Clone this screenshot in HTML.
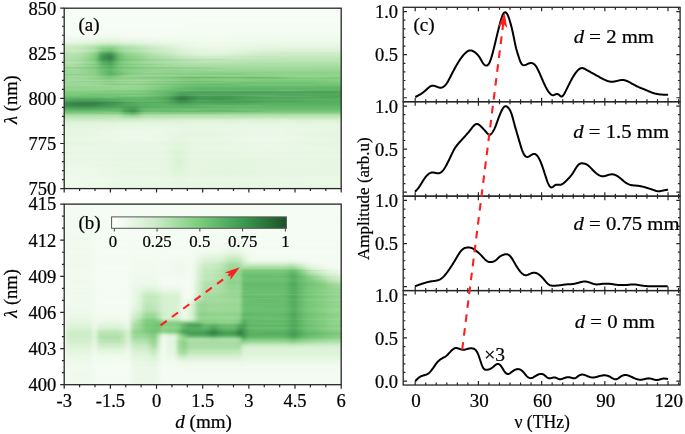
<!DOCTYPE html>
<html><head><meta charset="utf-8"><style>
html,body{margin:0;padding:0;background:#fff;width:685px;height:434px;overflow:hidden}
svg{display:block;font-family:"Liberation Serif",serif;will-change:transform}
</style></head><body>
<svg width="685" height="434" viewBox="0 0 685 434">
<rect width="685" height="434" fill="#fff"/>

<defs>
<clipPath id="clipA"><rect x="64.2" y="8.2" width="277" height="180.4"/></clipPath>
<clipPath id="clipBlk"><rect x="243" y="255" width="100" height="90"/></clipPath>
<clipPath id="clipB"><rect x="64.2" y="204.1" width="277" height="180.6"/></clipPath>
<filter id="bS" x="-10%" y="-50%" width="120%" height="200%"><feGaussianBlur stdDeviation="6 0.4"/></filter>
<filter id="bF" x="-5%" y="-5%" width="110%" height="110%"><feGaussianBlur stdDeviation="1.5 0.8"/></filter>
<filter id="bA" x="-20%" y="-20%" width="140%" height="140%"><feGaussianBlur stdDeviation="5 2"/></filter>
<filter id="bA2" x="-50%" y="-50%" width="200%" height="200%"><feGaussianBlur stdDeviation="2.5 1.5"/></filter>
<filter id="bB" x="-20%" y="-20%" width="140%" height="140%"><feGaussianBlur stdDeviation="3 3"/></filter>
<linearGradient id="gAL" x1="0" y1="0" x2="0" y2="1">
 <stop offset="0" stop-color="#c4e8be"/>
 <stop offset="0.12" stop-color="#a3d99e"/>
 <stop offset="0.4" stop-color="#8ccf8c"/>
 <stop offset="0.6" stop-color="#74c47a"/>
 <stop offset="0.75" stop-color="#5db36b"/>
 <stop offset="0.85" stop-color="#4aa35e"/>
 <stop offset="0.93" stop-color="#6dbd74"/>
 <stop offset="1" stop-color="#c8eac3"/>
</linearGradient>
<linearGradient id="gAR" x1="0" y1="0" x2="0" y2="1">
 <stop offset="0" stop-color="#e0f4dc"/>
 <stop offset="0.15" stop-color="#b6e2b0"/>
 <stop offset="0.4" stop-color="#8fd08f"/>
 <stop offset="0.6" stop-color="#6cbe74"/>
 <stop offset="0.72" stop-color="#52a964"/>
 <stop offset="0.85" stop-color="#50a862"/>
 <stop offset="0.93" stop-color="#74c47a"/>
 <stop offset="1" stop-color="#cdecc8"/>
</linearGradient>
<filter id="blur3" x="-50%" y="-50%" width="200%" height="200%"><feGaussianBlur stdDeviation="3"/></filter>
<filter id="blur4" x="-50%" y="-50%" width="200%" height="200%"><feGaussianBlur stdDeviation="4"/></filter>
<linearGradient id="gA" x1="0" y1="0" x2="0" y2="1">
 <stop offset="0" stop-color="#f8fdf6"/>
 <stop offset="0.15" stop-color="#f2fbef"/>
 <stop offset="0.21" stop-color="#d6efd1"/>
 <stop offset="0.30" stop-color="#b3e0ac"/>
 <stop offset="0.42" stop-color="#98d595"/>
 <stop offset="0.48" stop-color="#7ccb80"/>
 <stop offset="0.52" stop-color="#5ab56a"/>
 <stop offset="0.56" stop-color="#4eaa60"/>
 <stop offset="0.60" stop-color="#6fc277"/>
 <stop offset="0.63" stop-color="#b8e4b2"/>
 <stop offset="0.67" stop-color="#e2f5de"/>
 <stop offset="1" stop-color="#eaf8e7"/>
</linearGradient>
<linearGradient id="gCB" x1="0" y1="0" x2="1" y2="0">
 <stop offset="0" stop-color="#ffffff"/>
 <stop offset="0.25" stop-color="#cdebc8"/>
 <stop offset="0.5" stop-color="#7ccd7c"/>
 <stop offset="0.75" stop-color="#3b9a51"/>
 <stop offset="1" stop-color="#1b5228"/>
</linearGradient>
</defs>

<defs><linearGradient id="clipA5" gradientUnits="userSpaceOnUse" x1="54.2" y1="0" x2="350.2" y2="0"><stop offset="0" stop-color="#f6fdf6"/><stop offset="0.32" stop-color="#f6fdf6"/><stop offset="0.35" stop-color="#f6fcf5"/><stop offset="1" stop-color="#f6fcf5"/></linearGradient><linearGradient id="clipA6" gradientUnits="userSpaceOnUse" x1="54.2" y1="0" x2="350.2" y2="0"><stop offset="0" stop-color="#f6fcf5"/><stop offset="0.43" stop-color="#f6fcf5"/><stop offset="0.46" stop-color="#f6fcf4"/><stop offset="1" stop-color="#f6fcf4"/></linearGradient><linearGradient id="clipA8" gradientUnits="userSpaceOnUse" x1="54.2" y1="0" x2="350.2" y2="0"><stop offset="0" stop-color="#f6fdf6"/><stop offset="0.08" stop-color="#f6fdf6"/><stop offset="0.11" stop-color="#f6fcf5"/><stop offset="1" stop-color="#f6fcf5"/></linearGradient><linearGradient id="clipA9" gradientUnits="userSpaceOnUse" x1="54.2" y1="0" x2="350.2" y2="0"><stop offset="0" stop-color="#f6fcf5"/><stop offset="0.43" stop-color="#f6fcf5"/><stop offset="0.46" stop-color="#f6fcf4"/><stop offset="1" stop-color="#f6fcf4"/></linearGradient><linearGradient id="clipA10" gradientUnits="userSpaceOnUse" x1="54.2" y1="0" x2="350.2" y2="0"><stop offset="0" stop-color="#f6fcf5"/><stop offset="0.46" stop-color="#f6fcf5"/><stop offset="0.49" stop-color="#f6fcf4"/><stop offset="1" stop-color="#f6fcf4"/></linearGradient><linearGradient id="clipA11" gradientUnits="userSpaceOnUse" x1="54.2" y1="0" x2="350.2" y2="0"><stop offset="0" stop-color="#f6fcf5"/><stop offset="0.08" stop-color="#f6fcf5"/><stop offset="0.11" stop-color="#f6fcf4"/><stop offset="0.14" stop-color="#f5fcf4"/><stop offset="0.27" stop-color="#f5fcf4"/><stop offset="0.3" stop-color="#f6fcf4"/><stop offset="0.32" stop-color="#f5fcf4"/><stop offset="1" stop-color="#f5fcf4"/></linearGradient><linearGradient id="clipA12" gradientUnits="userSpaceOnUse" x1="54.2" y1="0" x2="350.2" y2="0"><stop offset="0" stop-color="#f6fcf5"/><stop offset="0.08" stop-color="#f6fcf5"/><stop offset="0.11" stop-color="#f6fcf4"/><stop offset="0.14" stop-color="#f5fcf4"/><stop offset="0.24" stop-color="#f5fcf4"/><stop offset="0.27" stop-color="#f6fcf4"/><stop offset="0.32" stop-color="#f6fcf4"/><stop offset="0.35" stop-color="#f5fcf4"/><stop offset="1" stop-color="#f5fcf4"/></linearGradient><linearGradient id="clipA13" gradientUnits="userSpaceOnUse" x1="54.2" y1="0" x2="350.2" y2="0"><stop offset="0" stop-color="#f6fcf5"/><stop offset="0.08" stop-color="#f6fcf5"/><stop offset="0.11" stop-color="#f6fcf4"/><stop offset="0.14" stop-color="#f5fcf4"/><stop offset="0.24" stop-color="#f5fcf4"/><stop offset="0.27" stop-color="#f6fcf4"/><stop offset="0.32" stop-color="#f6fcf4"/><stop offset="0.35" stop-color="#f5fcf4"/><stop offset="0.38" stop-color="#f5fcf4"/><stop offset="0.41" stop-color="#f5fcf3"/><stop offset="0.43" stop-color="#f5fcf3"/><stop offset="0.46" stop-color="#f4fcf3"/><stop offset="1" stop-color="#f4fcf3"/></linearGradient><linearGradient id="clipA14" gradientUnits="userSpaceOnUse" x1="54.2" y1="0" x2="350.2" y2="0"><stop offset="0" stop-color="#f6fcf5"/><stop offset="0.11" stop-color="#f6fcf5"/><stop offset="0.14" stop-color="#f5fcf4"/><stop offset="0.16" stop-color="#f5fcf4"/><stop offset="0.19" stop-color="#f5fcf3"/><stop offset="0.22" stop-color="#f5fcf4"/><stop offset="0.24" stop-color="#f5fcf4"/><stop offset="0.27" stop-color="#f6fcf4"/><stop offset="0.3" stop-color="#f6fcf5"/><stop offset="0.32" stop-color="#f5fcf4"/><stop offset="0.35" stop-color="#f5fcf4"/><stop offset="0.38" stop-color="#f5fcf3"/><stop offset="0.41" stop-color="#f4fcf3"/><stop offset="0.43" stop-color="#f4fbf2"/><stop offset="1" stop-color="#f4fbf2"/></linearGradient><linearGradient id="clipA15" gradientUnits="userSpaceOnUse" x1="54.2" y1="0" x2="350.2" y2="0"><stop offset="0" stop-color="#f5fcf4"/><stop offset="0.08" stop-color="#f5fcf4"/><stop offset="0.11" stop-color="#f5fcf3"/><stop offset="0.14" stop-color="#f4fbf2"/><stop offset="0.16" stop-color="#f3fbf2"/><stop offset="0.19" stop-color="#f3fbf1"/><stop offset="0.22" stop-color="#f3fbf2"/><stop offset="0.24" stop-color="#f4fbf2"/><stop offset="0.27" stop-color="#f4fcf3"/><stop offset="0.3" stop-color="#f5fcf3"/><stop offset="0.32" stop-color="#f5fcf3"/><stop offset="0.35" stop-color="#f4fcf3"/><stop offset="0.38" stop-color="#f4fbf2"/><stop offset="0.41" stop-color="#f3fbf2"/><stop offset="0.43" stop-color="#f3fbf1"/><stop offset="0.59" stop-color="#f3fbf1"/><stop offset="0.62" stop-color="#f2fbf1"/><stop offset="0.78" stop-color="#f2fbf1"/><stop offset="0.81" stop-color="#f2fbf0"/><stop offset="1" stop-color="#f2fbf0"/></linearGradient><linearGradient id="clipA16" gradientUnits="userSpaceOnUse" x1="54.2" y1="0" x2="350.2" y2="0"><stop offset="0" stop-color="#f2faef"/><stop offset="0.03" stop-color="#f2fbf0"/><stop offset="0.05" stop-color="#f2fbf0"/><stop offset="0.08" stop-color="#f1faef"/><stop offset="0.11" stop-color="#f1faee"/><stop offset="0.14" stop-color="#f0faed"/><stop offset="0.16" stop-color="#eff9ec"/><stop offset="0.19" stop-color="#eef9eb"/><stop offset="0.22" stop-color="#eff9ec"/><stop offset="0.24" stop-color="#effaed"/><stop offset="0.27" stop-color="#f0faee"/><stop offset="0.3" stop-color="#f1faef"/><stop offset="0.32" stop-color="#f1faef"/><stop offset="0.35" stop-color="#f2faef"/><stop offset="0.38" stop-color="#f2fbf0"/><stop offset="1" stop-color="#f2fbf0"/></linearGradient><linearGradient id="clipA17" gradientUnits="userSpaceOnUse" x1="54.2" y1="0" x2="350.2" y2="0"><stop offset="0" stop-color="#edf9ea"/><stop offset="0.05" stop-color="#edf9ea"/><stop offset="0.08" stop-color="#edf8e9"/><stop offset="0.11" stop-color="#eaf8e7"/><stop offset="0.14" stop-color="#e8f7e4"/><stop offset="0.16" stop-color="#e6f6e2"/><stop offset="0.19" stop-color="#e5f6e1"/><stop offset="0.22" stop-color="#e6f6e2"/><stop offset="0.24" stop-color="#e8f7e4"/><stop offset="0.27" stop-color="#eaf7e6"/><stop offset="0.3" stop-color="#ebf8e8"/><stop offset="0.32" stop-color="#edf9ea"/><stop offset="0.35" stop-color="#eef9eb"/><stop offset="0.38" stop-color="#eff9ec"/><stop offset="0.41" stop-color="#effaed"/><stop offset="0.43" stop-color="#f0faee"/><stop offset="0.46" stop-color="#f1faee"/><stop offset="0.49" stop-color="#f1faef"/><stop offset="0.57" stop-color="#f1faef"/><stop offset="0.59" stop-color="#f1faee"/><stop offset="0.62" stop-color="#f1faee"/><stop offset="0.65" stop-color="#f0faee"/><stop offset="1" stop-color="#f0faee"/></linearGradient><linearGradient id="clipA18" gradientUnits="userSpaceOnUse" x1="54.2" y1="0" x2="350.2" y2="0"><stop offset="0" stop-color="#ebf8e8"/><stop offset="0.03" stop-color="#ecf8e9"/><stop offset="0.05" stop-color="#ecf8e9"/><stop offset="0.08" stop-color="#ebf8e8"/><stop offset="0.11" stop-color="#e8f7e5"/><stop offset="0.14" stop-color="#e5f6e1"/><stop offset="0.16" stop-color="#e2f5de"/><stop offset="0.19" stop-color="#e1f4dc"/><stop offset="0.22" stop-color="#e3f5de"/><stop offset="0.24" stop-color="#e5f6e1"/><stop offset="0.27" stop-color="#e7f7e4"/><stop offset="0.3" stop-color="#e9f7e6"/><stop offset="0.32" stop-color="#ebf8e8"/><stop offset="0.35" stop-color="#ecf8e9"/><stop offset="0.38" stop-color="#edf9ea"/><stop offset="0.41" stop-color="#eef9eb"/><stop offset="0.43" stop-color="#eff9ec"/><stop offset="0.46" stop-color="#eff9ec"/><stop offset="0.49" stop-color="#f0faed"/><stop offset="0.57" stop-color="#f0faed"/><stop offset="0.59" stop-color="#effaed"/><stop offset="0.62" stop-color="#eff9ec"/><stop offset="0.68" stop-color="#eff9ec"/><stop offset="0.7" stop-color="#eef9eb"/><stop offset="1" stop-color="#eef9eb"/></linearGradient><linearGradient id="clipA19" gradientUnits="userSpaceOnUse" x1="54.2" y1="0" x2="350.2" y2="0"><stop offset="0" stop-color="#e1f5dd"/><stop offset="0.03" stop-color="#e2f5de"/><stop offset="0.05" stop-color="#e3f5df"/><stop offset="0.08" stop-color="#e1f5dd"/><stop offset="0.11" stop-color="#ddf3d9"/><stop offset="0.14" stop-color="#d8f1d3"/><stop offset="0.16" stop-color="#d2eecc"/><stop offset="0.19" stop-color="#cfedc9"/><stop offset="0.22" stop-color="#d3efce"/><stop offset="0.24" stop-color="#d8f1d3"/><stop offset="0.27" stop-color="#dcf3d7"/><stop offset="0.3" stop-color="#dff4da"/><stop offset="0.32" stop-color="#e1f5dd"/><stop offset="0.35" stop-color="#e3f5df"/><stop offset="0.38" stop-color="#e6f6e2"/><stop offset="0.41" stop-color="#e8f7e4"/><stop offset="0.43" stop-color="#eaf8e6"/><stop offset="0.46" stop-color="#ecf8e8"/><stop offset="0.49" stop-color="#edf9ea"/><stop offset="0.51" stop-color="#edf9ea"/><stop offset="0.54" stop-color="#eef9eb"/><stop offset="0.57" stop-color="#edf9ea"/><stop offset="0.59" stop-color="#ecf8e9"/><stop offset="0.62" stop-color="#ecf8e8"/><stop offset="0.65" stop-color="#ebf8e7"/><stop offset="0.68" stop-color="#eaf8e6"/><stop offset="0.7" stop-color="#e9f7e6"/><stop offset="0.73" stop-color="#e9f7e6"/><stop offset="0.76" stop-color="#e9f7e5"/><stop offset="1" stop-color="#e9f7e5"/></linearGradient><linearGradient id="clipA20" gradientUnits="userSpaceOnUse" x1="54.2" y1="0" x2="350.2" y2="0"><stop offset="0" stop-color="#d1eecc"/><stop offset="0.03" stop-color="#d3efce"/><stop offset="0.05" stop-color="#d4efcf"/><stop offset="0.08" stop-color="#d1eecc"/><stop offset="0.11" stop-color="#cbecc6"/><stop offset="0.14" stop-color="#c3e8be"/><stop offset="0.16" stop-color="#b7e3b1"/><stop offset="0.19" stop-color="#b1e1ac"/><stop offset="0.22" stop-color="#bce5b6"/><stop offset="0.24" stop-color="#c3e8bd"/><stop offset="0.27" stop-color="#c8eac3"/><stop offset="0.3" stop-color="#ceedc9"/><stop offset="0.32" stop-color="#d4f0cf"/><stop offset="0.35" stop-color="#daf2d5"/><stop offset="0.38" stop-color="#dff4da"/><stop offset="0.41" stop-color="#e3f5df"/><stop offset="0.43" stop-color="#e8f7e4"/><stop offset="0.46" stop-color="#ecf8e8"/><stop offset="0.49" stop-color="#eef9eb"/><stop offset="0.51" stop-color="#eff9ec"/><stop offset="0.54" stop-color="#eff9ec"/><stop offset="0.57" stop-color="#eef9eb"/><stop offset="0.59" stop-color="#edf9ea"/><stop offset="0.62" stop-color="#ecf8e9"/><stop offset="0.65" stop-color="#ebf8e7"/><stop offset="0.68" stop-color="#e9f7e6"/><stop offset="0.7" stop-color="#e9f7e5"/><stop offset="0.73" stop-color="#e8f7e5"/><stop offset="0.76" stop-color="#e8f7e4"/><stop offset="1" stop-color="#e8f7e4"/></linearGradient><linearGradient id="clipA21" gradientUnits="userSpaceOnUse" x1="54.2" y1="0" x2="350.2" y2="0"><stop offset="0" stop-color="#bee6b8"/><stop offset="0.03" stop-color="#c1e7bb"/><stop offset="0.05" stop-color="#c3e8bd"/><stop offset="0.08" stop-color="#bfe7b9"/><stop offset="0.11" stop-color="#b5e2b0"/><stop offset="0.14" stop-color="#a7dda2"/><stop offset="0.16" stop-color="#90d38c"/><stop offset="0.19" stop-color="#86cf83"/><stop offset="0.22" stop-color="#9cd897"/><stop offset="0.24" stop-color="#a7dca2"/><stop offset="0.27" stop-color="#b0e0aa"/><stop offset="0.3" stop-color="#bae4b4"/><stop offset="0.32" stop-color="#c3e8bd"/><stop offset="0.35" stop-color="#cbecc6"/><stop offset="0.38" stop-color="#d4efcf"/><stop offset="0.41" stop-color="#dcf3d7"/><stop offset="0.43" stop-color="#e2f5de"/><stop offset="0.46" stop-color="#e8f7e4"/><stop offset="0.49" stop-color="#ebf8e8"/><stop offset="0.51" stop-color="#ecf8e9"/><stop offset="0.54" stop-color="#edf8e9"/><stop offset="0.57" stop-color="#ecf8e9"/><stop offset="0.59" stop-color="#eaf8e7"/><stop offset="0.62" stop-color="#e8f7e4"/><stop offset="0.65" stop-color="#e6f6e2"/><stop offset="0.68" stop-color="#e4f6e0"/><stop offset="0.7" stop-color="#e3f5df"/><stop offset="0.73" stop-color="#e2f5de"/><stop offset="1" stop-color="#e2f5de"/></linearGradient><linearGradient id="clipA22" gradientUnits="userSpaceOnUse" x1="54.2" y1="0" x2="350.2" y2="0"><stop offset="0" stop-color="#c4e9be"/><stop offset="0.03" stop-color="#c7eac2"/><stop offset="0.05" stop-color="#c9ebc3"/><stop offset="0.08" stop-color="#c6e9c0"/><stop offset="0.11" stop-color="#bce5b7"/><stop offset="0.14" stop-color="#acdfa7"/><stop offset="0.16" stop-color="#8ad187"/><stop offset="0.19" stop-color="#7dcc7b"/><stop offset="0.22" stop-color="#a0d99b"/><stop offset="0.24" stop-color="#addfa8"/><stop offset="0.27" stop-color="#b6e3b0"/><stop offset="0.3" stop-color="#bfe7b9"/><stop offset="0.32" stop-color="#c6eac1"/><stop offset="0.35" stop-color="#cdedc8"/><stop offset="0.38" stop-color="#d4efcf"/><stop offset="0.41" stop-color="#dbf2d6"/><stop offset="0.43" stop-color="#e0f4dc"/><stop offset="0.46" stop-color="#e5f6e1"/><stop offset="0.49" stop-color="#e8f7e5"/><stop offset="0.51" stop-color="#eaf7e6"/><stop offset="0.54" stop-color="#eaf8e6"/><stop offset="0.57" stop-color="#e9f7e5"/><stop offset="0.59" stop-color="#e7f7e3"/><stop offset="0.62" stop-color="#e5f6e1"/><stop offset="0.65" stop-color="#e3f5de"/><stop offset="0.68" stop-color="#e1f4dc"/><stop offset="0.7" stop-color="#dff4db"/><stop offset="0.73" stop-color="#dff4da"/><stop offset="0.76" stop-color="#def3da"/><stop offset="0.78" stop-color="#def3d9"/><stop offset="1" stop-color="#def3d9"/></linearGradient><linearGradient id="clipA23" gradientUnits="userSpaceOnUse" x1="54.2" y1="0" x2="350.2" y2="0"><stop offset="0" stop-color="#c2e8bc"/><stop offset="0.03" stop-color="#c6e9c0"/><stop offset="0.05" stop-color="#c8eac2"/><stop offset="0.08" stop-color="#c5e9bf"/><stop offset="0.11" stop-color="#b9e4b4"/><stop offset="0.14" stop-color="#a6dca1"/><stop offset="0.16" stop-color="#75c675"/><stop offset="0.19" stop-color="#65bc6a"/><stop offset="0.22" stop-color="#96d592"/><stop offset="0.24" stop-color="#a8dda3"/><stop offset="0.27" stop-color="#b2e1ac"/><stop offset="0.3" stop-color="#bbe5b6"/><stop offset="0.32" stop-color="#c3e8bd"/><stop offset="0.35" stop-color="#caebc4"/><stop offset="0.38" stop-color="#d0eecb"/><stop offset="0.41" stop-color="#d7f1d2"/><stop offset="0.43" stop-color="#ddf3d8"/><stop offset="0.46" stop-color="#e1f5dd"/><stop offset="0.49" stop-color="#e5f6e1"/><stop offset="0.51" stop-color="#e6f6e2"/><stop offset="0.54" stop-color="#e7f6e3"/><stop offset="0.57" stop-color="#e6f6e2"/><stop offset="0.59" stop-color="#e4f5e0"/><stop offset="0.62" stop-color="#e1f4dd"/><stop offset="0.65" stop-color="#dff4da"/><stop offset="0.68" stop-color="#ddf3d8"/><stop offset="0.7" stop-color="#dbf2d6"/><stop offset="0.73" stop-color="#daf2d6"/><stop offset="0.76" stop-color="#daf2d5"/><stop offset="1" stop-color="#daf2d5"/></linearGradient><linearGradient id="clipA24" gradientUnits="userSpaceOnUse" x1="54.2" y1="0" x2="350.2" y2="0"><stop offset="0" stop-color="#aedfa8"/><stop offset="0.03" stop-color="#b4e2ae"/><stop offset="0.05" stop-color="#b8e3b2"/><stop offset="0.08" stop-color="#b2e1ad"/><stop offset="0.11" stop-color="#a3db9e"/><stop offset="0.14" stop-color="#87cf84"/><stop offset="0.16" stop-color="#4da659"/><stop offset="0.19" stop-color="#3f944e"/><stop offset="0.22" stop-color="#73c574"/><stop offset="0.24" stop-color="#8bd188"/><stop offset="0.27" stop-color="#98d694"/><stop offset="0.3" stop-color="#a5db9f"/><stop offset="0.32" stop-color="#afe0aa"/><stop offset="0.35" stop-color="#bae4b4"/><stop offset="0.38" stop-color="#c3e8bd"/><stop offset="0.41" stop-color="#cbecc6"/><stop offset="0.43" stop-color="#d4efce"/><stop offset="0.46" stop-color="#dbf2d6"/><stop offset="0.49" stop-color="#dff4da"/><stop offset="0.51" stop-color="#e0f4dc"/><stop offset="0.54" stop-color="#e1f4dc"/><stop offset="0.57" stop-color="#dff4db"/><stop offset="0.59" stop-color="#ddf3d9"/><stop offset="0.62" stop-color="#dbf2d6"/><stop offset="0.65" stop-color="#d7f1d2"/><stop offset="0.68" stop-color="#d4f0cf"/><stop offset="0.7" stop-color="#d2efcd"/><stop offset="0.73" stop-color="#d1eecc"/><stop offset="0.76" stop-color="#d0eecb"/><stop offset="1" stop-color="#d0eecb"/></linearGradient><linearGradient id="clipA25" gradientUnits="userSpaceOnUse" x1="54.2" y1="0" x2="350.2" y2="0"><stop offset="0" stop-color="#aadea5"/><stop offset="0.03" stop-color="#b1e1ab"/><stop offset="0.05" stop-color="#b5e3b0"/><stop offset="0.08" stop-color="#b0e0aa"/><stop offset="0.11" stop-color="#a0d99b"/><stop offset="0.14" stop-color="#82ce80"/><stop offset="0.16" stop-color="#439a52"/><stop offset="0.19" stop-color="#348345"/><stop offset="0.22" stop-color="#6ec270"/><stop offset="0.24" stop-color="#88d085"/><stop offset="0.27" stop-color="#94d590"/><stop offset="0.3" stop-color="#a1da9b"/><stop offset="0.32" stop-color="#abdea5"/><stop offset="0.35" stop-color="#b4e2ae"/><stop offset="0.38" stop-color="#bde6b7"/><stop offset="0.41" stop-color="#c5e9bf"/><stop offset="0.43" stop-color="#ccecc7"/><stop offset="0.46" stop-color="#d3efcd"/><stop offset="0.49" stop-color="#d7f1d2"/><stop offset="0.51" stop-color="#d9f2d4"/><stop offset="0.54" stop-color="#d9f2d4"/><stop offset="0.57" stop-color="#d8f1d3"/><stop offset="0.59" stop-color="#d6f0d0"/><stop offset="0.62" stop-color="#d3efcd"/><stop offset="0.65" stop-color="#d0eeca"/><stop offset="0.68" stop-color="#cdedc8"/><stop offset="0.7" stop-color="#ccecc6"/><stop offset="0.73" stop-color="#cbebc5"/><stop offset="0.76" stop-color="#caebc4"/><stop offset="0.86" stop-color="#caebc4"/><stop offset="0.89" stop-color="#c9ebc4"/><stop offset="1" stop-color="#c9ebc4"/></linearGradient><linearGradient id="clipA26" gradientUnits="userSpaceOnUse" x1="54.2" y1="0" x2="350.2" y2="0"><stop offset="0" stop-color="#a1da9c"/><stop offset="0.03" stop-color="#a8dda3"/><stop offset="0.05" stop-color="#aedfa8"/><stop offset="0.08" stop-color="#a8dda3"/><stop offset="0.11" stop-color="#96d592"/><stop offset="0.14" stop-color="#77c877"/><stop offset="0.16" stop-color="#3b8e4b"/><stop offset="0.19" stop-color="#2d753d"/><stop offset="0.22" stop-color="#63bb69"/><stop offset="0.24" stop-color="#7ccb7a"/><stop offset="0.27" stop-color="#89d086"/><stop offset="0.3" stop-color="#95d591"/><stop offset="0.32" stop-color="#a0d99b"/><stop offset="0.35" stop-color="#a8dda3"/><stop offset="0.38" stop-color="#b1e0ab"/><stop offset="0.41" stop-color="#b9e4b3"/><stop offset="0.43" stop-color="#c1e7bb"/><stop offset="0.46" stop-color="#c6eac0"/><stop offset="0.49" stop-color="#caebc4"/><stop offset="0.51" stop-color="#cbecc6"/><stop offset="0.54" stop-color="#ccecc6"/><stop offset="0.57" stop-color="#cbebc5"/><stop offset="0.59" stop-color="#c9ebc3"/><stop offset="0.62" stop-color="#c6eac0"/><stop offset="0.65" stop-color="#c4e9be"/><stop offset="0.68" stop-color="#c2e8bc"/><stop offset="0.7" stop-color="#c0e7ba"/><stop offset="0.73" stop-color="#bfe7b9"/><stop offset="0.76" stop-color="#bfe6b9"/><stop offset="0.78" stop-color="#bfe6b9"/><stop offset="0.81" stop-color="#bee6b8"/><stop offset="1" stop-color="#bee6b8"/></linearGradient><linearGradient id="clipA27" gradientUnits="userSpaceOnUse" x1="54.2" y1="0" x2="350.2" y2="0"><stop offset="0" stop-color="#a3db9e"/><stop offset="0.03" stop-color="#aadea5"/><stop offset="0.05" stop-color="#b0e0aa"/><stop offset="0.08" stop-color="#aadea5"/><stop offset="0.11" stop-color="#99d694"/><stop offset="0.14" stop-color="#7bca79"/><stop offset="0.16" stop-color="#419750"/><stop offset="0.19" stop-color="#317e42"/><stop offset="0.22" stop-color="#68be6c"/><stop offset="0.24" stop-color="#7ecc7c"/><stop offset="0.27" stop-color="#8bd188"/><stop offset="0.3" stop-color="#97d693"/><stop offset="0.32" stop-color="#a1da9c"/><stop offset="0.35" stop-color="#a8dda3"/><stop offset="0.38" stop-color="#b0e0aa"/><stop offset="0.41" stop-color="#b7e3b1"/><stop offset="0.43" stop-color="#bde6b7"/><stop offset="0.46" stop-color="#c2e8bc"/><stop offset="0.49" stop-color="#c5e9bf"/><stop offset="0.51" stop-color="#c6eac1"/><stop offset="0.54" stop-color="#c6eac1"/><stop offset="0.57" stop-color="#c6e9c0"/><stop offset="0.59" stop-color="#c4e9bf"/><stop offset="0.62" stop-color="#c3e8bd"/><stop offset="0.65" stop-color="#c1e7bb"/><stop offset="0.68" stop-color="#c0e7ba"/><stop offset="0.7" stop-color="#bee6b8"/><stop offset="0.73" stop-color="#bee6b8"/><stop offset="0.76" stop-color="#bde6b7"/><stop offset="1" stop-color="#bde6b7"/></linearGradient><linearGradient id="clipA28" gradientUnits="userSpaceOnUse" x1="54.2" y1="0" x2="350.2" y2="0"><stop offset="0" stop-color="#a8dda3"/><stop offset="0.03" stop-color="#afe0aa"/><stop offset="0.05" stop-color="#b5e2af"/><stop offset="0.08" stop-color="#b0e0aa"/><stop offset="0.11" stop-color="#a0d99b"/><stop offset="0.14" stop-color="#86cf83"/><stop offset="0.16" stop-color="#50a95b"/><stop offset="0.19" stop-color="#3e934e"/><stop offset="0.22" stop-color="#73c574"/><stop offset="0.24" stop-color="#87d084"/><stop offset="0.27" stop-color="#93d48f"/><stop offset="0.3" stop-color="#9dd898"/><stop offset="0.32" stop-color="#a5db9f"/><stop offset="0.35" stop-color="#abdea5"/><stop offset="0.38" stop-color="#b0e0aa"/><stop offset="0.41" stop-color="#b5e2af"/><stop offset="0.43" stop-color="#b9e4b3"/><stop offset="0.46" stop-color="#bde6b7"/><stop offset="0.49" stop-color="#bfe7b9"/><stop offset="0.51" stop-color="#c0e7ba"/><stop offset="0.57" stop-color="#c0e7ba"/><stop offset="0.59" stop-color="#bfe7b9"/><stop offset="0.62" stop-color="#bee6b8"/><stop offset="0.65" stop-color="#bce5b6"/><stop offset="0.68" stop-color="#bbe5b5"/><stop offset="0.7" stop-color="#bbe5b5"/><stop offset="0.73" stop-color="#bae4b4"/><stop offset="1" stop-color="#bae4b4"/></linearGradient><linearGradient id="clipA29" gradientUnits="userSpaceOnUse" x1="54.2" y1="0" x2="350.2" y2="0"><stop offset="0" stop-color="#a1da9c"/><stop offset="0.03" stop-color="#a8dda3"/><stop offset="0.05" stop-color="#addfa8"/><stop offset="0.08" stop-color="#a8dda3"/><stop offset="0.11" stop-color="#99d694"/><stop offset="0.14" stop-color="#81cd7f"/><stop offset="0.16" stop-color="#57b061"/><stop offset="0.19" stop-color="#459d53"/><stop offset="0.22" stop-color="#71c472"/><stop offset="0.24" stop-color="#80cd7e"/><stop offset="0.27" stop-color="#8bd188"/><stop offset="0.3" stop-color="#94d590"/><stop offset="0.32" stop-color="#9bd897"/><stop offset="0.35" stop-color="#a0d99b"/><stop offset="0.38" stop-color="#a4db9f"/><stop offset="0.41" stop-color="#a7dca2"/><stop offset="0.43" stop-color="#aadea5"/><stop offset="0.46" stop-color="#addfa7"/><stop offset="0.49" stop-color="#aedfa9"/><stop offset="0.51" stop-color="#afe0a9"/><stop offset="0.54" stop-color="#afe0a9"/><stop offset="0.57" stop-color="#aee0a9"/><stop offset="0.59" stop-color="#aedfa8"/><stop offset="0.62" stop-color="#addfa8"/><stop offset="0.65" stop-color="#acdfa7"/><stop offset="0.68" stop-color="#acdea6"/><stop offset="0.7" stop-color="#abdea6"/><stop offset="0.73" stop-color="#abdea6"/><stop offset="0.76" stop-color="#abdea5"/><stop offset="1" stop-color="#abdea5"/></linearGradient><linearGradient id="clipA30" gradientUnits="userSpaceOnUse" x1="54.2" y1="0" x2="350.2" y2="0"><stop offset="0" stop-color="#a2da9d"/><stop offset="0.03" stop-color="#a9dda4"/><stop offset="0.05" stop-color="#aedfa8"/><stop offset="0.08" stop-color="#aadda4"/><stop offset="0.11" stop-color="#9cd897"/><stop offset="0.14" stop-color="#89d086"/><stop offset="0.16" stop-color="#67bd6c"/><stop offset="0.19" stop-color="#54ad5e"/><stop offset="0.22" stop-color="#7aca78"/><stop offset="0.24" stop-color="#86cf84"/><stop offset="0.27" stop-color="#90d38c"/><stop offset="0.3" stop-color="#98d693"/><stop offset="0.32" stop-color="#9dd898"/><stop offset="0.35" stop-color="#a1da9c"/><stop offset="0.38" stop-color="#a4db9f"/><stop offset="0.41" stop-color="#a7dca1"/><stop offset="0.43" stop-color="#a9dda4"/><stop offset="0.46" stop-color="#abdea5"/><stop offset="0.49" stop-color="#acdea6"/><stop offset="0.57" stop-color="#acdea6"/><stop offset="0.59" stop-color="#abdea6"/><stop offset="0.62" stop-color="#abdea6"/><stop offset="0.65" stop-color="#abdea5"/><stop offset="0.68" stop-color="#aadea5"/><stop offset="1" stop-color="#aadea5"/></linearGradient><linearGradient id="clipA31" gradientUnits="userSpaceOnUse" x1="54.2" y1="0" x2="350.2" y2="0"><stop offset="0" stop-color="#95d590"/><stop offset="0.03" stop-color="#9bd797"/><stop offset="0.05" stop-color="#a0d99b"/><stop offset="0.08" stop-color="#9cd897"/><stop offset="0.11" stop-color="#8ed28b"/><stop offset="0.14" stop-color="#7dcc7b"/><stop offset="0.16" stop-color="#64bb6a"/><stop offset="0.19" stop-color="#54ad5e"/><stop offset="0.22" stop-color="#71c473"/><stop offset="0.24" stop-color="#7aca79"/><stop offset="0.27" stop-color="#83ce80"/><stop offset="0.3" stop-color="#8ad187"/><stop offset="0.32" stop-color="#8fd38c"/><stop offset="0.35" stop-color="#93d48f"/><stop offset="0.38" stop-color="#96d592"/><stop offset="0.41" stop-color="#98d694"/><stop offset="0.43" stop-color="#9ad795"/><stop offset="0.46" stop-color="#9bd897"/><stop offset="0.49" stop-color="#9cd898"/><stop offset="0.57" stop-color="#9cd898"/><stop offset="0.59" stop-color="#9cd897"/><stop offset="0.7" stop-color="#9cd897"/><stop offset="0.73" stop-color="#9bd897"/><stop offset="1" stop-color="#9bd897"/></linearGradient><linearGradient id="clipA32" gradientUnits="userSpaceOnUse" x1="54.2" y1="0" x2="350.2" y2="0"><stop offset="0" stop-color="#9ad795"/><stop offset="0.03" stop-color="#9fd99a"/><stop offset="0.05" stop-color="#a3db9e"/><stop offset="0.08" stop-color="#a0d99b"/><stop offset="0.11" stop-color="#95d591"/><stop offset="0.14" stop-color="#87d084"/><stop offset="0.16" stop-color="#72c473"/><stop offset="0.19" stop-color="#60b967"/><stop offset="0.22" stop-color="#7bca79"/><stop offset="0.24" stop-color="#84ce81"/><stop offset="0.27" stop-color="#8bd188"/><stop offset="0.3" stop-color="#91d38d"/><stop offset="0.32" stop-color="#95d590"/><stop offset="0.35" stop-color="#97d692"/><stop offset="0.38" stop-color="#98d694"/><stop offset="0.41" stop-color="#99d795"/><stop offset="0.43" stop-color="#9ad795"/><stop offset="0.46" stop-color="#9bd796"/><stop offset="1" stop-color="#9bd796"/></linearGradient><linearGradient id="clipA33" gradientUnits="userSpaceOnUse" x1="54.2" y1="0" x2="350.2" y2="0"><stop offset="0" stop-color="#97d693"/><stop offset="0.03" stop-color="#9bd897"/><stop offset="0.05" stop-color="#9fd99a"/><stop offset="0.08" stop-color="#9cd897"/><stop offset="0.11" stop-color="#93d48f"/><stop offset="0.14" stop-color="#86cf83"/><stop offset="0.16" stop-color="#70c372"/><stop offset="0.19" stop-color="#5db665"/><stop offset="0.22" stop-color="#76c776"/><stop offset="0.24" stop-color="#81cd7f"/><stop offset="0.27" stop-color="#8ad187"/><stop offset="0.3" stop-color="#8fd38b"/><stop offset="0.32" stop-color="#91d48e"/><stop offset="0.35" stop-color="#92d48e"/><stop offset="0.43" stop-color="#92d48e"/><stop offset="0.46" stop-color="#91d48e"/><stop offset="0.49" stop-color="#91d48d"/><stop offset="0.62" stop-color="#91d48d"/><stop offset="0.65" stop-color="#91d38d"/><stop offset="1" stop-color="#91d38d"/></linearGradient><linearGradient id="clipA34" gradientUnits="userSpaceOnUse" x1="54.2" y1="0" x2="350.2" y2="0"><stop offset="0" stop-color="#8ed28a"/><stop offset="0.03" stop-color="#92d48e"/><stop offset="0.05" stop-color="#94d590"/><stop offset="0.08" stop-color="#92d48e"/><stop offset="0.11" stop-color="#8ad086"/><stop offset="0.14" stop-color="#7bcb7a"/><stop offset="0.16" stop-color="#63bb69"/><stop offset="0.19" stop-color="#4fa85b"/><stop offset="0.22" stop-color="#64bb69"/><stop offset="0.24" stop-color="#75c675"/><stop offset="0.27" stop-color="#81cd7f"/><stop offset="0.3" stop-color="#87cf84"/><stop offset="0.32" stop-color="#88d085"/><stop offset="0.35" stop-color="#88d085"/><stop offset="0.38" stop-color="#86cf83"/><stop offset="0.41" stop-color="#85cf82"/><stop offset="0.43" stop-color="#84ce81"/><stop offset="0.46" stop-color="#83ce80"/><stop offset="0.49" stop-color="#82cd80"/><stop offset="1" stop-color="#82cd80"/></linearGradient><linearGradient id="clipA35" gradientUnits="userSpaceOnUse" x1="54.2" y1="0" x2="350.2" y2="0"><stop offset="0" stop-color="#9fd99a"/><stop offset="0.03" stop-color="#a2da9d"/><stop offset="0.05" stop-color="#a4db9e"/><stop offset="0.08" stop-color="#a2da9d"/><stop offset="0.11" stop-color="#9cd898"/><stop offset="0.14" stop-color="#92d48e"/><stop offset="0.16" stop-color="#7bca79"/><stop offset="0.19" stop-color="#67bd6c"/><stop offset="0.22" stop-color="#7bcb7a"/><stop offset="0.24" stop-color="#8cd189"/><stop offset="0.27" stop-color="#97d692"/><stop offset="0.3" stop-color="#9ad796"/><stop offset="0.32" stop-color="#9bd796"/><stop offset="0.35" stop-color="#9ad795"/><stop offset="0.38" stop-color="#98d694"/><stop offset="0.41" stop-color="#97d692"/><stop offset="0.43" stop-color="#95d591"/><stop offset="0.46" stop-color="#94d590"/><stop offset="0.49" stop-color="#94d490"/><stop offset="1" stop-color="#94d490"/></linearGradient><linearGradient id="clipA36" gradientUnits="userSpaceOnUse" x1="54.2" y1="0" x2="350.2" y2="0"><stop offset="0" stop-color="#95d591"/><stop offset="0.03" stop-color="#97d693"/><stop offset="0.05" stop-color="#98d694"/><stop offset="0.08" stop-color="#97d693"/><stop offset="0.11" stop-color="#93d48f"/><stop offset="0.14" stop-color="#8dd289"/><stop offset="0.16" stop-color="#7fcc7d"/><stop offset="0.19" stop-color="#73c574"/><stop offset="0.22" stop-color="#83ce80"/><stop offset="0.24" stop-color="#8ad187"/><stop offset="0.27" stop-color="#8fd38b"/><stop offset="0.3" stop-color="#90d38d"/><stop offset="0.32" stop-color="#90d38c"/><stop offset="0.35" stop-color="#8ed28a"/><stop offset="0.38" stop-color="#8bd188"/><stop offset="0.41" stop-color="#88d085"/><stop offset="0.43" stop-color="#86cf83"/><stop offset="0.46" stop-color="#84ce82"/><stop offset="0.49" stop-color="#83ce81"/><stop offset="1" stop-color="#83ce81"/></linearGradient><linearGradient id="clipA37" gradientUnits="userSpaceOnUse" x1="54.2" y1="0" x2="350.2" y2="0"><stop offset="0" stop-color="#9ad795"/><stop offset="0.03" stop-color="#9bd797"/><stop offset="0.05" stop-color="#9cd897"/><stop offset="0.08" stop-color="#9bd897"/><stop offset="0.11" stop-color="#99d794"/><stop offset="0.14" stop-color="#96d591"/><stop offset="0.16" stop-color="#8ed28b"/><stop offset="0.19" stop-color="#85cf83"/><stop offset="0.22" stop-color="#92d48e"/><stop offset="0.24" stop-color="#95d591"/><stop offset="0.27" stop-color="#96d692"/><stop offset="0.3" stop-color="#96d592"/><stop offset="0.32" stop-color="#93d48f"/><stop offset="0.35" stop-color="#90d38c"/><stop offset="0.38" stop-color="#8cd188"/><stop offset="0.41" stop-color="#87d084"/><stop offset="0.43" stop-color="#84ce81"/><stop offset="0.46" stop-color="#81cd7f"/><stop offset="0.49" stop-color="#80cc7d"/><stop offset="1" stop-color="#80cc7d"/></linearGradient><linearGradient id="clipA38" gradientUnits="userSpaceOnUse" x1="54.2" y1="0" x2="350.2" y2="0"><stop offset="0" stop-color="#a3da9d"/><stop offset="0.03" stop-color="#a3db9e"/><stop offset="0.05" stop-color="#a4db9f"/><stop offset="0.08" stop-color="#a3db9e"/><stop offset="0.11" stop-color="#a2da9d"/><stop offset="0.14" stop-color="#a0d99b"/><stop offset="0.16" stop-color="#9bd797"/><stop offset="0.19" stop-color="#96d591"/><stop offset="0.22" stop-color="#9ed999"/><stop offset="0.24" stop-color="#a0d99b"/><stop offset="0.27" stop-color="#a0da9b"/><stop offset="0.3" stop-color="#9fd99a"/><stop offset="0.32" stop-color="#9bd897"/><stop offset="0.35" stop-color="#96d692"/><stop offset="0.38" stop-color="#91d38d"/><stop offset="0.41" stop-color="#8cd188"/><stop offset="0.43" stop-color="#87cf84"/><stop offset="0.46" stop-color="#83ce80"/><stop offset="0.49" stop-color="#81cd7f"/><stop offset="1" stop-color="#81cd7f"/></linearGradient><linearGradient id="clipA39" gradientUnits="userSpaceOnUse" x1="54.2" y1="0" x2="350.2" y2="0"><stop offset="0" stop-color="#91d48d"/><stop offset="0.03" stop-color="#92d48e"/><stop offset="0.08" stop-color="#92d48e"/><stop offset="0.11" stop-color="#91d38d"/><stop offset="0.14" stop-color="#8fd38c"/><stop offset="0.16" stop-color="#8cd188"/><stop offset="0.19" stop-color="#87cf84"/><stop offset="0.22" stop-color="#8ed28b"/><stop offset="0.24" stop-color="#8fd38b"/><stop offset="0.27" stop-color="#8fd38c"/><stop offset="0.3" stop-color="#8dd28a"/><stop offset="0.32" stop-color="#89d085"/><stop offset="0.35" stop-color="#82ce80"/><stop offset="0.38" stop-color="#7ccb7a"/><stop offset="0.41" stop-color="#76c776"/><stop offset="0.43" stop-color="#71c473"/><stop offset="0.46" stop-color="#6ec270"/><stop offset="0.49" stop-color="#6cc16f"/><stop offset="1" stop-color="#6cc16f"/></linearGradient><linearGradient id="clipA40" gradientUnits="userSpaceOnUse" x1="54.2" y1="0" x2="350.2" y2="0"><stop offset="0" stop-color="#9fd99a"/><stop offset="0.11" stop-color="#9fd99a"/><stop offset="0.14" stop-color="#9ed999"/><stop offset="0.16" stop-color="#9bd897"/><stop offset="0.19" stop-color="#99d694"/><stop offset="0.22" stop-color="#9dd898"/><stop offset="0.24" stop-color="#9ed899"/><stop offset="0.27" stop-color="#9ed899"/><stop offset="0.3" stop-color="#9bd796"/><stop offset="0.32" stop-color="#95d591"/><stop offset="0.35" stop-color="#8ed28b"/><stop offset="0.38" stop-color="#86cf84"/><stop offset="0.41" stop-color="#7ecc7c"/><stop offset="0.43" stop-color="#78c877"/><stop offset="0.46" stop-color="#74c674"/><stop offset="0.49" stop-color="#72c473"/><stop offset="1" stop-color="#72c473"/></linearGradient><linearGradient id="clipA41" gradientUnits="userSpaceOnUse" x1="54.2" y1="0" x2="350.2" y2="0"><stop offset="0" stop-color="#8ed28b"/><stop offset="0.03" stop-color="#8fd28b"/><stop offset="0.08" stop-color="#8fd28b"/><stop offset="0.11" stop-color="#8ed28b"/><stop offset="0.14" stop-color="#8ed28a"/><stop offset="0.16" stop-color="#8cd188"/><stop offset="0.19" stop-color="#8ad086"/><stop offset="0.22" stop-color="#8dd28a"/><stop offset="0.27" stop-color="#8dd28a"/><stop offset="0.3" stop-color="#89d085"/><stop offset="0.32" stop-color="#81cd7e"/><stop offset="0.35" stop-color="#77c877"/><stop offset="0.38" stop-color="#6ec271"/><stop offset="0.41" stop-color="#66bc6b"/><stop offset="0.43" stop-color="#5eb765"/><stop offset="0.46" stop-color="#5ab362"/><stop offset="0.49" stop-color="#57b061"/><stop offset="1" stop-color="#57b061"/></linearGradient><linearGradient id="clipA42" gradientUnits="userSpaceOnUse" x1="54.2" y1="0" x2="350.2" y2="0"><stop offset="0" stop-color="#97d693"/><stop offset="0.14" stop-color="#97d693"/><stop offset="0.16" stop-color="#96d592"/><stop offset="0.19" stop-color="#95d590"/><stop offset="0.22" stop-color="#97d692"/><stop offset="0.24" stop-color="#97d692"/><stop offset="0.27" stop-color="#96d692"/><stop offset="0.3" stop-color="#92d48e"/><stop offset="0.32" stop-color="#8ad187"/><stop offset="0.35" stop-color="#80cd7e"/><stop offset="0.38" stop-color="#76c776"/><stop offset="0.41" stop-color="#6dc170"/><stop offset="0.43" stop-color="#65bc6a"/><stop offset="0.46" stop-color="#5fb866"/><stop offset="0.49" stop-color="#5db665"/><stop offset="1" stop-color="#5db665"/></linearGradient><linearGradient id="clipA43" gradientUnits="userSpaceOnUse" x1="54.2" y1="0" x2="350.2" y2="0"><stop offset="0" stop-color="#81cd7e"/><stop offset="0.11" stop-color="#81cd7e"/><stop offset="0.14" stop-color="#80cd7e"/><stop offset="0.16" stop-color="#80cd7e"/><stop offset="0.19" stop-color="#7fcc7d"/><stop offset="0.22" stop-color="#80cd7e"/><stop offset="0.24" stop-color="#81cd7e"/><stop offset="0.27" stop-color="#80cd7e"/><stop offset="0.3" stop-color="#7bcb7a"/><stop offset="0.32" stop-color="#75c675"/><stop offset="0.35" stop-color="#6cc16f"/><stop offset="0.38" stop-color="#63bb69"/><stop offset="0.41" stop-color="#5ab363"/><stop offset="0.43" stop-color="#54ad5e"/><stop offset="0.46" stop-color="#50a95b"/><stop offset="0.49" stop-color="#4ea75a"/><stop offset="1" stop-color="#4ea75a"/></linearGradient><linearGradient id="clipA44" gradientUnits="userSpaceOnUse" x1="54.2" y1="0" x2="350.2" y2="0"><stop offset="0" stop-color="#76c776"/><stop offset="0.16" stop-color="#76c776"/><stop offset="0.19" stop-color="#75c775"/><stop offset="0.22" stop-color="#76c776"/><stop offset="0.27" stop-color="#76c776"/><stop offset="0.3" stop-color="#72c573"/><stop offset="0.32" stop-color="#6cc16f"/><stop offset="0.35" stop-color="#64bb69"/><stop offset="0.38" stop-color="#5bb463"/><stop offset="0.41" stop-color="#50a95b"/><stop offset="0.43" stop-color="#47a055"/><stop offset="0.46" stop-color="#469f55"/><stop offset="0.49" stop-color="#47a055"/><stop offset="0.62" stop-color="#47a055"/><stop offset="0.65" stop-color="#48a155"/><stop offset="0.68" stop-color="#48a156"/><stop offset="1" stop-color="#48a156"/></linearGradient><linearGradient id="clipA45" gradientUnits="userSpaceOnUse" x1="54.2" y1="0" x2="350.2" y2="0"><stop offset="0" stop-color="#7dcb7b"/><stop offset="0.03" stop-color="#7ccb7a"/><stop offset="0.05" stop-color="#7ccb7a"/><stop offset="0.08" stop-color="#7bcb7a"/><stop offset="0.11" stop-color="#7bcb7a"/><stop offset="0.14" stop-color="#7ccb7a"/><stop offset="0.19" stop-color="#7ccb7a"/><stop offset="0.22" stop-color="#7dcb7b"/><stop offset="0.24" stop-color="#7ecc7b"/><stop offset="0.27" stop-color="#7dcc7b"/><stop offset="0.3" stop-color="#7aca79"/><stop offset="0.32" stop-color="#74c674"/><stop offset="0.35" stop-color="#6cc06f"/><stop offset="0.38" stop-color="#5fb866"/><stop offset="0.41" stop-color="#4da659"/><stop offset="0.43" stop-color="#429951"/><stop offset="0.46" stop-color="#469f55"/><stop offset="0.49" stop-color="#4ca559"/><stop offset="0.51" stop-color="#4da659"/><stop offset="0.54" stop-color="#4ca559"/><stop offset="0.57" stop-color="#4ca558"/><stop offset="0.59" stop-color="#4ca558"/><stop offset="0.62" stop-color="#4da659"/><stop offset="0.65" stop-color="#4ea75a"/><stop offset="0.68" stop-color="#4fa85a"/><stop offset="0.7" stop-color="#4fa85b"/><stop offset="0.73" stop-color="#50a95b"/><stop offset="1" stop-color="#50a95b"/></linearGradient><linearGradient id="clipA46" gradientUnits="userSpaceOnUse" x1="54.2" y1="0" x2="350.2" y2="0"><stop offset="0" stop-color="#61b967"/><stop offset="0.03" stop-color="#5fb866"/><stop offset="0.05" stop-color="#5eb765"/><stop offset="0.08" stop-color="#5db665"/><stop offset="0.11" stop-color="#5db664"/><stop offset="0.14" stop-color="#5db665"/><stop offset="0.16" stop-color="#5eb766"/><stop offset="0.19" stop-color="#60b967"/><stop offset="0.22" stop-color="#62ba68"/><stop offset="0.24" stop-color="#63bb69"/><stop offset="0.27" stop-color="#64bb6a"/><stop offset="0.3" stop-color="#62ba68"/><stop offset="0.32" stop-color="#5eb765"/><stop offset="0.35" stop-color="#58b161"/><stop offset="0.38" stop-color="#4ca558"/><stop offset="0.41" stop-color="#378848"/><stop offset="0.43" stop-color="#2d753c"/><stop offset="0.46" stop-color="#358546"/><stop offset="0.49" stop-color="#3f944e"/><stop offset="0.51" stop-color="#40954f"/><stop offset="0.54" stop-color="#3e934e"/><stop offset="0.57" stop-color="#3d914d"/><stop offset="0.59" stop-color="#3d924d"/><stop offset="0.62" stop-color="#3f944e"/><stop offset="0.65" stop-color="#419750"/><stop offset="0.68" stop-color="#429951"/><stop offset="0.7" stop-color="#439b52"/><stop offset="0.73" stop-color="#449b52"/><stop offset="0.76" stop-color="#449c53"/><stop offset="1" stop-color="#449c53"/></linearGradient><linearGradient id="clipA47" gradientUnits="userSpaceOnUse" x1="54.2" y1="0" x2="350.2" y2="0"><stop offset="0" stop-color="#5db665"/><stop offset="0.03" stop-color="#5ab362"/><stop offset="0.05" stop-color="#56af60"/><stop offset="0.08" stop-color="#54ad5e"/><stop offset="0.11" stop-color="#54ad5e"/><stop offset="0.14" stop-color="#55ae5f"/><stop offset="0.16" stop-color="#58b161"/><stop offset="0.19" stop-color="#5cb564"/><stop offset="0.22" stop-color="#60b866"/><stop offset="0.24" stop-color="#63bb69"/><stop offset="0.27" stop-color="#66bd6b"/><stop offset="0.3" stop-color="#66bc6b"/><stop offset="0.32" stop-color="#63bb69"/><stop offset="0.35" stop-color="#5fb866"/><stop offset="0.38" stop-color="#53ac5e"/><stop offset="0.41" stop-color="#3b8d4b"/><stop offset="0.43" stop-color="#2f793f"/><stop offset="0.46" stop-color="#3b8e4b"/><stop offset="0.49" stop-color="#48a155"/><stop offset="0.51" stop-color="#49a256"/><stop offset="0.54" stop-color="#469e54"/><stop offset="0.57" stop-color="#449c53"/><stop offset="0.59" stop-color="#449c53"/><stop offset="0.62" stop-color="#479f55"/><stop offset="0.65" stop-color="#4aa357"/><stop offset="0.68" stop-color="#4da659"/><stop offset="0.7" stop-color="#4fa85b"/><stop offset="0.73" stop-color="#50a95c"/><stop offset="0.76" stop-color="#51aa5c"/><stop offset="1" stop-color="#51aa5c"/></linearGradient><linearGradient id="clipA48" gradientUnits="userSpaceOnUse" x1="54.2" y1="0" x2="350.2" y2="0"><stop offset="0" stop-color="#4fa85b"/><stop offset="0.03" stop-color="#48a156"/><stop offset="0.05" stop-color="#439a52"/><stop offset="0.08" stop-color="#40954f"/><stop offset="0.11" stop-color="#3f954f"/><stop offset="0.14" stop-color="#419850"/><stop offset="0.16" stop-color="#469e54"/><stop offset="0.19" stop-color="#4ca558"/><stop offset="0.22" stop-color="#53ac5d"/><stop offset="0.24" stop-color="#59b262"/><stop offset="0.27" stop-color="#5db664"/><stop offset="0.3" stop-color="#5eb766"/><stop offset="0.32" stop-color="#5eb765"/><stop offset="0.35" stop-color="#5bb463"/><stop offset="0.38" stop-color="#53ac5d"/><stop offset="0.41" stop-color="#3f944f"/><stop offset="0.43" stop-color="#358546"/><stop offset="0.46" stop-color="#40954f"/><stop offset="0.49" stop-color="#49a257"/><stop offset="0.51" stop-color="#49a257"/><stop offset="0.54" stop-color="#469f54"/><stop offset="0.57" stop-color="#459d53"/><stop offset="0.59" stop-color="#459d53"/><stop offset="0.62" stop-color="#47a055"/><stop offset="0.65" stop-color="#4aa357"/><stop offset="0.68" stop-color="#4ea75a"/><stop offset="0.7" stop-color="#50a95b"/><stop offset="0.73" stop-color="#51aa5c"/><stop offset="1" stop-color="#51aa5c"/></linearGradient><linearGradient id="clipA49" gradientUnits="userSpaceOnUse" x1="54.2" y1="0" x2="350.2" y2="0"><stop offset="0" stop-color="#3f944e"/><stop offset="0.03" stop-color="#388948"/><stop offset="0.05" stop-color="#328043"/><stop offset="0.08" stop-color="#2f793f"/><stop offset="0.11" stop-color="#2e783e"/><stop offset="0.14" stop-color="#307c41"/><stop offset="0.16" stop-color="#358546"/><stop offset="0.19" stop-color="#3c8f4c"/><stop offset="0.22" stop-color="#439951"/><stop offset="0.24" stop-color="#49a256"/><stop offset="0.27" stop-color="#4ea75a"/><stop offset="0.3" stop-color="#52ab5d"/><stop offset="0.32" stop-color="#53ac5e"/><stop offset="0.35" stop-color="#53ac5e"/><stop offset="0.38" stop-color="#4fa85b"/><stop offset="0.41" stop-color="#469e54"/><stop offset="0.43" stop-color="#419650"/><stop offset="0.46" stop-color="#469e54"/><stop offset="0.49" stop-color="#4ba458"/><stop offset="0.51" stop-color="#4ba458"/><stop offset="0.54" stop-color="#49a256"/><stop offset="0.57" stop-color="#48a155"/><stop offset="0.59" stop-color="#48a156"/><stop offset="0.62" stop-color="#49a257"/><stop offset="0.65" stop-color="#4ca558"/><stop offset="0.68" stop-color="#4ea75a"/><stop offset="0.7" stop-color="#4fa85b"/><stop offset="0.73" stop-color="#4fa85b"/><stop offset="0.76" stop-color="#50a95b"/><stop offset="1" stop-color="#50a95b"/></linearGradient><linearGradient id="clipA50" gradientUnits="userSpaceOnUse" x1="54.2" y1="0" x2="350.2" y2="0"><stop offset="0" stop-color="#419650"/><stop offset="0.03" stop-color="#3a8c4a"/><stop offset="0.05" stop-color="#348345"/><stop offset="0.08" stop-color="#317d41"/><stop offset="0.11" stop-color="#307c40"/><stop offset="0.14" stop-color="#327f43"/><stop offset="0.16" stop-color="#378847"/><stop offset="0.19" stop-color="#3d924d"/><stop offset="0.22" stop-color="#449c53"/><stop offset="0.24" stop-color="#48a156"/><stop offset="0.27" stop-color="#4da659"/><stop offset="0.3" stop-color="#54ad5e"/><stop offset="0.32" stop-color="#56af60"/><stop offset="0.35" stop-color="#57b060"/><stop offset="0.38" stop-color="#56af60"/><stop offset="0.41" stop-color="#53ac5e"/><stop offset="0.43" stop-color="#51aa5c"/><stop offset="0.46" stop-color="#53ac5e"/><stop offset="0.49" stop-color="#55ae5f"/><stop offset="0.51" stop-color="#55ae5f"/><stop offset="0.54" stop-color="#54ad5e"/><stop offset="0.62" stop-color="#54ad5e"/><stop offset="0.65" stop-color="#55ae5f"/><stop offset="0.68" stop-color="#56af60"/><stop offset="0.7" stop-color="#56af60"/><stop offset="0.73" stop-color="#57b060"/><stop offset="1" stop-color="#57b060"/></linearGradient><linearGradient id="clipA51" gradientUnits="userSpaceOnUse" x1="54.2" y1="0" x2="350.2" y2="0"><stop offset="0" stop-color="#4aa357"/><stop offset="0.03" stop-color="#449c53"/><stop offset="0.05" stop-color="#40954f"/><stop offset="0.08" stop-color="#3d914d"/><stop offset="0.11" stop-color="#3d904c"/><stop offset="0.14" stop-color="#3e934e"/><stop offset="0.16" stop-color="#429951"/><stop offset="0.19" stop-color="#47a055"/><stop offset="0.22" stop-color="#4da659"/><stop offset="0.24" stop-color="#49a256"/><stop offset="0.27" stop-color="#48a156"/><stop offset="0.3" stop-color="#57b061"/><stop offset="0.32" stop-color="#5bb463"/><stop offset="0.35" stop-color="#5cb564"/><stop offset="0.46" stop-color="#5cb564"/><stop offset="0.49" stop-color="#5db664"/><stop offset="0.51" stop-color="#5db664"/><stop offset="0.54" stop-color="#5cb564"/><stop offset="0.59" stop-color="#5cb564"/><stop offset="0.62" stop-color="#5db664"/><stop offset="0.65" stop-color="#5db664"/><stop offset="0.68" stop-color="#5db665"/><stop offset="1" stop-color="#5db665"/></linearGradient><linearGradient id="clipA52" gradientUnits="userSpaceOnUse" x1="54.2" y1="0" x2="350.2" y2="0"><stop offset="0" stop-color="#58b161"/><stop offset="0.03" stop-color="#55ae5f"/><stop offset="0.05" stop-color="#52ab5d"/><stop offset="0.08" stop-color="#50a95b"/><stop offset="0.11" stop-color="#50a95b"/><stop offset="0.14" stop-color="#51aa5c"/><stop offset="0.16" stop-color="#54ad5e"/><stop offset="0.19" stop-color="#57b060"/><stop offset="0.22" stop-color="#59b262"/><stop offset="0.24" stop-color="#479f55"/><stop offset="0.27" stop-color="#40954f"/><stop offset="0.3" stop-color="#5cb564"/><stop offset="0.32" stop-color="#61b968"/><stop offset="0.35" stop-color="#62ba68"/><stop offset="0.43" stop-color="#62ba68"/><stop offset="0.46" stop-color="#63ba69"/><stop offset="0.62" stop-color="#63ba69"/><stop offset="0.65" stop-color="#63bb69"/><stop offset="1" stop-color="#63bb69"/></linearGradient><linearGradient id="clipA53" gradientUnits="userSpaceOnUse" x1="54.2" y1="0" x2="350.2" y2="0"><stop offset="0" stop-color="#65bc6a"/><stop offset="0.03" stop-color="#63bb69"/><stop offset="0.05" stop-color="#62ba68"/><stop offset="0.08" stop-color="#61b967"/><stop offset="0.11" stop-color="#61b967"/><stop offset="0.14" stop-color="#62ba68"/><stop offset="0.16" stop-color="#63ba69"/><stop offset="0.19" stop-color="#64bb6a"/><stop offset="0.22" stop-color="#64bb69"/><stop offset="0.24" stop-color="#459d53"/><stop offset="0.27" stop-color="#398b49"/><stop offset="0.3" stop-color="#62ba68"/><stop offset="0.32" stop-color="#6abf6d"/><stop offset="0.35" stop-color="#6bc06e"/><stop offset="0.38" stop-color="#6bc06f"/><stop offset="0.41" stop-color="#6cc16f"/><stop offset="0.43" stop-color="#6dc170"/><stop offset="0.46" stop-color="#6dc170"/><stop offset="0.49" stop-color="#6ec270"/><stop offset="1" stop-color="#6ec270"/></linearGradient><linearGradient id="clipA54" gradientUnits="userSpaceOnUse" x1="54.2" y1="0" x2="350.2" y2="0"><stop offset="0" stop-color="#87d084"/><stop offset="0.03" stop-color="#87cf84"/><stop offset="0.05" stop-color="#86cf84"/><stop offset="0.08" stop-color="#86cf83"/><stop offset="0.14" stop-color="#86cf83"/><stop offset="0.16" stop-color="#87cf84"/><stop offset="0.19" stop-color="#87d084"/><stop offset="0.22" stop-color="#86cf83"/><stop offset="0.24" stop-color="#60b967"/><stop offset="0.27" stop-color="#50a95b"/><stop offset="0.3" stop-color="#80cd7e"/><stop offset="0.32" stop-color="#87d084"/><stop offset="0.35" stop-color="#86cf83"/><stop offset="0.38" stop-color="#85ce82"/><stop offset="0.41" stop-color="#83ce80"/><stop offset="0.43" stop-color="#82cd7f"/><stop offset="0.46" stop-color="#81cd7e"/><stop offset="0.49" stop-color="#80cd7e"/><stop offset="0.65" stop-color="#80cd7e"/><stop offset="0.68" stop-color="#81cd7e"/><stop offset="0.76" stop-color="#81cd7e"/><stop offset="0.78" stop-color="#80cd7e"/><stop offset="1" stop-color="#80cd7e"/></linearGradient><linearGradient id="clipA55" gradientUnits="userSpaceOnUse" x1="54.2" y1="0" x2="350.2" y2="0"><stop offset="0" stop-color="#a8dda2"/><stop offset="0.11" stop-color="#a8dda2"/><stop offset="0.14" stop-color="#a8dda3"/><stop offset="0.19" stop-color="#a8dda3"/><stop offset="0.22" stop-color="#a7dda2"/><stop offset="0.24" stop-color="#8fd38c"/><stop offset="0.27" stop-color="#82cd7f"/><stop offset="0.3" stop-color="#a6dca1"/><stop offset="0.32" stop-color="#abdea6"/><stop offset="0.35" stop-color="#addfa8"/><stop offset="0.38" stop-color="#afe0aa"/><stop offset="0.41" stop-color="#b1e1ab"/><stop offset="0.43" stop-color="#b3e1ad"/><stop offset="0.46" stop-color="#b4e2ae"/><stop offset="0.49" stop-color="#b4e2af"/><stop offset="0.51" stop-color="#b4e2af"/><stop offset="0.54" stop-color="#b5e2af"/><stop offset="0.86" stop-color="#b5e2af"/><stop offset="0.89" stop-color="#b4e2af"/><stop offset="1" stop-color="#b4e2af"/></linearGradient><linearGradient id="clipA56" gradientUnits="userSpaceOnUse" x1="54.2" y1="0" x2="350.2" y2="0"><stop offset="0" stop-color="#bce5b6"/><stop offset="0.11" stop-color="#bce5b6"/><stop offset="0.14" stop-color="#bde6b7"/><stop offset="0.22" stop-color="#bde6b7"/><stop offset="0.24" stop-color="#b3e2ad"/><stop offset="0.27" stop-color="#aedfa8"/><stop offset="0.3" stop-color="#bce5b6"/><stop offset="0.32" stop-color="#bde6b7"/><stop offset="0.35" stop-color="#bce5b6"/><stop offset="0.38" stop-color="#bbe5b5"/><stop offset="0.41" stop-color="#bae4b4"/><stop offset="0.43" stop-color="#b9e4b3"/><stop offset="0.46" stop-color="#b8e4b2"/><stop offset="0.59" stop-color="#b8e4b2"/><stop offset="0.62" stop-color="#b8e4b3"/><stop offset="0.65" stop-color="#b9e4b3"/><stop offset="0.78" stop-color="#b9e4b3"/><stop offset="0.81" stop-color="#b8e4b3"/><stop offset="0.84" stop-color="#b8e4b2"/><stop offset="0.92" stop-color="#b8e4b2"/><stop offset="0.95" stop-color="#b8e3b2"/><stop offset="1" stop-color="#b8e3b2"/></linearGradient><linearGradient id="clipA57" gradientUnits="userSpaceOnUse" x1="54.2" y1="0" x2="350.2" y2="0"><stop offset="0" stop-color="#c4e9be"/><stop offset="0.08" stop-color="#c4e9be"/><stop offset="0.11" stop-color="#c4e9bf"/><stop offset="0.14" stop-color="#c5e9bf"/><stop offset="0.16" stop-color="#c5e9bf"/><stop offset="0.19" stop-color="#c5e9c0"/><stop offset="0.22" stop-color="#c6e9c0"/><stop offset="0.24" stop-color="#c4e9be"/><stop offset="0.27" stop-color="#c4e9be"/><stop offset="0.3" stop-color="#c8eac2"/><stop offset="0.32" stop-color="#caebc4"/><stop offset="0.35" stop-color="#ccecc6"/><stop offset="0.38" stop-color="#ceedc8"/><stop offset="0.41" stop-color="#d0eeca"/><stop offset="0.43" stop-color="#d1eecc"/><stop offset="0.46" stop-color="#d3efce"/><stop offset="0.49" stop-color="#d3efce"/><stop offset="0.51" stop-color="#d4efce"/><stop offset="0.54" stop-color="#d4efce"/><stop offset="0.57" stop-color="#d4efcf"/><stop offset="0.59" stop-color="#d4efcf"/><stop offset="0.62" stop-color="#d4f0cf"/><stop offset="0.65" stop-color="#d4f0cf"/><stop offset="0.68" stop-color="#d5f0cf"/><stop offset="0.73" stop-color="#d5f0cf"/><stop offset="0.76" stop-color="#d4f0cf"/><stop offset="0.81" stop-color="#d4f0cf"/><stop offset="0.84" stop-color="#d4efcf"/><stop offset="0.86" stop-color="#d4efce"/><stop offset="0.89" stop-color="#d4efce"/><stop offset="0.92" stop-color="#d3efce"/><stop offset="1" stop-color="#d3efce"/></linearGradient><linearGradient id="clipA58" gradientUnits="userSpaceOnUse" x1="54.2" y1="0" x2="350.2" y2="0"><stop offset="0" stop-color="#d5f0cf"/><stop offset="0.05" stop-color="#d5f0cf"/><stop offset="0.08" stop-color="#d5f0d0"/><stop offset="0.14" stop-color="#d5f0d0"/><stop offset="0.16" stop-color="#d6f0d1"/><stop offset="0.19" stop-color="#d6f0d1"/><stop offset="0.22" stop-color="#d7f1d2"/><stop offset="0.24" stop-color="#d7f1d2"/><stop offset="0.27" stop-color="#d8f1d3"/><stop offset="0.3" stop-color="#d9f1d4"/><stop offset="0.32" stop-color="#daf2d5"/><stop offset="0.35" stop-color="#daf2d5"/><stop offset="0.38" stop-color="#dbf2d6"/><stop offset="0.41" stop-color="#dbf2d6"/><stop offset="0.43" stop-color="#dcf3d7"/><stop offset="0.46" stop-color="#dcf3d7"/><stop offset="0.49" stop-color="#dcf3d8"/><stop offset="0.51" stop-color="#dcf3d8"/><stop offset="0.54" stop-color="#ddf3d8"/><stop offset="0.62" stop-color="#ddf3d8"/><stop offset="0.65" stop-color="#ddf3d9"/><stop offset="0.68" stop-color="#ddf3d9"/><stop offset="0.7" stop-color="#def3d9"/><stop offset="0.73" stop-color="#def3d9"/><stop offset="0.76" stop-color="#ddf3d9"/><stop offset="0.78" stop-color="#ddf3d9"/><stop offset="0.81" stop-color="#ddf3d8"/><stop offset="0.86" stop-color="#ddf3d8"/><stop offset="0.89" stop-color="#dcf3d8"/><stop offset="0.92" stop-color="#dcf3d8"/><stop offset="0.95" stop-color="#dcf3d7"/><stop offset="1" stop-color="#dcf3d7"/></linearGradient><linearGradient id="clipA59" gradientUnits="userSpaceOnUse" x1="54.2" y1="0" x2="350.2" y2="0"><stop offset="0" stop-color="#dcf3d7"/><stop offset="0.05" stop-color="#dcf3d7"/><stop offset="0.08" stop-color="#dcf3d8"/><stop offset="0.11" stop-color="#ddf3d8"/><stop offset="0.14" stop-color="#ddf3d8"/><stop offset="0.16" stop-color="#ddf3d9"/><stop offset="0.19" stop-color="#def3d9"/><stop offset="0.22" stop-color="#dff4da"/><stop offset="0.24" stop-color="#dff4db"/><stop offset="0.27" stop-color="#e0f4dc"/><stop offset="0.3" stop-color="#e0f4dc"/><stop offset="0.32" stop-color="#e1f4dc"/><stop offset="0.38" stop-color="#e1f4dc"/><stop offset="0.41" stop-color="#e0f4dc"/><stop offset="0.43" stop-color="#e0f4dc"/><stop offset="0.46" stop-color="#e1f4dc"/><stop offset="0.54" stop-color="#e1f4dc"/><stop offset="0.57" stop-color="#e1f4dd"/><stop offset="0.59" stop-color="#e1f5dd"/><stop offset="0.62" stop-color="#e2f5dd"/><stop offset="0.65" stop-color="#e2f5de"/><stop offset="0.78" stop-color="#e2f5de"/><stop offset="0.81" stop-color="#e2f5dd"/><stop offset="0.84" stop-color="#e1f5dd"/><stop offset="0.86" stop-color="#e1f4dd"/><stop offset="0.89" stop-color="#e1f4dc"/><stop offset="0.92" stop-color="#e1f4dc"/><stop offset="0.95" stop-color="#e0f4dc"/><stop offset="1" stop-color="#e0f4dc"/></linearGradient><linearGradient id="clipA60" gradientUnits="userSpaceOnUse" x1="54.2" y1="0" x2="350.2" y2="0"><stop offset="0" stop-color="#e1f4dd"/><stop offset="0.05" stop-color="#e1f4dd"/><stop offset="0.08" stop-color="#e1f5dd"/><stop offset="0.11" stop-color="#e1f5dd"/><stop offset="0.14" stop-color="#e2f5de"/><stop offset="0.16" stop-color="#e2f5de"/><stop offset="0.19" stop-color="#e3f5df"/><stop offset="0.22" stop-color="#e4f6e0"/><stop offset="0.24" stop-color="#e5f6e1"/><stop offset="0.27" stop-color="#e5f6e2"/><stop offset="0.3" stop-color="#e6f6e2"/><stop offset="0.32" stop-color="#e6f6e2"/><stop offset="0.35" stop-color="#e6f6e3"/><stop offset="0.43" stop-color="#e6f6e3"/><stop offset="0.46" stop-color="#e7f6e3"/><stop offset="0.51" stop-color="#e7f6e3"/><stop offset="0.54" stop-color="#e7f7e3"/><stop offset="0.57" stop-color="#e7f7e4"/><stop offset="0.59" stop-color="#e8f7e4"/><stop offset="0.62" stop-color="#e8f7e4"/><stop offset="0.65" stop-color="#e8f7e5"/><stop offset="0.68" stop-color="#e9f7e5"/><stop offset="0.76" stop-color="#e9f7e5"/><stop offset="0.78" stop-color="#e8f7e5"/><stop offset="0.81" stop-color="#e8f7e4"/><stop offset="0.84" stop-color="#e7f7e4"/><stop offset="0.86" stop-color="#e7f7e3"/><stop offset="0.89" stop-color="#e7f6e3"/><stop offset="0.95" stop-color="#e7f6e3"/><stop offset="0.97" stop-color="#e6f6e3"/><stop offset="1" stop-color="#e6f6e3"/></linearGradient><linearGradient id="clipA61" gradientUnits="userSpaceOnUse" x1="54.2" y1="0" x2="350.2" y2="0"><stop offset="0" stop-color="#e2f5de"/><stop offset="0.11" stop-color="#e2f5de"/><stop offset="0.14" stop-color="#e3f5df"/><stop offset="0.16" stop-color="#e3f5df"/><stop offset="0.19" stop-color="#e4f6e0"/><stop offset="0.22" stop-color="#e5f6e2"/><stop offset="0.24" stop-color="#e6f6e3"/><stop offset="0.27" stop-color="#e7f7e3"/><stop offset="0.3" stop-color="#e8f7e4"/><stop offset="0.32" stop-color="#e8f7e4"/><stop offset="0.35" stop-color="#e7f7e4"/><stop offset="0.38" stop-color="#e7f7e3"/><stop offset="0.41" stop-color="#e7f6e3"/><stop offset="0.43" stop-color="#e6f6e3"/><stop offset="0.51" stop-color="#e6f6e3"/><stop offset="0.54" stop-color="#e7f6e3"/><stop offset="0.57" stop-color="#e7f7e3"/><stop offset="0.59" stop-color="#e7f7e4"/><stop offset="0.62" stop-color="#e8f7e4"/><stop offset="0.65" stop-color="#e8f7e5"/><stop offset="0.68" stop-color="#e9f7e5"/><stop offset="0.76" stop-color="#e9f7e5"/><stop offset="0.78" stop-color="#e8f7e5"/><stop offset="0.81" stop-color="#e8f7e4"/><stop offset="0.84" stop-color="#e7f7e4"/><stop offset="0.86" stop-color="#e7f6e3"/><stop offset="0.89" stop-color="#e6f6e3"/><stop offset="0.92" stop-color="#e6f6e2"/><stop offset="1" stop-color="#e6f6e2"/></linearGradient><linearGradient id="clipA62" gradientUnits="userSpaceOnUse" x1="54.2" y1="0" x2="350.2" y2="0"><stop offset="0" stop-color="#e4f6e0"/><stop offset="0.05" stop-color="#e4f6e0"/><stop offset="0.08" stop-color="#e5f6e1"/><stop offset="0.11" stop-color="#e5f6e1"/><stop offset="0.14" stop-color="#e5f6e2"/><stop offset="0.16" stop-color="#e6f6e2"/><stop offset="0.19" stop-color="#e7f7e4"/><stop offset="0.22" stop-color="#e8f7e5"/><stop offset="0.24" stop-color="#e9f7e6"/><stop offset="0.27" stop-color="#eaf8e7"/><stop offset="0.32" stop-color="#eaf8e7"/><stop offset="0.35" stop-color="#eaf7e6"/><stop offset="0.38" stop-color="#e9f7e5"/><stop offset="0.41" stop-color="#e8f7e4"/><stop offset="0.43" stop-color="#e7f7e4"/><stop offset="0.46" stop-color="#e7f7e4"/><stop offset="0.49" stop-color="#e7f7e3"/><stop offset="0.51" stop-color="#e7f7e4"/><stop offset="0.54" stop-color="#e7f7e4"/><stop offset="0.57" stop-color="#e8f7e4"/><stop offset="0.59" stop-color="#e8f7e5"/><stop offset="0.62" stop-color="#e9f7e5"/><stop offset="0.65" stop-color="#eaf7e6"/><stop offset="0.68" stop-color="#eaf8e7"/><stop offset="0.73" stop-color="#eaf8e7"/><stop offset="0.76" stop-color="#eaf8e6"/><stop offset="0.78" stop-color="#e9f7e6"/><stop offset="0.81" stop-color="#e9f7e5"/><stop offset="0.84" stop-color="#e8f7e5"/><stop offset="0.86" stop-color="#e8f7e4"/><stop offset="0.89" stop-color="#e7f7e4"/><stop offset="0.92" stop-color="#e7f7e3"/><stop offset="0.95" stop-color="#e7f6e3"/><stop offset="1" stop-color="#e7f6e3"/></linearGradient><linearGradient id="clipA63" gradientUnits="userSpaceOnUse" x1="54.2" y1="0" x2="350.2" y2="0"><stop offset="0" stop-color="#e6f6e2"/><stop offset="0.08" stop-color="#e6f6e2"/><stop offset="0.11" stop-color="#e6f6e3"/><stop offset="0.14" stop-color="#e7f7e3"/><stop offset="0.16" stop-color="#e8f7e4"/><stop offset="0.19" stop-color="#e9f7e5"/><stop offset="0.22" stop-color="#eaf8e7"/><stop offset="0.24" stop-color="#ebf8e8"/><stop offset="0.27" stop-color="#ecf8e9"/><stop offset="0.32" stop-color="#ecf8e9"/><stop offset="0.35" stop-color="#ebf8e7"/><stop offset="0.38" stop-color="#eaf7e6"/><stop offset="0.41" stop-color="#e8f7e4"/><stop offset="0.43" stop-color="#e7f7e3"/><stop offset="0.46" stop-color="#e7f7e3"/><stop offset="0.49" stop-color="#e7f6e3"/><stop offset="0.51" stop-color="#e7f6e3"/><stop offset="0.54" stop-color="#e7f7e3"/><stop offset="0.57" stop-color="#e8f7e4"/><stop offset="0.59" stop-color="#e8f7e5"/><stop offset="0.62" stop-color="#e9f7e5"/><stop offset="0.65" stop-color="#eaf7e6"/><stop offset="0.68" stop-color="#eaf8e7"/><stop offset="0.76" stop-color="#eaf8e7"/><stop offset="0.78" stop-color="#e9f7e6"/><stop offset="0.81" stop-color="#e9f7e5"/><stop offset="0.84" stop-color="#e8f7e4"/><stop offset="0.86" stop-color="#e7f7e4"/><stop offset="0.89" stop-color="#e7f7e3"/><stop offset="0.92" stop-color="#e7f6e3"/><stop offset="0.95" stop-color="#e6f6e3"/><stop offset="0.97" stop-color="#e6f6e2"/><stop offset="1" stop-color="#e6f6e2"/></linearGradient><linearGradient id="clipA64" gradientUnits="userSpaceOnUse" x1="54.2" y1="0" x2="350.2" y2="0"><stop offset="0" stop-color="#e6f6e2"/><stop offset="0.05" stop-color="#e6f6e2"/><stop offset="0.08" stop-color="#e6f6e3"/><stop offset="0.11" stop-color="#e7f6e3"/><stop offset="0.14" stop-color="#e7f7e4"/><stop offset="0.16" stop-color="#e8f7e5"/><stop offset="0.19" stop-color="#e9f7e6"/><stop offset="0.22" stop-color="#ebf8e7"/><stop offset="0.24" stop-color="#ecf8e9"/><stop offset="0.27" stop-color="#edf9ea"/><stop offset="0.3" stop-color="#edf9ea"/><stop offset="0.32" stop-color="#ecf8e9"/><stop offset="0.35" stop-color="#ebf8e8"/><stop offset="0.38" stop-color="#e9f7e6"/><stop offset="0.41" stop-color="#e7f7e3"/><stop offset="0.43" stop-color="#e6f6e2"/><stop offset="0.54" stop-color="#e6f6e2"/><stop offset="0.57" stop-color="#e7f6e3"/><stop offset="0.59" stop-color="#e8f7e4"/><stop offset="0.62" stop-color="#e8f7e5"/><stop offset="0.65" stop-color="#e9f7e6"/><stop offset="0.68" stop-color="#eaf8e6"/><stop offset="0.7" stop-color="#eaf8e7"/><stop offset="0.73" stop-color="#eaf8e7"/><stop offset="0.76" stop-color="#eaf7e6"/><stop offset="0.78" stop-color="#e9f7e5"/><stop offset="0.81" stop-color="#e8f7e5"/><stop offset="0.84" stop-color="#e7f7e4"/><stop offset="0.86" stop-color="#e7f6e3"/><stop offset="0.89" stop-color="#e6f6e2"/><stop offset="0.92" stop-color="#e6f6e2"/><stop offset="0.95" stop-color="#e5f6e1"/><stop offset="1" stop-color="#e5f6e1"/></linearGradient><linearGradient id="clipA65" gradientUnits="userSpaceOnUse" x1="54.2" y1="0" x2="350.2" y2="0"><stop offset="0" stop-color="#e4f6e0"/><stop offset="0.08" stop-color="#e4f6e0"/><stop offset="0.11" stop-color="#e5f6e1"/><stop offset="0.14" stop-color="#e5f6e2"/><stop offset="0.16" stop-color="#e6f6e3"/><stop offset="0.19" stop-color="#e8f7e4"/><stop offset="0.22" stop-color="#e9f7e5"/><stop offset="0.24" stop-color="#eaf8e7"/><stop offset="0.27" stop-color="#ebf8e7"/><stop offset="0.3" stop-color="#ebf8e8"/><stop offset="0.32" stop-color="#eaf8e7"/><stop offset="0.35" stop-color="#e9f7e5"/><stop offset="0.38" stop-color="#e7f7e3"/><stop offset="0.41" stop-color="#e4f6e0"/><stop offset="0.43" stop-color="#e3f5df"/><stop offset="0.51" stop-color="#e3f5df"/><stop offset="0.54" stop-color="#e4f5e0"/><stop offset="0.57" stop-color="#e5f6e1"/><stop offset="0.59" stop-color="#e5f6e2"/><stop offset="0.62" stop-color="#e6f6e3"/><stop offset="0.65" stop-color="#e7f7e4"/><stop offset="0.68" stop-color="#e8f7e4"/><stop offset="0.7" stop-color="#e8f7e5"/><stop offset="0.73" stop-color="#e8f7e5"/><stop offset="0.76" stop-color="#e8f7e4"/><stop offset="0.78" stop-color="#e7f7e3"/><stop offset="0.81" stop-color="#e6f6e2"/><stop offset="0.84" stop-color="#e5f6e1"/><stop offset="0.86" stop-color="#e4f6e0"/><stop offset="0.89" stop-color="#e4f5e0"/><stop offset="0.92" stop-color="#e3f5df"/><stop offset="0.95" stop-color="#e3f5df"/><stop offset="0.97" stop-color="#e3f5de"/><stop offset="1" stop-color="#e2f5de"/></linearGradient><linearGradient id="clipA66" gradientUnits="userSpaceOnUse" x1="54.2" y1="0" x2="350.2" y2="0"><stop offset="0" stop-color="#e8f7e4"/><stop offset="0.08" stop-color="#e8f7e4"/><stop offset="0.11" stop-color="#e8f7e5"/><stop offset="0.14" stop-color="#e9f7e5"/><stop offset="0.16" stop-color="#e9f7e6"/><stop offset="0.19" stop-color="#eaf8e7"/><stop offset="0.22" stop-color="#ebf8e8"/><stop offset="0.24" stop-color="#ecf8e9"/><stop offset="0.27" stop-color="#edf9ea"/><stop offset="0.3" stop-color="#edf9ea"/><stop offset="0.32" stop-color="#ecf8e9"/><stop offset="0.35" stop-color="#ebf8e8"/><stop offset="0.38" stop-color="#eaf8e6"/><stop offset="0.41" stop-color="#e7f7e3"/><stop offset="0.43" stop-color="#e6f6e2"/><stop offset="0.46" stop-color="#e7f7e3"/><stop offset="0.49" stop-color="#e7f7e3"/><stop offset="0.51" stop-color="#e7f7e4"/><stop offset="0.54" stop-color="#e8f7e4"/><stop offset="0.57" stop-color="#e8f7e5"/><stop offset="0.59" stop-color="#e9f7e6"/><stop offset="0.62" stop-color="#eaf8e7"/><stop offset="0.65" stop-color="#ebf8e8"/><stop offset="0.68" stop-color="#ecf8e8"/><stop offset="0.7" stop-color="#ecf8e9"/><stop offset="0.73" stop-color="#ecf8e9"/><stop offset="0.76" stop-color="#ebf8e8"/><stop offset="0.78" stop-color="#ebf8e7"/><stop offset="0.81" stop-color="#eaf8e6"/><stop offset="0.84" stop-color="#e9f7e5"/><stop offset="0.86" stop-color="#e8f7e4"/><stop offset="0.89" stop-color="#e7f7e4"/><stop offset="0.92" stop-color="#e7f7e3"/><stop offset="0.95" stop-color="#e7f6e3"/><stop offset="0.97" stop-color="#e6f6e3"/><stop offset="1" stop-color="#e6f6e3"/></linearGradient><linearGradient id="clipA67" gradientUnits="userSpaceOnUse" x1="54.2" y1="0" x2="350.2" y2="0"><stop offset="0" stop-color="#e7f6e3"/><stop offset="0.03" stop-color="#e7f7e3"/><stop offset="0.08" stop-color="#e7f7e3"/><stop offset="0.11" stop-color="#e7f7e4"/><stop offset="0.14" stop-color="#e8f7e4"/><stop offset="0.16" stop-color="#e8f7e5"/><stop offset="0.19" stop-color="#e9f7e6"/><stop offset="0.22" stop-color="#eaf8e7"/><stop offset="0.24" stop-color="#ebf8e7"/><stop offset="0.27" stop-color="#ebf8e8"/><stop offset="0.3" stop-color="#ebf8e8"/><stop offset="0.32" stop-color="#ebf8e7"/><stop offset="0.35" stop-color="#eaf8e6"/><stop offset="0.38" stop-color="#e8f7e5"/><stop offset="0.41" stop-color="#e5f6e1"/><stop offset="0.43" stop-color="#e4f6e0"/><stop offset="0.46" stop-color="#e6f6e2"/><stop offset="0.49" stop-color="#e6f6e2"/><stop offset="0.51" stop-color="#e6f6e3"/><stop offset="0.54" stop-color="#e7f6e3"/><stop offset="0.57" stop-color="#e7f7e4"/><stop offset="0.59" stop-color="#e8f7e5"/><stop offset="0.62" stop-color="#e9f7e6"/><stop offset="0.65" stop-color="#eaf8e7"/><stop offset="0.68" stop-color="#ebf8e7"/><stop offset="0.7" stop-color="#ebf8e8"/><stop offset="0.73" stop-color="#ebf8e8"/><stop offset="0.76" stop-color="#ebf8e7"/><stop offset="0.78" stop-color="#eaf8e6"/><stop offset="0.81" stop-color="#e9f7e5"/><stop offset="0.84" stop-color="#e8f7e4"/><stop offset="0.86" stop-color="#e7f7e4"/><stop offset="0.89" stop-color="#e7f6e3"/><stop offset="0.92" stop-color="#e6f6e2"/><stop offset="0.97" stop-color="#e6f6e2"/><stop offset="1" stop-color="#e5f6e2"/></linearGradient><linearGradient id="clipA68" gradientUnits="userSpaceOnUse" x1="54.2" y1="0" x2="350.2" y2="0"><stop offset="0" stop-color="#e8f7e4"/><stop offset="0.05" stop-color="#e8f7e4"/><stop offset="0.08" stop-color="#e8f7e5"/><stop offset="0.11" stop-color="#e8f7e5"/><stop offset="0.14" stop-color="#e9f7e5"/><stop offset="0.16" stop-color="#e9f7e6"/><stop offset="0.19" stop-color="#eaf7e6"/><stop offset="0.22" stop-color="#eaf8e7"/><stop offset="0.24" stop-color="#ebf8e8"/><stop offset="0.3" stop-color="#ebf8e8"/><stop offset="0.32" stop-color="#ebf8e7"/><stop offset="0.35" stop-color="#eaf8e7"/><stop offset="0.38" stop-color="#e9f7e5"/><stop offset="0.41" stop-color="#e5f6e1"/><stop offset="0.43" stop-color="#e5f6e1"/><stop offset="0.46" stop-color="#e7f7e3"/><stop offset="0.49" stop-color="#e7f7e4"/><stop offset="0.51" stop-color="#e7f7e4"/><stop offset="0.54" stop-color="#e8f7e4"/><stop offset="0.57" stop-color="#e9f7e5"/><stop offset="0.59" stop-color="#e9f7e6"/><stop offset="0.62" stop-color="#eaf8e7"/><stop offset="0.65" stop-color="#ebf8e8"/><stop offset="0.68" stop-color="#ecf8e8"/><stop offset="0.7" stop-color="#ecf8e9"/><stop offset="0.73" stop-color="#ecf8e9"/><stop offset="0.76" stop-color="#ebf8e8"/><stop offset="0.78" stop-color="#ebf8e7"/><stop offset="0.81" stop-color="#eaf8e7"/><stop offset="0.84" stop-color="#e9f7e6"/><stop offset="0.86" stop-color="#e8f7e5"/><stop offset="0.89" stop-color="#e8f7e4"/><stop offset="0.92" stop-color="#e7f7e4"/><stop offset="0.95" stop-color="#e7f7e3"/><stop offset="0.97" stop-color="#e7f6e3"/><stop offset="1" stop-color="#e7f6e3"/></linearGradient><linearGradient id="clipA69" gradientUnits="userSpaceOnUse" x1="54.2" y1="0" x2="350.2" y2="0"><stop offset="0" stop-color="#e4f5e0"/><stop offset="0.08" stop-color="#e4f5e0"/><stop offset="0.11" stop-color="#e4f6e0"/><stop offset="0.14" stop-color="#e4f6e0"/><stop offset="0.16" stop-color="#e5f6e1"/><stop offset="0.19" stop-color="#e5f6e1"/><stop offset="0.22" stop-color="#e6f6e2"/><stop offset="0.24" stop-color="#e6f6e2"/><stop offset="0.27" stop-color="#e6f6e3"/><stop offset="0.3" stop-color="#e6f6e3"/><stop offset="0.32" stop-color="#e6f6e2"/><stop offset="0.35" stop-color="#e5f6e1"/><stop offset="0.38" stop-color="#e4f5e0"/><stop offset="0.41" stop-color="#dff4db"/><stop offset="0.43" stop-color="#dff4da"/><stop offset="0.46" stop-color="#e2f5de"/><stop offset="0.49" stop-color="#e3f5df"/><stop offset="0.51" stop-color="#e3f5df"/><stop offset="0.54" stop-color="#e4f5df"/><stop offset="0.57" stop-color="#e4f6e0"/><stop offset="0.59" stop-color="#e5f6e1"/><stop offset="0.62" stop-color="#e6f6e2"/><stop offset="0.65" stop-color="#e7f6e3"/><stop offset="0.68" stop-color="#e7f7e4"/><stop offset="0.7" stop-color="#e8f7e4"/><stop offset="0.73" stop-color="#e8f7e4"/><stop offset="0.76" stop-color="#e7f7e4"/><stop offset="0.78" stop-color="#e7f6e3"/><stop offset="0.81" stop-color="#e6f6e2"/><stop offset="0.84" stop-color="#e5f6e1"/><stop offset="0.86" stop-color="#e4f6e0"/><stop offset="0.89" stop-color="#e3f5df"/><stop offset="0.92" stop-color="#e3f5df"/><stop offset="0.95" stop-color="#e3f5de"/><stop offset="0.97" stop-color="#e2f5de"/><stop offset="1" stop-color="#e2f5de"/></linearGradient><linearGradient id="clipA70" gradientUnits="userSpaceOnUse" x1="54.2" y1="0" x2="350.2" y2="0"><stop offset="0" stop-color="#e6f6e3"/><stop offset="0.05" stop-color="#e6f6e3"/><stop offset="0.08" stop-color="#e7f6e3"/><stop offset="0.14" stop-color="#e7f6e3"/><stop offset="0.16" stop-color="#e7f7e3"/><stop offset="0.19" stop-color="#e7f7e4"/><stop offset="0.22" stop-color="#e8f7e4"/><stop offset="0.32" stop-color="#e8f7e4"/><stop offset="0.35" stop-color="#e7f7e4"/><stop offset="0.38" stop-color="#e6f6e2"/><stop offset="0.41" stop-color="#e1f4dd"/><stop offset="0.43" stop-color="#e1f4dc"/><stop offset="0.46" stop-color="#e5f6e1"/><stop offset="0.49" stop-color="#e5f6e2"/><stop offset="0.51" stop-color="#e6f6e2"/><stop offset="0.54" stop-color="#e6f6e2"/><stop offset="0.57" stop-color="#e7f6e3"/><stop offset="0.59" stop-color="#e7f7e4"/><stop offset="0.62" stop-color="#e8f7e4"/><stop offset="0.65" stop-color="#e9f7e5"/><stop offset="0.68" stop-color="#e9f7e6"/><stop offset="0.7" stop-color="#eaf7e6"/><stop offset="0.73" stop-color="#eaf7e6"/><stop offset="0.76" stop-color="#e9f7e6"/><stop offset="0.78" stop-color="#e9f7e5"/><stop offset="0.81" stop-color="#e8f7e4"/><stop offset="0.84" stop-color="#e7f7e4"/><stop offset="0.86" stop-color="#e7f6e3"/><stop offset="0.89" stop-color="#e6f6e2"/><stop offset="0.92" stop-color="#e6f6e2"/><stop offset="0.95" stop-color="#e5f6e2"/><stop offset="0.97" stop-color="#e5f6e1"/><stop offset="1" stop-color="#e5f6e1"/></linearGradient><linearGradient id="clipA71" gradientUnits="userSpaceOnUse" x1="54.2" y1="0" x2="350.2" y2="0"><stop offset="0" stop-color="#e8f7e5"/><stop offset="0.05" stop-color="#e8f7e5"/><stop offset="0.08" stop-color="#e9f7e5"/><stop offset="0.19" stop-color="#e9f7e5"/><stop offset="0.22" stop-color="#e9f7e6"/><stop offset="0.32" stop-color="#e9f7e6"/><stop offset="0.35" stop-color="#e9f7e5"/><stop offset="0.38" stop-color="#e7f7e4"/><stop offset="0.41" stop-color="#e2f5de"/><stop offset="0.43" stop-color="#e2f5de"/><stop offset="0.46" stop-color="#e7f6e3"/><stop offset="0.49" stop-color="#e7f7e4"/><stop offset="0.51" stop-color="#e8f7e4"/><stop offset="0.54" stop-color="#e8f7e4"/><stop offset="0.57" stop-color="#e8f7e5"/><stop offset="0.59" stop-color="#e9f7e5"/><stop offset="0.62" stop-color="#e9f7e6"/><stop offset="0.65" stop-color="#eaf8e7"/><stop offset="0.68" stop-color="#eaf8e7"/><stop offset="0.7" stop-color="#ebf8e7"/><stop offset="0.73" stop-color="#ebf8e7"/><stop offset="0.76" stop-color="#eaf8e7"/><stop offset="0.78" stop-color="#eaf8e7"/><stop offset="0.81" stop-color="#e9f7e6"/><stop offset="0.84" stop-color="#e9f7e5"/><stop offset="0.86" stop-color="#e8f7e5"/><stop offset="0.89" stop-color="#e8f7e4"/><stop offset="0.92" stop-color="#e8f7e4"/><stop offset="0.95" stop-color="#e7f7e4"/><stop offset="1" stop-color="#e7f7e4"/></linearGradient><linearGradient id="clipA72" gradientUnits="userSpaceOnUse" x1="54.2" y1="0" x2="350.2" y2="0"><stop offset="0" stop-color="#e8f7e4"/><stop offset="0.22" stop-color="#e8f7e4"/><stop offset="0.24" stop-color="#e8f7e5"/><stop offset="0.3" stop-color="#e8f7e5"/><stop offset="0.32" stop-color="#e8f7e4"/><stop offset="0.35" stop-color="#e8f7e4"/><stop offset="0.38" stop-color="#e6f6e2"/><stop offset="0.41" stop-color="#e0f4db"/><stop offset="0.43" stop-color="#e0f4db"/><stop offset="0.46" stop-color="#e6f6e2"/><stop offset="0.49" stop-color="#e7f6e3"/><stop offset="0.51" stop-color="#e7f6e3"/><stop offset="0.54" stop-color="#e7f7e3"/><stop offset="0.57" stop-color="#e7f7e4"/><stop offset="0.59" stop-color="#e8f7e4"/><stop offset="0.62" stop-color="#e8f7e5"/><stop offset="0.65" stop-color="#e9f7e5"/><stop offset="0.68" stop-color="#e9f7e6"/><stop offset="0.76" stop-color="#e9f7e6"/><stop offset="0.78" stop-color="#e9f7e5"/><stop offset="0.81" stop-color="#e8f7e5"/><stop offset="0.84" stop-color="#e8f7e4"/><stop offset="0.86" stop-color="#e8f7e4"/><stop offset="0.89" stop-color="#e7f7e3"/><stop offset="0.92" stop-color="#e7f7e3"/><stop offset="0.95" stop-color="#e7f6e3"/><stop offset="1" stop-color="#e7f6e3"/></linearGradient><linearGradient id="clipA73" gradientUnits="userSpaceOnUse" x1="54.2" y1="0" x2="350.2" y2="0"><stop offset="0" stop-color="#e8f7e5"/><stop offset="0.03" stop-color="#e8f7e5"/><stop offset="0.05" stop-color="#e9f7e5"/><stop offset="0.14" stop-color="#e9f7e5"/><stop offset="0.16" stop-color="#e8f7e5"/><stop offset="0.32" stop-color="#e8f7e5"/><stop offset="0.35" stop-color="#e8f7e4"/><stop offset="0.38" stop-color="#e6f6e3"/><stop offset="0.41" stop-color="#dff4db"/><stop offset="0.43" stop-color="#e0f4db"/><stop offset="0.46" stop-color="#e6f6e2"/><stop offset="0.49" stop-color="#e7f7e3"/><stop offset="0.51" stop-color="#e7f7e4"/><stop offset="0.57" stop-color="#e7f7e4"/><stop offset="0.59" stop-color="#e8f7e4"/><stop offset="0.62" stop-color="#e8f7e5"/><stop offset="0.65" stop-color="#e9f7e5"/><stop offset="0.68" stop-color="#e9f7e6"/><stop offset="0.78" stop-color="#e9f7e6"/><stop offset="0.81" stop-color="#e9f7e5"/><stop offset="0.84" stop-color="#e8f7e5"/><stop offset="0.86" stop-color="#e8f7e4"/><stop offset="0.92" stop-color="#e8f7e4"/><stop offset="0.95" stop-color="#e7f7e4"/><stop offset="1" stop-color="#e7f7e4"/></linearGradient><linearGradient id="clipA74" gradientUnits="userSpaceOnUse" x1="54.2" y1="0" x2="350.2" y2="0"><stop offset="0" stop-color="#e5f6e1"/><stop offset="0.27" stop-color="#e5f6e1"/><stop offset="0.3" stop-color="#e4f6e1"/><stop offset="0.32" stop-color="#e4f6e0"/><stop offset="0.35" stop-color="#e4f6e0"/><stop offset="0.38" stop-color="#e2f5de"/><stop offset="0.41" stop-color="#d9f2d4"/><stop offset="0.43" stop-color="#d9f2d4"/><stop offset="0.46" stop-color="#e2f5dd"/><stop offset="0.49" stop-color="#e3f5df"/><stop offset="0.59" stop-color="#e3f5df"/><stop offset="0.62" stop-color="#e4f5e0"/><stop offset="0.65" stop-color="#e4f6e0"/><stop offset="0.68" stop-color="#e5f6e1"/><stop offset="0.81" stop-color="#e5f6e1"/><stop offset="0.84" stop-color="#e4f6e0"/><stop offset="0.86" stop-color="#e4f6e0"/><stop offset="0.89" stop-color="#e4f5e0"/><stop offset="0.92" stop-color="#e4f5e0"/><stop offset="0.95" stop-color="#e4f5df"/><stop offset="0.97" stop-color="#e3f5df"/><stop offset="1" stop-color="#e3f5df"/></linearGradient><linearGradient id="clipA75" gradientUnits="userSpaceOnUse" x1="54.2" y1="0" x2="350.2" y2="0"><stop offset="0" stop-color="#e9f7e5"/><stop offset="0.03" stop-color="#e9f7e6"/><stop offset="0.14" stop-color="#e9f7e6"/><stop offset="0.16" stop-color="#e9f7e5"/><stop offset="0.27" stop-color="#e9f7e5"/><stop offset="0.3" stop-color="#e8f7e5"/><stop offset="0.35" stop-color="#e8f7e5"/><stop offset="0.38" stop-color="#e6f6e3"/><stop offset="0.41" stop-color="#def3d9"/><stop offset="0.43" stop-color="#def3da"/><stop offset="0.46" stop-color="#e6f6e2"/><stop offset="0.49" stop-color="#e7f7e3"/><stop offset="0.59" stop-color="#e7f7e3"/><stop offset="0.62" stop-color="#e7f7e4"/><stop offset="0.65" stop-color="#e8f7e4"/><stop offset="0.68" stop-color="#e8f7e4"/><stop offset="0.7" stop-color="#e8f7e5"/><stop offset="0.73" stop-color="#e9f7e5"/><stop offset="0.78" stop-color="#e9f7e5"/><stop offset="0.81" stop-color="#e8f7e5"/><stop offset="0.84" stop-color="#e8f7e5"/><stop offset="0.86" stop-color="#e8f7e4"/><stop offset="1" stop-color="#e8f7e4"/></linearGradient><linearGradient id="clipA76" gradientUnits="userSpaceOnUse" x1="54.2" y1="0" x2="350.2" y2="0"><stop offset="0" stop-color="#eaf7e6"/><stop offset="0.03" stop-color="#eaf8e6"/><stop offset="0.05" stop-color="#eaf8e7"/><stop offset="0.14" stop-color="#eaf8e7"/><stop offset="0.16" stop-color="#eaf8e6"/><stop offset="0.19" stop-color="#e9f7e6"/><stop offset="0.3" stop-color="#e9f7e6"/><stop offset="0.32" stop-color="#e9f7e5"/><stop offset="0.35" stop-color="#e9f7e5"/><stop offset="0.38" stop-color="#e7f7e3"/><stop offset="0.41" stop-color="#def4da"/><stop offset="0.43" stop-color="#dff4da"/><stop offset="0.46" stop-color="#e6f6e3"/><stop offset="0.49" stop-color="#e8f7e4"/><stop offset="0.51" stop-color="#e8f7e4"/><stop offset="0.54" stop-color="#e7f7e4"/><stop offset="0.62" stop-color="#e7f7e4"/><stop offset="0.65" stop-color="#e8f7e4"/><stop offset="0.68" stop-color="#e8f7e5"/><stop offset="0.7" stop-color="#e9f7e5"/><stop offset="0.95" stop-color="#e9f7e5"/><stop offset="0.97" stop-color="#e8f7e5"/><stop offset="1" stop-color="#e8f7e5"/></linearGradient><linearGradient id="clipA77" gradientUnits="userSpaceOnUse" x1="54.2" y1="0" x2="350.2" y2="0"><stop offset="0" stop-color="#e5f6e2"/><stop offset="0.03" stop-color="#e6f6e2"/><stop offset="0.05" stop-color="#e6f6e2"/><stop offset="0.08" stop-color="#e6f6e3"/><stop offset="0.11" stop-color="#e6f6e3"/><stop offset="0.14" stop-color="#e6f6e2"/><stop offset="0.16" stop-color="#e6f6e2"/><stop offset="0.19" stop-color="#e5f6e1"/><stop offset="0.3" stop-color="#e5f6e1"/><stop offset="0.32" stop-color="#e4f6e0"/><stop offset="0.35" stop-color="#e4f6e0"/><stop offset="0.38" stop-color="#e2f5de"/><stop offset="0.41" stop-color="#d7f1d2"/><stop offset="0.43" stop-color="#d7f1d2"/><stop offset="0.46" stop-color="#e1f5dd"/><stop offset="0.49" stop-color="#e3f5df"/><stop offset="0.51" stop-color="#e2f5de"/><stop offset="0.65" stop-color="#e2f5de"/><stop offset="0.68" stop-color="#e3f5df"/><stop offset="0.7" stop-color="#e3f5df"/><stop offset="0.73" stop-color="#e4f5e0"/><stop offset="0.76" stop-color="#e4f6e0"/><stop offset="0.89" stop-color="#e4f6e0"/><stop offset="0.92" stop-color="#e4f5e0"/><stop offset="1" stop-color="#e4f5e0"/></linearGradient><linearGradient id="clipA78" gradientUnits="userSpaceOnUse" x1="54.2" y1="0" x2="350.2" y2="0"><stop offset="0" stop-color="#e7f7e3"/><stop offset="0.03" stop-color="#e8f7e4"/><stop offset="0.05" stop-color="#e8f7e5"/><stop offset="0.11" stop-color="#e8f7e5"/><stop offset="0.14" stop-color="#e8f7e4"/><stop offset="0.16" stop-color="#e7f7e4"/><stop offset="0.19" stop-color="#e7f6e3"/><stop offset="0.22" stop-color="#e6f6e3"/><stop offset="0.24" stop-color="#e6f6e2"/><stop offset="0.35" stop-color="#e6f6e2"/><stop offset="0.38" stop-color="#e4f5e0"/><stop offset="0.41" stop-color="#daf2d4"/><stop offset="0.43" stop-color="#daf2d5"/><stop offset="0.46" stop-color="#e3f5df"/><stop offset="0.49" stop-color="#e4f6e0"/><stop offset="0.51" stop-color="#e4f5e0"/><stop offset="0.54" stop-color="#e3f5df"/><stop offset="0.62" stop-color="#e3f5df"/><stop offset="0.65" stop-color="#e4f5df"/><stop offset="0.68" stop-color="#e4f6e0"/><stop offset="0.7" stop-color="#e5f6e1"/><stop offset="0.73" stop-color="#e5f6e1"/><stop offset="0.76" stop-color="#e5f6e2"/><stop offset="0.78" stop-color="#e6f6e2"/><stop offset="0.95" stop-color="#e6f6e2"/><stop offset="0.97" stop-color="#e5f6e2"/><stop offset="1" stop-color="#e5f6e2"/></linearGradient><linearGradient id="clipA79" gradientUnits="userSpaceOnUse" x1="54.2" y1="0" x2="350.2" y2="0"><stop offset="0" stop-color="#e9f7e5"/><stop offset="0.03" stop-color="#eaf7e6"/><stop offset="0.05" stop-color="#eaf8e7"/><stop offset="0.11" stop-color="#eaf8e7"/><stop offset="0.14" stop-color="#eaf8e6"/><stop offset="0.16" stop-color="#e9f7e6"/><stop offset="0.19" stop-color="#e9f7e5"/><stop offset="0.22" stop-color="#e8f7e5"/><stop offset="0.24" stop-color="#e8f7e4"/><stop offset="0.32" stop-color="#e8f7e4"/><stop offset="0.35" stop-color="#e7f7e4"/><stop offset="0.38" stop-color="#e5f6e2"/><stop offset="0.41" stop-color="#dcf3d8"/><stop offset="0.43" stop-color="#ddf3d8"/><stop offset="0.46" stop-color="#e5f6e1"/><stop offset="0.49" stop-color="#e6f6e2"/><stop offset="0.51" stop-color="#e5f6e1"/><stop offset="0.54" stop-color="#e5f6e1"/><stop offset="0.57" stop-color="#e4f6e0"/><stop offset="0.59" stop-color="#e4f6e0"/><stop offset="0.62" stop-color="#e5f6e1"/><stop offset="0.65" stop-color="#e5f6e1"/><stop offset="0.68" stop-color="#e6f6e2"/><stop offset="0.7" stop-color="#e6f6e2"/><stop offset="0.73" stop-color="#e7f6e3"/><stop offset="0.76" stop-color="#e7f7e3"/><stop offset="0.78" stop-color="#e7f7e4"/><stop offset="1" stop-color="#e7f7e4"/></linearGradient><linearGradient id="clipA80" gradientUnits="userSpaceOnUse" x1="54.2" y1="0" x2="350.2" y2="0"><stop offset="0" stop-color="#e7f7e4"/><stop offset="0.03" stop-color="#e8f7e5"/><stop offset="0.05" stop-color="#e9f7e6"/><stop offset="0.11" stop-color="#e9f7e6"/><stop offset="0.14" stop-color="#e9f7e5"/><stop offset="0.16" stop-color="#e8f7e4"/><stop offset="0.19" stop-color="#e7f7e3"/><stop offset="0.22" stop-color="#e6f6e3"/><stop offset="0.24" stop-color="#e6f6e2"/><stop offset="0.35" stop-color="#e6f6e2"/><stop offset="0.38" stop-color="#e4f5e0"/><stop offset="0.41" stop-color="#daf2d5"/><stop offset="0.43" stop-color="#daf2d6"/><stop offset="0.46" stop-color="#e3f5df"/><stop offset="0.49" stop-color="#e4f5e0"/><stop offset="0.51" stop-color="#e3f5df"/><stop offset="0.54" stop-color="#e2f5de"/><stop offset="0.62" stop-color="#e2f5de"/><stop offset="0.65" stop-color="#e3f5de"/><stop offset="0.68" stop-color="#e3f5df"/><stop offset="0.7" stop-color="#e4f6e0"/><stop offset="0.73" stop-color="#e5f6e1"/><stop offset="0.78" stop-color="#e5f6e1"/><stop offset="0.81" stop-color="#e5f6e2"/><stop offset="0.84" stop-color="#e5f6e2"/><stop offset="0.86" stop-color="#e6f6e2"/><stop offset="0.89" stop-color="#e6f6e2"/><stop offset="0.92" stop-color="#e5f6e2"/><stop offset="1" stop-color="#e5f6e2"/></linearGradient><linearGradient id="clipA81" gradientUnits="userSpaceOnUse" x1="54.2" y1="0" x2="350.2" y2="0"><stop offset="0" stop-color="#e8f7e4"/><stop offset="0.03" stop-color="#e9f7e5"/><stop offset="0.05" stop-color="#eaf7e6"/><stop offset="0.08" stop-color="#eaf8e7"/><stop offset="0.11" stop-color="#eaf8e7"/><stop offset="0.14" stop-color="#e9f7e6"/><stop offset="0.16" stop-color="#e8f7e5"/><stop offset="0.19" stop-color="#e7f7e4"/><stop offset="0.22" stop-color="#e7f6e3"/><stop offset="0.24" stop-color="#e6f6e2"/><stop offset="0.35" stop-color="#e6f6e2"/><stop offset="0.38" stop-color="#e4f5e0"/><stop offset="0.41" stop-color="#dbf2d6"/><stop offset="0.43" stop-color="#dbf2d7"/><stop offset="0.46" stop-color="#e3f5df"/><stop offset="0.49" stop-color="#e4f5e0"/><stop offset="0.51" stop-color="#e3f5df"/><stop offset="0.54" stop-color="#e2f5de"/><stop offset="0.57" stop-color="#e2f5de"/><stop offset="0.59" stop-color="#e2f5dd"/><stop offset="0.62" stop-color="#e2f5de"/><stop offset="0.65" stop-color="#e2f5de"/><stop offset="0.68" stop-color="#e3f5df"/><stop offset="0.7" stop-color="#e4f5e0"/><stop offset="0.73" stop-color="#e5f6e1"/><stop offset="0.76" stop-color="#e5f6e1"/><stop offset="0.78" stop-color="#e5f6e2"/><stop offset="0.81" stop-color="#e6f6e2"/><stop offset="1" stop-color="#e6f6e2"/></linearGradient><linearGradient id="clipA82" gradientUnits="userSpaceOnUse" x1="54.2" y1="0" x2="350.2" y2="0"><stop offset="0" stop-color="#ebf8e7"/><stop offset="0.03" stop-color="#ecf8e8"/><stop offset="0.05" stop-color="#edf9e9"/><stop offset="0.08" stop-color="#edf9ea"/><stop offset="0.11" stop-color="#edf9ea"/><stop offset="0.14" stop-color="#ecf8e9"/><stop offset="0.16" stop-color="#ebf8e8"/><stop offset="0.19" stop-color="#eaf8e7"/><stop offset="0.22" stop-color="#e9f7e6"/><stop offset="0.24" stop-color="#e9f7e6"/><stop offset="0.27" stop-color="#e9f7e5"/><stop offset="0.35" stop-color="#e9f7e5"/><stop offset="0.38" stop-color="#e7f7e3"/><stop offset="0.41" stop-color="#e0f4dc"/><stop offset="0.43" stop-color="#e0f4dc"/><stop offset="0.46" stop-color="#e6f6e2"/><stop offset="0.49" stop-color="#e7f6e3"/><stop offset="0.51" stop-color="#e6f6e2"/><stop offset="0.54" stop-color="#e5f6e2"/><stop offset="0.57" stop-color="#e5f6e1"/><stop offset="0.62" stop-color="#e5f6e1"/><stop offset="0.65" stop-color="#e5f6e2"/><stop offset="0.68" stop-color="#e6f6e2"/><stop offset="0.7" stop-color="#e7f7e3"/><stop offset="0.73" stop-color="#e7f7e4"/><stop offset="0.76" stop-color="#e8f7e4"/><stop offset="0.78" stop-color="#e8f7e5"/><stop offset="1" stop-color="#e8f7e5"/></linearGradient><linearGradient id="clipA83" gradientUnits="userSpaceOnUse" x1="54.2" y1="0" x2="350.2" y2="0"><stop offset="0" stop-color="#e8f7e4"/><stop offset="0.03" stop-color="#e9f7e5"/><stop offset="0.05" stop-color="#eaf8e7"/><stop offset="0.08" stop-color="#ebf8e7"/><stop offset="0.11" stop-color="#ebf8e7"/><stop offset="0.14" stop-color="#eaf7e6"/><stop offset="0.16" stop-color="#e8f7e5"/><stop offset="0.19" stop-color="#e7f7e3"/><stop offset="0.22" stop-color="#e6f6e2"/><stop offset="0.24" stop-color="#e6f6e2"/><stop offset="0.27" stop-color="#e5f6e1"/><stop offset="0.35" stop-color="#e5f6e1"/><stop offset="0.38" stop-color="#e3f5df"/><stop offset="0.41" stop-color="#ddf3d8"/><stop offset="0.43" stop-color="#ddf3d8"/><stop offset="0.46" stop-color="#e3f5de"/><stop offset="0.49" stop-color="#e3f5df"/><stop offset="0.51" stop-color="#e2f5de"/><stop offset="0.54" stop-color="#e1f5dd"/><stop offset="0.57" stop-color="#e1f4dd"/><stop offset="0.59" stop-color="#e1f4dc"/><stop offset="0.62" stop-color="#e1f4dd"/><stop offset="0.65" stop-color="#e1f5dd"/><stop offset="0.68" stop-color="#e2f5de"/><stop offset="0.7" stop-color="#e3f5df"/><stop offset="0.73" stop-color="#e4f5e0"/><stop offset="0.76" stop-color="#e4f6e0"/><stop offset="0.78" stop-color="#e5f6e1"/><stop offset="1" stop-color="#e5f6e1"/></linearGradient><linearGradient id="clipA84" gradientUnits="userSpaceOnUse" x1="54.2" y1="0" x2="350.2" y2="0"><stop offset="0" stop-color="#e9f7e5"/><stop offset="0.03" stop-color="#eaf8e7"/><stop offset="0.05" stop-color="#ebf8e8"/><stop offset="0.08" stop-color="#ecf8e9"/><stop offset="0.11" stop-color="#ecf8e9"/><stop offset="0.14" stop-color="#ebf8e7"/><stop offset="0.16" stop-color="#e9f7e6"/><stop offset="0.19" stop-color="#e8f7e4"/><stop offset="0.22" stop-color="#e7f7e3"/><stop offset="0.24" stop-color="#e7f6e3"/><stop offset="0.27" stop-color="#e6f6e3"/><stop offset="0.3" stop-color="#e6f6e2"/><stop offset="0.35" stop-color="#e6f6e2"/><stop offset="0.38" stop-color="#e5f6e1"/><stop offset="0.41" stop-color="#dff4db"/><stop offset="0.43" stop-color="#dff4db"/><stop offset="0.46" stop-color="#e4f5e0"/><stop offset="0.49" stop-color="#e4f6e0"/><stop offset="0.51" stop-color="#e3f5df"/><stop offset="0.54" stop-color="#e3f5df"/><stop offset="0.57" stop-color="#e2f5de"/><stop offset="0.62" stop-color="#e2f5de"/><stop offset="0.65" stop-color="#e3f5df"/><stop offset="0.68" stop-color="#e3f5df"/><stop offset="0.7" stop-color="#e4f6e0"/><stop offset="0.73" stop-color="#e5f6e1"/><stop offset="0.76" stop-color="#e5f6e2"/><stop offset="0.78" stop-color="#e6f6e2"/><stop offset="1" stop-color="#e6f6e2"/></linearGradient><linearGradient id="clipA85" gradientUnits="userSpaceOnUse" x1="54.2" y1="0" x2="350.2" y2="0"><stop offset="0" stop-color="#e9f7e6"/><stop offset="0.03" stop-color="#ebf8e7"/><stop offset="0.05" stop-color="#ecf8e9"/><stop offset="0.08" stop-color="#edf9ea"/><stop offset="0.11" stop-color="#ecf8e9"/><stop offset="0.14" stop-color="#ebf8e8"/><stop offset="0.16" stop-color="#eaf8e6"/><stop offset="0.19" stop-color="#e9f7e5"/><stop offset="0.22" stop-color="#e8f7e4"/><stop offset="0.24" stop-color="#e7f7e3"/><stop offset="0.27" stop-color="#e7f6e3"/><stop offset="0.32" stop-color="#e7f6e3"/><stop offset="0.35" stop-color="#e6f6e3"/><stop offset="0.38" stop-color="#e5f6e2"/><stop offset="0.41" stop-color="#e1f4dc"/><stop offset="0.43" stop-color="#e1f4dc"/><stop offset="0.46" stop-color="#e5f6e1"/><stop offset="0.49" stop-color="#e5f6e1"/><stop offset="0.51" stop-color="#e4f6e0"/><stop offset="0.54" stop-color="#e3f5df"/><stop offset="0.65" stop-color="#e3f5df"/><stop offset="0.68" stop-color="#e4f6e0"/><stop offset="0.7" stop-color="#e5f6e1"/><stop offset="0.73" stop-color="#e5f6e2"/><stop offset="0.76" stop-color="#e6f6e2"/><stop offset="0.78" stop-color="#e6f6e2"/><stop offset="0.81" stop-color="#e6f6e3"/><stop offset="1" stop-color="#e6f6e3"/></linearGradient><linearGradient id="clipA86" gradientUnits="userSpaceOnUse" x1="54.2" y1="0" x2="350.2" y2="0"><stop offset="0" stop-color="#eaf8e7"/><stop offset="0.03" stop-color="#ecf8e9"/><stop offset="0.05" stop-color="#edf9ea"/><stop offset="0.08" stop-color="#eef9eb"/><stop offset="0.11" stop-color="#edf9ea"/><stop offset="0.14" stop-color="#ecf8e9"/><stop offset="0.16" stop-color="#ebf8e8"/><stop offset="0.19" stop-color="#eaf7e6"/><stop offset="0.22" stop-color="#e9f7e5"/><stop offset="0.24" stop-color="#e8f7e5"/><stop offset="0.27" stop-color="#e8f7e4"/><stop offset="0.35" stop-color="#e8f7e4"/><stop offset="0.38" stop-color="#e7f6e3"/><stop offset="0.41" stop-color="#e3f5df"/><stop offset="0.43" stop-color="#e3f5df"/><stop offset="0.46" stop-color="#e6f6e2"/><stop offset="0.51" stop-color="#e6f6e2"/><stop offset="0.54" stop-color="#e5f6e1"/><stop offset="0.65" stop-color="#e5f6e1"/><stop offset="0.68" stop-color="#e6f6e2"/><stop offset="0.7" stop-color="#e6f6e2"/><stop offset="0.73" stop-color="#e7f6e3"/><stop offset="0.76" stop-color="#e7f7e3"/><stop offset="0.78" stop-color="#e7f7e4"/><stop offset="0.81" stop-color="#e7f7e4"/><stop offset="0.84" stop-color="#e8f7e4"/><stop offset="1" stop-color="#e8f7e4"/></linearGradient><linearGradient id="clipA87" gradientUnits="userSpaceOnUse" x1="54.2" y1="0" x2="350.2" y2="0"><stop offset="0" stop-color="#ecf8e9"/><stop offset="0.03" stop-color="#eef9eb"/><stop offset="0.05" stop-color="#eff9ec"/><stop offset="0.11" stop-color="#eff9ec"/><stop offset="0.14" stop-color="#eef9eb"/><stop offset="0.16" stop-color="#edf9ea"/><stop offset="0.19" stop-color="#ecf8e9"/><stop offset="0.22" stop-color="#ebf8e8"/><stop offset="0.24" stop-color="#eaf8e7"/><stop offset="0.35" stop-color="#eaf8e7"/><stop offset="0.38" stop-color="#e9f7e6"/><stop offset="0.41" stop-color="#e7f7e3"/><stop offset="0.43" stop-color="#e7f6e3"/><stop offset="0.46" stop-color="#e9f7e5"/><stop offset="0.49" stop-color="#e9f7e5"/><stop offset="0.51" stop-color="#e8f7e5"/><stop offset="0.54" stop-color="#e8f7e4"/><stop offset="0.65" stop-color="#e8f7e4"/><stop offset="0.68" stop-color="#e9f7e5"/><stop offset="0.7" stop-color="#e9f7e5"/><stop offset="0.73" stop-color="#e9f7e6"/><stop offset="0.76" stop-color="#eaf7e6"/><stop offset="0.78" stop-color="#eaf8e6"/><stop offset="0.81" stop-color="#eaf8e7"/><stop offset="1" stop-color="#eaf8e7"/></linearGradient><linearGradient id="clipA88" gradientUnits="userSpaceOnUse" x1="54.2" y1="0" x2="350.2" y2="0"><stop offset="0" stop-color="#ebf8e8"/><stop offset="0.03" stop-color="#edf9ea"/><stop offset="0.05" stop-color="#eef9eb"/><stop offset="0.11" stop-color="#eef9eb"/><stop offset="0.14" stop-color="#edf9ea"/><stop offset="0.16" stop-color="#ecf8e9"/><stop offset="0.19" stop-color="#ebf8e7"/><stop offset="0.22" stop-color="#eaf8e6"/><stop offset="0.24" stop-color="#e9f7e6"/><stop offset="0.27" stop-color="#e9f7e6"/><stop offset="0.3" stop-color="#e9f7e5"/><stop offset="0.35" stop-color="#e9f7e5"/><stop offset="0.38" stop-color="#e8f7e5"/><stop offset="0.41" stop-color="#e6f6e3"/><stop offset="0.43" stop-color="#e6f6e3"/><stop offset="0.46" stop-color="#e8f7e4"/><stop offset="0.51" stop-color="#e8f7e4"/><stop offset="0.54" stop-color="#e7f7e4"/><stop offset="0.57" stop-color="#e7f7e3"/><stop offset="0.59" stop-color="#e7f6e3"/><stop offset="0.62" stop-color="#e7f7e3"/><stop offset="0.65" stop-color="#e7f7e4"/><stop offset="0.68" stop-color="#e8f7e4"/><stop offset="0.7" stop-color="#e8f7e4"/><stop offset="0.73" stop-color="#e8f7e5"/><stop offset="0.76" stop-color="#e9f7e5"/><stop offset="1" stop-color="#e9f7e5"/></linearGradient><linearGradient id="clipA89" gradientUnits="userSpaceOnUse" x1="54.2" y1="0" x2="350.2" y2="0"><stop offset="0" stop-color="#eaf7e6"/><stop offset="0.03" stop-color="#ebf8e8"/><stop offset="0.05" stop-color="#ecf8e9"/><stop offset="0.08" stop-color="#edf9ea"/><stop offset="0.11" stop-color="#ecf8e9"/><stop offset="0.14" stop-color="#ebf8e8"/><stop offset="0.16" stop-color="#eaf8e7"/><stop offset="0.19" stop-color="#e9f7e5"/><stop offset="0.22" stop-color="#e8f7e4"/><stop offset="0.24" stop-color="#e7f7e4"/><stop offset="0.27" stop-color="#e7f7e4"/><stop offset="0.3" stop-color="#e7f7e3"/><stop offset="0.35" stop-color="#e7f7e3"/><stop offset="0.38" stop-color="#e7f6e3"/><stop offset="0.41" stop-color="#e5f6e1"/><stop offset="0.43" stop-color="#e5f6e1"/><stop offset="0.46" stop-color="#e6f6e2"/><stop offset="0.54" stop-color="#e6f6e2"/><stop offset="0.57" stop-color="#e5f6e2"/><stop offset="0.59" stop-color="#e5f6e1"/><stop offset="0.62" stop-color="#e5f6e2"/><stop offset="0.65" stop-color="#e6f6e2"/><stop offset="0.68" stop-color="#e6f6e2"/><stop offset="0.7" stop-color="#e6f6e3"/><stop offset="0.73" stop-color="#e7f6e3"/><stop offset="0.76" stop-color="#e7f6e3"/><stop offset="0.78" stop-color="#e7f7e3"/><stop offset="1" stop-color="#e7f7e3"/></linearGradient><linearGradient id="clipA90" gradientUnits="userSpaceOnUse" x1="54.2" y1="0" x2="350.2" y2="0"><stop offset="0" stop-color="#eaf8e7"/><stop offset="0.03" stop-color="#ecf8e8"/><stop offset="0.05" stop-color="#edf9e9"/><stop offset="0.08" stop-color="#edf9ea"/><stop offset="0.11" stop-color="#edf9ea"/><stop offset="0.14" stop-color="#ecf8e9"/><stop offset="0.16" stop-color="#ebf8e8"/><stop offset="0.19" stop-color="#eaf8e6"/><stop offset="0.22" stop-color="#e9f7e6"/><stop offset="0.24" stop-color="#e9f7e5"/><stop offset="0.27" stop-color="#e8f7e5"/><stop offset="0.35" stop-color="#e8f7e5"/><stop offset="0.38" stop-color="#e8f7e4"/><stop offset="0.41" stop-color="#e7f7e3"/><stop offset="0.43" stop-color="#e7f6e3"/><stop offset="0.46" stop-color="#e8f7e4"/><stop offset="0.49" stop-color="#e8f7e4"/><stop offset="0.51" stop-color="#e7f7e4"/><stop offset="0.54" stop-color="#e7f7e4"/><stop offset="0.57" stop-color="#e7f7e3"/><stop offset="0.62" stop-color="#e7f7e3"/><stop offset="0.65" stop-color="#e7f7e4"/><stop offset="0.68" stop-color="#e7f7e4"/><stop offset="0.7" stop-color="#e8f7e4"/><stop offset="0.76" stop-color="#e8f7e4"/><stop offset="0.78" stop-color="#e8f7e5"/><stop offset="1" stop-color="#e8f7e5"/></linearGradient><linearGradient id="clipA91" gradientUnits="userSpaceOnUse" x1="54.2" y1="0" x2="350.2" y2="0"><stop offset="0" stop-color="#e8f7e4"/><stop offset="0.03" stop-color="#e9f7e5"/><stop offset="0.05" stop-color="#eaf8e7"/><stop offset="0.08" stop-color="#ebf8e7"/><stop offset="0.11" stop-color="#eaf8e7"/><stop offset="0.14" stop-color="#e9f7e6"/><stop offset="0.16" stop-color="#e8f7e5"/><stop offset="0.19" stop-color="#e7f7e4"/><stop offset="0.22" stop-color="#e6f6e3"/><stop offset="0.24" stop-color="#e6f6e2"/><stop offset="0.38" stop-color="#e6f6e2"/><stop offset="0.41" stop-color="#e5f6e1"/><stop offset="0.7" stop-color="#e5f6e1"/><stop offset="0.73" stop-color="#e5f6e2"/><stop offset="0.76" stop-color="#e6f6e2"/><stop offset="1" stop-color="#e6f6e2"/></linearGradient><linearGradient id="clipA92" gradientUnits="userSpaceOnUse" x1="54.2" y1="0" x2="350.2" y2="0"><stop offset="0" stop-color="#eaf8e7"/><stop offset="0.03" stop-color="#ebf8e8"/><stop offset="0.05" stop-color="#ecf8e9"/><stop offset="0.11" stop-color="#ecf8e9"/><stop offset="0.14" stop-color="#ecf8e8"/><stop offset="0.16" stop-color="#ebf8e7"/><stop offset="0.19" stop-color="#eaf8e6"/><stop offset="0.22" stop-color="#e9f7e6"/><stop offset="0.24" stop-color="#e9f7e5"/><stop offset="0.38" stop-color="#e9f7e5"/><stop offset="0.41" stop-color="#e8f7e4"/><stop offset="0.43" stop-color="#e8f7e4"/><stop offset="0.46" stop-color="#e8f7e5"/><stop offset="0.54" stop-color="#e8f7e5"/><stop offset="0.57" stop-color="#e8f7e4"/><stop offset="0.62" stop-color="#e8f7e4"/><stop offset="0.65" stop-color="#e8f7e5"/><stop offset="0.73" stop-color="#e8f7e5"/><stop offset="0.76" stop-color="#e9f7e5"/><stop offset="1" stop-color="#e9f7e5"/></linearGradient><linearGradient id="clipA93" gradientUnits="userSpaceOnUse" x1="54.2" y1="0" x2="350.2" y2="0"><stop offset="0" stop-color="#ebf8e7"/><stop offset="0.03" stop-color="#ebf8e8"/><stop offset="0.05" stop-color="#ecf8e9"/><stop offset="0.11" stop-color="#ecf8e9"/><stop offset="0.14" stop-color="#ecf8e8"/><stop offset="0.16" stop-color="#ebf8e8"/><stop offset="0.19" stop-color="#eaf8e7"/><stop offset="0.22" stop-color="#eaf8e6"/><stop offset="0.24" stop-color="#e9f7e6"/><stop offset="0.38" stop-color="#e9f7e6"/><stop offset="0.41" stop-color="#e9f7e5"/><stop offset="0.43" stop-color="#e9f7e5"/><stop offset="0.46" stop-color="#e9f7e6"/><stop offset="0.51" stop-color="#e9f7e6"/><stop offset="0.54" stop-color="#e9f7e5"/><stop offset="0.65" stop-color="#e9f7e5"/><stop offset="0.68" stop-color="#e9f7e6"/><stop offset="1" stop-color="#e9f7e6"/></linearGradient><linearGradient id="clipA94" gradientUnits="userSpaceOnUse" x1="54.2" y1="0" x2="350.2" y2="0"><stop offset="0" stop-color="#eaf8e7"/><stop offset="0.03" stop-color="#ebf8e8"/><stop offset="0.05" stop-color="#ecf8e8"/><stop offset="0.08" stop-color="#ecf8e9"/><stop offset="0.11" stop-color="#ecf8e9"/><stop offset="0.14" stop-color="#ebf8e8"/><stop offset="0.16" stop-color="#ebf8e7"/><stop offset="0.19" stop-color="#eaf8e7"/><stop offset="0.22" stop-color="#eaf8e6"/><stop offset="0.24" stop-color="#eaf7e6"/><stop offset="0.27" stop-color="#e9f7e6"/><stop offset="1" stop-color="#e9f7e6"/></linearGradient></defs>
<g clip-path="url(#clipA)">
<g filter="url(#bF)">
<rect x="54.2" y="4.2" width="296" height="2.5" fill="#f6fdf6"/>
<rect x="54.2" y="6.2" width="296" height="2.5" fill="#f6fcf5"/>
<rect x="54.2" y="8.2" width="296" height="2.5" fill="#f6fdf6"/>
<rect x="54.2" y="10.2" width="296" height="2.5" fill="#f7fdf6"/>
<rect x="54.2" y="12.2" width="296" height="2.5" fill="#f6fcf5"/>
<rect x="54.2" y="14.2" width="296" height="2.5" fill="url(#clipA5)"/>
<rect x="54.2" y="16.2" width="296" height="2.5" fill="url(#clipA6)"/>
<rect x="54.2" y="18.2" width="296" height="2.5" fill="#f6fcf5"/>
<rect x="54.2" y="20.2" width="296" height="2.5" fill="url(#clipA8)"/>
<rect x="54.2" y="22.2" width="296" height="2.5" fill="url(#clipA9)"/>
<rect x="54.2" y="24.2" width="296" height="2.5" fill="url(#clipA10)"/>
<rect x="54.2" y="26.2" width="296" height="2.5" fill="url(#clipA11)"/>
<rect x="54.2" y="28.2" width="296" height="2.5" fill="url(#clipA12)"/>
<rect x="54.2" y="30.2" width="296" height="2.5" fill="url(#clipA13)"/>
<rect x="54.2" y="32.2" width="296" height="2.5" fill="url(#clipA14)"/>
<rect x="54.2" y="34.2" width="296" height="2.5" fill="url(#clipA15)"/>
<rect x="54.2" y="36.2" width="296" height="2.5" fill="url(#clipA16)"/>
<rect x="54.2" y="38.2" width="296" height="2.5" fill="url(#clipA17)"/>
<rect x="54.2" y="40.2" width="296" height="2.5" fill="url(#clipA18)"/>
<rect x="54.2" y="42.2" width="296" height="2.5" fill="url(#clipA19)"/>
<rect x="54.2" y="44.2" width="296" height="2.5" fill="url(#clipA20)"/>
<rect x="54.2" y="46.2" width="296" height="2.5" fill="url(#clipA21)"/>
<rect x="54.2" y="48.2" width="296" height="2.5" fill="url(#clipA22)"/>
<rect x="54.2" y="50.2" width="296" height="2.5" fill="url(#clipA23)"/>
<rect x="54.2" y="52.2" width="296" height="2.5" fill="url(#clipA24)"/>
<rect x="54.2" y="54.2" width="296" height="2.5" fill="url(#clipA25)"/>
<rect x="54.2" y="56.2" width="296" height="2.5" fill="url(#clipA26)"/>
<rect x="54.2" y="58.2" width="296" height="2.5" fill="url(#clipA27)"/>
<rect x="54.2" y="60.2" width="296" height="2.5" fill="url(#clipA28)"/>
<rect x="54.2" y="62.2" width="296" height="2.5" fill="url(#clipA29)"/>
<rect x="54.2" y="64.2" width="296" height="2.5" fill="url(#clipA30)"/>
<rect x="54.2" y="66.2" width="296" height="2.5" fill="url(#clipA31)"/>
<rect x="54.2" y="68.2" width="296" height="2.5" fill="url(#clipA32)"/>
<rect x="54.2" y="70.2" width="296" height="2.5" fill="url(#clipA33)"/>
<rect x="54.2" y="72.2" width="296" height="2.5" fill="url(#clipA34)"/>
<rect x="54.2" y="74.2" width="296" height="2.5" fill="url(#clipA35)"/>
<rect x="54.2" y="76.2" width="296" height="2.5" fill="url(#clipA36)"/>
<rect x="54.2" y="78.2" width="296" height="2.5" fill="url(#clipA37)"/>
<rect x="54.2" y="80.2" width="296" height="2.5" fill="url(#clipA38)"/>
<rect x="54.2" y="82.2" width="296" height="2.5" fill="url(#clipA39)"/>
<rect x="54.2" y="84.2" width="296" height="2.5" fill="url(#clipA40)"/>
<rect x="54.2" y="86.2" width="296" height="2.5" fill="url(#clipA41)"/>
<rect x="54.2" y="88.2" width="296" height="2.5" fill="url(#clipA42)"/>
<rect x="54.2" y="90.2" width="296" height="2.5" fill="url(#clipA43)"/>
<rect x="54.2" y="92.2" width="296" height="2.5" fill="url(#clipA44)"/>
<rect x="54.2" y="94.2" width="296" height="2.5" fill="url(#clipA45)"/>
<rect x="54.2" y="96.2" width="296" height="2.5" fill="url(#clipA46)"/>
<rect x="54.2" y="98.2" width="296" height="2.5" fill="url(#clipA47)"/>
<rect x="54.2" y="100.2" width="296" height="2.5" fill="url(#clipA48)"/>
<rect x="54.2" y="102.2" width="296" height="2.5" fill="url(#clipA49)"/>
<rect x="54.2" y="104.2" width="296" height="2.5" fill="url(#clipA50)"/>
<rect x="54.2" y="106.2" width="296" height="2.5" fill="url(#clipA51)"/>
<rect x="54.2" y="108.2" width="296" height="2.5" fill="url(#clipA52)"/>
<rect x="54.2" y="110.2" width="296" height="2.5" fill="url(#clipA53)"/>
<rect x="54.2" y="112.2" width="296" height="2.5" fill="url(#clipA54)"/>
<rect x="54.2" y="114.2" width="296" height="2.5" fill="url(#clipA55)"/>
<rect x="54.2" y="116.2" width="296" height="2.5" fill="url(#clipA56)"/>
<rect x="54.2" y="118.2" width="296" height="2.5" fill="url(#clipA57)"/>
<rect x="54.2" y="120.2" width="296" height="2.5" fill="url(#clipA58)"/>
<rect x="54.2" y="122.2" width="296" height="2.5" fill="url(#clipA59)"/>
<rect x="54.2" y="124.2" width="296" height="2.5" fill="url(#clipA60)"/>
<rect x="54.2" y="126.2" width="296" height="2.5" fill="url(#clipA61)"/>
<rect x="54.2" y="128.2" width="296" height="2.5" fill="url(#clipA62)"/>
<rect x="54.2" y="130.2" width="296" height="2.5" fill="url(#clipA63)"/>
<rect x="54.2" y="132.2" width="296" height="2.5" fill="url(#clipA64)"/>
<rect x="54.2" y="134.2" width="296" height="2.5" fill="url(#clipA65)"/>
<rect x="54.2" y="136.2" width="296" height="2.5" fill="url(#clipA66)"/>
<rect x="54.2" y="138.2" width="296" height="2.5" fill="url(#clipA67)"/>
<rect x="54.2" y="140.2" width="296" height="2.5" fill="url(#clipA68)"/>
<rect x="54.2" y="142.2" width="296" height="2.5" fill="url(#clipA69)"/>
<rect x="54.2" y="144.2" width="296" height="2.5" fill="url(#clipA70)"/>
<rect x="54.2" y="146.2" width="296" height="2.5" fill="url(#clipA71)"/>
<rect x="54.2" y="148.2" width="296" height="2.5" fill="url(#clipA72)"/>
<rect x="54.2" y="150.2" width="296" height="2.5" fill="url(#clipA73)"/>
<rect x="54.2" y="152.2" width="296" height="2.5" fill="url(#clipA74)"/>
<rect x="54.2" y="154.2" width="296" height="2.5" fill="url(#clipA75)"/>
<rect x="54.2" y="156.2" width="296" height="2.5" fill="url(#clipA76)"/>
<rect x="54.2" y="158.2" width="296" height="2.5" fill="url(#clipA77)"/>
<rect x="54.2" y="160.2" width="296" height="2.5" fill="url(#clipA78)"/>
<rect x="54.2" y="162.2" width="296" height="2.5" fill="url(#clipA79)"/>
<rect x="54.2" y="164.2" width="296" height="2.5" fill="url(#clipA80)"/>
<rect x="54.2" y="166.2" width="296" height="2.5" fill="url(#clipA81)"/>
<rect x="54.2" y="168.2" width="296" height="2.5" fill="url(#clipA82)"/>
<rect x="54.2" y="170.2" width="296" height="2.5" fill="url(#clipA83)"/>
<rect x="54.2" y="172.2" width="296" height="2.5" fill="url(#clipA84)"/>
<rect x="54.2" y="174.2" width="296" height="2.5" fill="url(#clipA85)"/>
<rect x="54.2" y="176.2" width="296" height="2.5" fill="url(#clipA86)"/>
<rect x="54.2" y="178.2" width="296" height="2.5" fill="url(#clipA87)"/>
<rect x="54.2" y="180.2" width="296" height="2.5" fill="url(#clipA88)"/>
<rect x="54.2" y="182.2" width="296" height="2.5" fill="url(#clipA89)"/>
<rect x="54.2" y="184.2" width="296" height="2.5" fill="url(#clipA90)"/>
<rect x="54.2" y="186.2" width="296" height="2.5" fill="url(#clipA91)"/>
<rect x="54.2" y="188.2" width="296" height="2.5" fill="url(#clipA92)"/>
<rect x="54.2" y="190.2" width="296" height="2.5" fill="url(#clipA93)"/>
<rect x="54.2" y="192.2" width="296" height="2.5" fill="url(#clipA94)"/>
</g></g><g clip-path="url(#clipA)" filter="url(#bS)">
<rect x="242.19" y="77.48" width="102.77" height="1.2" fill="#1f5a2a" opacity="0.08"/>
<rect x="131.02" y="58.05" width="134.51" height="1" fill="#ffffff" opacity="0.03"/>
<rect x="267.02" y="66.45" width="41.79" height="1" fill="#ffffff" opacity="0.06"/>
<rect x="168.54" y="115.39" width="115.01" height="1.2" fill="#ffffff" opacity="0.02"/>
<rect x="292.56" y="48.67" width="34.63" height="1" fill="#1f5a2a" opacity="0.01"/>
<rect x="136.34" y="76.6" width="139.52" height="1.2" fill="#1f5a2a" opacity="0.08"/>
<rect x="126.32" y="50.29" width="115.12" height="0.8" fill="#1f5a2a" opacity="0.01"/>
<rect x="100.7" y="96.38" width="70.99" height="0.8" fill="#ffffff" opacity="0.06"/>
<rect x="112.59" y="73.63" width="140.06" height="0.8" fill="#1f5a2a" opacity="0.11"/>
<rect x="52.91" y="59.8" width="150.52" height="1" fill="#1f5a2a" opacity="0.07"/>
<rect x="203.93" y="49.4" width="111.83" height="1" fill="#ffffff" opacity="0"/>
<rect x="259.86" y="45.12" width="83.31" height="0.8" fill="#1f5a2a" opacity="0"/>
<rect x="76.78" y="48.43" width="133.61" height="0.8" fill="#1f5a2a" opacity="0.04"/>
<rect x="122.58" y="116.91" width="130.04" height="0.8" fill="#1f5a2a" opacity="0.04"/>
<rect x="214.45" y="44.03" width="142.36" height="0.8" fill="#1f5a2a" opacity="0"/>
<rect x="245.61" y="59.59" width="81.26" height="0.8" fill="#ffffff" opacity="0.04"/>
<rect x="240.02" y="59.78" width="63.58" height="0.8" fill="#ffffff" opacity="0.03"/>
<rect x="209.63" y="49.5" width="57.14" height="1.2" fill="#1f5a2a" opacity="0"/>
<rect x="122.71" y="77.54" width="154.69" height="0.8" fill="#1f5a2a" opacity="0.08"/>
<rect x="100.52" y="90.42" width="70.41" height="0.8" fill="#1f5a2a" opacity="0.08"/>
<rect x="76.59" y="98.72" width="152.25" height="1.2" fill="#1f5a2a" opacity="0.14"/>
<rect x="74.82" y="49.81" width="36.16" height="1.2" fill="#ffffff" opacity="0.04"/>
<rect x="253.09" y="96.14" width="63.41" height="0.8" fill="#ffffff" opacity="0.08"/>
<rect x="64.42" y="112.76" width="157.03" height="1.2" fill="#1f5a2a" opacity="0.08"/>
<rect x="274.06" y="89.46" width="66.43" height="1" fill="#ffffff" opacity="0.05"/>
<rect x="56.06" y="74.45" width="62.38" height="0.8" fill="#1f5a2a" opacity="0.06"/>
<rect x="165.35" y="50.82" width="47.99" height="1.2" fill="#1f5a2a" opacity="0.01"/>
<rect x="53.63" y="87.25" width="48.25" height="1.2" fill="#1f5a2a" opacity="0.04"/>
<rect x="213.32" y="67.07" width="34.36" height="1" fill="#ffffff" opacity="0.03"/>
<rect x="56.02" y="67.6" width="159.92" height="1.2" fill="#1f5a2a" opacity="0.08"/>
<rect x="304.47" y="98.55" width="46.84" height="1" fill="#ffffff" opacity="0.06"/>
<rect x="116.68" y="110.66" width="143.24" height="1.2" fill="#1f5a2a" opacity="0.12"/>
<rect x="120.38" y="45.08" width="116.09" height="0.8" fill="#ffffff" opacity="0"/>
<rect x="183.09" y="91.32" width="159.13" height="1.2" fill="#1f5a2a" opacity="0.12"/>
<rect x="149.44" y="95.37" width="89.51" height="1.2" fill="#1f5a2a" opacity="0.1"/>
<rect x="144.64" y="46.2" width="108.17" height="1" fill="#1f5a2a" opacity="0"/>
<rect x="142.03" y="101.72" width="115.82" height="0.8" fill="#1f5a2a" opacity="0.13"/>
<rect x="88.41" y="94.18" width="56.33" height="1" fill="#1f5a2a" opacity="0.11"/>
<rect x="147.66" y="80.88" width="61.39" height="0.8" fill="#1f5a2a" opacity="0.06"/>
<rect x="182.41" y="109.14" width="79.97" height="1" fill="#ffffff" opacity="0.06"/>
<rect x="51.12" y="69.96" width="146.43" height="0.8" fill="#1f5a2a" opacity="0.05"/>
<rect x="253.16" y="52.35" width="91.28" height="1.2" fill="#1f5a2a" opacity="0.02"/>
<rect x="250.62" y="80.55" width="71" height="0.8" fill="#1f5a2a" opacity="0.11"/>
<rect x="196.6" y="105.33" width="66.16" height="1" fill="#ffffff" opacity="0.09"/>
<rect x="47.72" y="66.87" width="132.9" height="0.8" fill="#1f5a2a" opacity="0.06"/>
<rect x="240.86" y="100.92" width="64.63" height="0.8" fill="#1f5a2a" opacity="0.12"/>
<rect x="178.55" y="77.04" width="111.9" height="1.2" fill="#1f5a2a" opacity="0.1"/>
<rect x="90.26" y="58.66" width="137.1" height="1.2" fill="#1f5a2a" opacity="0.07"/>
<rect x="116.02" y="96.85" width="53.28" height="1.2" fill="#1f5a2a" opacity="0.08"/>
<rect x="69.26" y="81.03" width="159.59" height="0.8" fill="#1f5a2a" opacity="0.08"/>
<rect x="163.94" y="50.45" width="151.24" height="1.2" fill="#1f5a2a" opacity="0.01"/>
<rect x="201.57" y="109.66" width="30.87" height="1" fill="#1f5a2a" opacity="0.11"/>
<rect x="85.66" y="78.31" width="114.67" height="1.2" fill="#1f5a2a" opacity="0.07"/>
<rect x="109.85" y="112.39" width="46.05" height="1" fill="#ffffff" opacity="0.07"/>
<rect x="103.22" y="83.73" width="132.8" height="1" fill="#1f5a2a" opacity="0.12"/>
<rect x="140.72" y="81.35" width="34.83" height="0.8" fill="#ffffff" opacity="0.05"/>
<rect x="118.93" y="60.15" width="142.78" height="1.2" fill="#1f5a2a" opacity="0.02"/>
<rect x="84.15" y="102.31" width="48.27" height="1.2" fill="#1f5a2a" opacity="0.1"/>
<rect x="125.01" y="95.01" width="152.95" height="0.8" fill="#ffffff" opacity="0.11"/>
<rect x="222.37" y="76.52" width="102.64" height="1.2" fill="#ffffff" opacity="0.06"/>
<rect x="110.97" y="106.43" width="102.8" height="1.2" fill="#1f5a2a" opacity="0.08"/>
<rect x="215.03" y="59.41" width="140.6" height="0.8" fill="#1f5a2a" opacity="0.04"/>
<rect x="45.54" y="74.42" width="44.86" height="0.8" fill="#1f5a2a" opacity="0.06"/>
<rect x="232.39" y="82.19" width="82.08" height="1.2" fill="#1f5a2a" opacity="0.09"/>
<rect x="120.38" y="56.34" width="151.01" height="1" fill="#1f5a2a" opacity="0.02"/>
<rect x="72.83" y="63.92" width="91.51" height="1" fill="#1f5a2a" opacity="0.08"/>
<rect x="158.68" y="82.85" width="44.12" height="1.2" fill="#ffffff" opacity="0.03"/>
<rect x="99.33" y="101.67" width="32.96" height="1" fill="#1f5a2a" opacity="0.07"/>
<rect x="171.51" y="97.55" width="61.78" height="1.2" fill="#1f5a2a" opacity="0.09"/>
<rect x="180.05" y="90.14" width="123.3" height="1.2" fill="#ffffff" opacity="0.1"/>
</g>
<defs><linearGradient id="clipB3" gradientUnits="userSpaceOnUse" x1="54.2" y1="0" x2="349.2" y2="0"><stop offset="0" stop-color="#f4fbf2"/><stop offset="0.03" stop-color="#f4fbf2"/><stop offset="0.05" stop-color="#f3fbf2"/><stop offset="0.12" stop-color="#f3fbf2"/><stop offset="0.14" stop-color="#f4fbf2"/><stop offset="1" stop-color="#f4fbf2"/></linearGradient><linearGradient id="clipB5" gradientUnits="userSpaceOnUse" x1="54.2" y1="0" x2="349.2" y2="0"><stop offset="0" stop-color="#f4fcf3"/><stop offset="0.03" stop-color="#f4fcf3"/><stop offset="0.05" stop-color="#f4fbf2"/><stop offset="0.12" stop-color="#f4fbf2"/><stop offset="0.14" stop-color="#f4fcf3"/><stop offset="1" stop-color="#f4fcf3"/></linearGradient><linearGradient id="clipB6" gradientUnits="userSpaceOnUse" x1="54.2" y1="0" x2="349.2" y2="0"><stop offset="0" stop-color="#f4fcf3"/><stop offset="0.03" stop-color="#f4fcf3"/><stop offset="0.05" stop-color="#f4fbf2"/><stop offset="0.12" stop-color="#f4fbf2"/><stop offset="0.14" stop-color="#f4fcf3"/><stop offset="1" stop-color="#f4fcf3"/></linearGradient><linearGradient id="clipB7" gradientUnits="userSpaceOnUse" x1="54.2" y1="0" x2="349.2" y2="0"><stop offset="0" stop-color="#f4fcf3"/><stop offset="0.03" stop-color="#f4fcf3"/><stop offset="0.05" stop-color="#f3fbf2"/><stop offset="0.12" stop-color="#f3fbf2"/><stop offset="0.14" stop-color="#f4fcf3"/><stop offset="1" stop-color="#f4fcf3"/></linearGradient><linearGradient id="clipB8" gradientUnits="userSpaceOnUse" x1="54.2" y1="0" x2="349.2" y2="0"><stop offset="0" stop-color="#f4fbf2"/><stop offset="0.03" stop-color="#f4fbf2"/><stop offset="0.05" stop-color="#f3fbf1"/><stop offset="0.12" stop-color="#f3fbf1"/><stop offset="0.14" stop-color="#f3fbf2"/><stop offset="0.15" stop-color="#f4fbf2"/><stop offset="1" stop-color="#f4fbf2"/></linearGradient><linearGradient id="clipB9" gradientUnits="userSpaceOnUse" x1="54.2" y1="0" x2="349.2" y2="0"><stop offset="0" stop-color="#f4fcf3"/><stop offset="0.02" stop-color="#f4fcf3"/><stop offset="0.03" stop-color="#f4fbf2"/><stop offset="0.05" stop-color="#f3fbf1"/><stop offset="0.12" stop-color="#f3fbf1"/><stop offset="0.14" stop-color="#f4fbf2"/><stop offset="0.15" stop-color="#f4fcf3"/><stop offset="1" stop-color="#f4fcf3"/></linearGradient><linearGradient id="clipB10" gradientUnits="userSpaceOnUse" x1="54.2" y1="0" x2="349.2" y2="0"><stop offset="0" stop-color="#f4fbf2"/><stop offset="0.03" stop-color="#f4fbf2"/><stop offset="0.05" stop-color="#f3fbf1"/><stop offset="0.12" stop-color="#f3fbf1"/><stop offset="0.14" stop-color="#f4fbf2"/><stop offset="1" stop-color="#f4fbf2"/></linearGradient><linearGradient id="clipB11" gradientUnits="userSpaceOnUse" x1="54.2" y1="0" x2="349.2" y2="0"><stop offset="0" stop-color="#f4fcf3"/><stop offset="0.02" stop-color="#f4fcf3"/><stop offset="0.03" stop-color="#f4fbf2"/><stop offset="0.05" stop-color="#f3fbf1"/><stop offset="0.12" stop-color="#f3fbf1"/><stop offset="0.14" stop-color="#f4fbf2"/><stop offset="0.15" stop-color="#f4fcf3"/><stop offset="1" stop-color="#f4fcf3"/></linearGradient><linearGradient id="clipB12" gradientUnits="userSpaceOnUse" x1="54.2" y1="0" x2="349.2" y2="0"><stop offset="0" stop-color="#f4fcf3"/><stop offset="0.03" stop-color="#f4fcf3"/><stop offset="0.05" stop-color="#f2fbf1"/><stop offset="0.12" stop-color="#f2fbf1"/><stop offset="0.14" stop-color="#f4fbf2"/><stop offset="0.15" stop-color="#f4fcf3"/><stop offset="1" stop-color="#f4fcf3"/></linearGradient><linearGradient id="clipB13" gradientUnits="userSpaceOnUse" x1="54.2" y1="0" x2="349.2" y2="0"><stop offset="0" stop-color="#f4fcf3"/><stop offset="0.03" stop-color="#f4fcf3"/><stop offset="0.05" stop-color="#f2fbf0"/><stop offset="0.12" stop-color="#f2fbf0"/><stop offset="0.14" stop-color="#f4fbf2"/><stop offset="0.15" stop-color="#f4fcf3"/><stop offset="1" stop-color="#f4fcf3"/></linearGradient><linearGradient id="clipB14" gradientUnits="userSpaceOnUse" x1="54.2" y1="0" x2="349.2" y2="0"><stop offset="0" stop-color="#f4fbf2"/><stop offset="0.03" stop-color="#f4fbf2"/><stop offset="0.05" stop-color="#f2faef"/><stop offset="0.12" stop-color="#f2faef"/><stop offset="0.14" stop-color="#f3fbf2"/><stop offset="0.15" stop-color="#f4fbf2"/><stop offset="1" stop-color="#f4fbf2"/></linearGradient><linearGradient id="clipB15" gradientUnits="userSpaceOnUse" x1="54.2" y1="0" x2="349.2" y2="0"><stop offset="0" stop-color="#f4fcf3"/><stop offset="0.02" stop-color="#f4fcf3"/><stop offset="0.03" stop-color="#f4fbf2"/><stop offset="0.05" stop-color="#f2fbf0"/><stop offset="0.12" stop-color="#f2fbf0"/><stop offset="0.14" stop-color="#f4fbf2"/><stop offset="0.15" stop-color="#f4fcf3"/><stop offset="0.59" stop-color="#f4fcf3"/><stop offset="0.61" stop-color="#f4fbf2"/><stop offset="0.63" stop-color="#f4fcf3"/><stop offset="1" stop-color="#f4fcf3"/></linearGradient><linearGradient id="clipB16" gradientUnits="userSpaceOnUse" x1="54.2" y1="0" x2="349.2" y2="0"><stop offset="0" stop-color="#f4fcf3"/><stop offset="0.02" stop-color="#f4fcf3"/><stop offset="0.03" stop-color="#f4fbf2"/><stop offset="0.05" stop-color="#f2faef"/><stop offset="0.12" stop-color="#f2faef"/><stop offset="0.14" stop-color="#f4fbf2"/><stop offset="0.15" stop-color="#f4fcf3"/><stop offset="0.56" stop-color="#f4fcf3"/><stop offset="0.58" stop-color="#f4fbf2"/><stop offset="0.63" stop-color="#f4fbf2"/><stop offset="0.64" stop-color="#f4fcf3"/><stop offset="1" stop-color="#f4fcf3"/></linearGradient><linearGradient id="clipB17" gradientUnits="userSpaceOnUse" x1="54.2" y1="0" x2="349.2" y2="0"><stop offset="0" stop-color="#f4fcf3"/><stop offset="0.02" stop-color="#f4fcf3"/><stop offset="0.03" stop-color="#f4fbf2"/><stop offset="0.05" stop-color="#f1faef"/><stop offset="0.12" stop-color="#f1faef"/><stop offset="0.14" stop-color="#f3fbf2"/><stop offset="0.15" stop-color="#f4fcf3"/><stop offset="0.53" stop-color="#f4fcf3"/><stop offset="0.54" stop-color="#f4fbf2"/><stop offset="0.59" stop-color="#f4fbf2"/><stop offset="0.61" stop-color="#f3fbf2"/><stop offset="0.63" stop-color="#f4fbf2"/><stop offset="0.68" stop-color="#f4fbf2"/><stop offset="0.69" stop-color="#f4fcf3"/><stop offset="1" stop-color="#f4fcf3"/></linearGradient><linearGradient id="clipB18" gradientUnits="userSpaceOnUse" x1="54.2" y1="0" x2="349.2" y2="0"><stop offset="0" stop-color="#f4fbf2"/><stop offset="0.02" stop-color="#f4fbf2"/><stop offset="0.03" stop-color="#f3fbf2"/><stop offset="0.05" stop-color="#f0faee"/><stop offset="0.12" stop-color="#f0faee"/><stop offset="0.14" stop-color="#f3fbf1"/><stop offset="0.15" stop-color="#f4fbf2"/><stop offset="0.54" stop-color="#f4fbf2"/><stop offset="0.56" stop-color="#f3fbf2"/><stop offset="0.58" stop-color="#f3fbf2"/><stop offset="0.59" stop-color="#f3fbf1"/><stop offset="0.63" stop-color="#f3fbf1"/><stop offset="0.64" stop-color="#f3fbf2"/><stop offset="0.66" stop-color="#f3fbf2"/><stop offset="0.68" stop-color="#f4fbf2"/><stop offset="1" stop-color="#f4fbf2"/></linearGradient><linearGradient id="clipB19" gradientUnits="userSpaceOnUse" x1="54.2" y1="0" x2="349.2" y2="0"><stop offset="0" stop-color="#f4fcf3"/><stop offset="0.03" stop-color="#f4fcf3"/><stop offset="0.05" stop-color="#f1faef"/><stop offset="0.12" stop-color="#f1faef"/><stop offset="0.14" stop-color="#f4fbf2"/><stop offset="0.15" stop-color="#f4fcf3"/><stop offset="0.56" stop-color="#f4fcf3"/><stop offset="0.58" stop-color="#f4fbf2"/><stop offset="0.59" stop-color="#f3fbf2"/><stop offset="0.63" stop-color="#f3fbf2"/><stop offset="0.64" stop-color="#f4fbf2"/><stop offset="0.66" stop-color="#f4fcf3"/><stop offset="1" stop-color="#f4fcf3"/></linearGradient><linearGradient id="clipB20" gradientUnits="userSpaceOnUse" x1="54.2" y1="0" x2="349.2" y2="0"><stop offset="0" stop-color="#f4fbf2"/><stop offset="0.02" stop-color="#f4fbf2"/><stop offset="0.03" stop-color="#f3fbf2"/><stop offset="0.05" stop-color="#f0faee"/><stop offset="0.12" stop-color="#f0faee"/><stop offset="0.14" stop-color="#f3fbf1"/><stop offset="0.15" stop-color="#f4fbf2"/><stop offset="0.54" stop-color="#f4fbf2"/><stop offset="0.56" stop-color="#f3fbf2"/><stop offset="0.58" stop-color="#f3fbf1"/><stop offset="0.59" stop-color="#f2fbf0"/><stop offset="0.63" stop-color="#f2fbf0"/><stop offset="0.64" stop-color="#f3fbf1"/><stop offset="0.66" stop-color="#f3fbf2"/><stop offset="0.68" stop-color="#f4fbf2"/><stop offset="1" stop-color="#f4fbf2"/></linearGradient><linearGradient id="clipB21" gradientUnits="userSpaceOnUse" x1="54.2" y1="0" x2="349.2" y2="0"><stop offset="0" stop-color="#f4fcf3"/><stop offset="0.02" stop-color="#f4fcf3"/><stop offset="0.03" stop-color="#f4fbf2"/><stop offset="0.05" stop-color="#f0faee"/><stop offset="0.12" stop-color="#f0faee"/><stop offset="0.14" stop-color="#f3fbf1"/><stop offset="0.15" stop-color="#f4fcf3"/><stop offset="0.25" stop-color="#f4fcf3"/><stop offset="0.27" stop-color="#f4fbf2"/><stop offset="0.36" stop-color="#f4fbf2"/><stop offset="0.37" stop-color="#f4fcf3"/><stop offset="0.51" stop-color="#f4fcf3"/><stop offset="0.53" stop-color="#f4fbf2"/><stop offset="0.54" stop-color="#f4fbf2"/><stop offset="0.56" stop-color="#f3fbf2"/><stop offset="0.58" stop-color="#f3fbf1"/><stop offset="0.59" stop-color="#f2fbf0"/><stop offset="0.63" stop-color="#f2fbf0"/><stop offset="0.64" stop-color="#f3fbf1"/><stop offset="0.66" stop-color="#f3fbf2"/><stop offset="0.68" stop-color="#f4fbf2"/><stop offset="0.69" stop-color="#f4fbf2"/><stop offset="0.71" stop-color="#f4fcf3"/><stop offset="1" stop-color="#f4fcf3"/></linearGradient><linearGradient id="clipB22" gradientUnits="userSpaceOnUse" x1="54.2" y1="0" x2="349.2" y2="0"><stop offset="0" stop-color="#f4fcf3"/><stop offset="0.03" stop-color="#f4fcf3"/><stop offset="0.05" stop-color="#f1faee"/><stop offset="0.12" stop-color="#f1faee"/><stop offset="0.14" stop-color="#f4fbf2"/><stop offset="0.15" stop-color="#f4fcf3"/><stop offset="0.54" stop-color="#f4fcf3"/><stop offset="0.56" stop-color="#f4fbf2"/><stop offset="0.58" stop-color="#f3fbf1"/><stop offset="0.59" stop-color="#f2fbf0"/><stop offset="0.61" stop-color="#f1faef"/><stop offset="0.63" stop-color="#f2fbf0"/><stop offset="0.64" stop-color="#f3fbf1"/><stop offset="0.66" stop-color="#f4fbf2"/><stop offset="0.68" stop-color="#f4fcf3"/><stop offset="1" stop-color="#f4fcf3"/></linearGradient><linearGradient id="clipB23" gradientUnits="userSpaceOnUse" x1="54.2" y1="0" x2="349.2" y2="0"><stop offset="0" stop-color="#f4fbf2"/><stop offset="0.02" stop-color="#f4fbf2"/><stop offset="0.03" stop-color="#f3fbf1"/><stop offset="0.05" stop-color="#eff9ec"/><stop offset="0.12" stop-color="#eff9ec"/><stop offset="0.14" stop-color="#f3fbf1"/><stop offset="0.15" stop-color="#f4fbf2"/><stop offset="0.25" stop-color="#f4fbf2"/><stop offset="0.27" stop-color="#f3fbf2"/><stop offset="0.36" stop-color="#f3fbf2"/><stop offset="0.37" stop-color="#f4fbf2"/><stop offset="0.47" stop-color="#f4fbf2"/><stop offset="0.49" stop-color="#f3fbf1"/><stop offset="0.53" stop-color="#f3fbf1"/><stop offset="0.54" stop-color="#f2fbf0"/><stop offset="0.56" stop-color="#f2fbf0"/><stop offset="0.58" stop-color="#f0faee"/><stop offset="0.59" stop-color="#eff9ec"/><stop offset="0.63" stop-color="#eff9ec"/><stop offset="0.64" stop-color="#f1faee"/><stop offset="0.66" stop-color="#f2fbf1"/><stop offset="0.68" stop-color="#f3fbf2"/><stop offset="0.69" stop-color="#f4fbf2"/><stop offset="1" stop-color="#f4fbf2"/></linearGradient><linearGradient id="clipB24" gradientUnits="userSpaceOnUse" x1="54.2" y1="0" x2="349.2" y2="0"><stop offset="0" stop-color="#f4fbf2"/><stop offset="0.02" stop-color="#f4fbf2"/><stop offset="0.03" stop-color="#f3fbf2"/><stop offset="0.05" stop-color="#eff9ec"/><stop offset="0.12" stop-color="#eff9ec"/><stop offset="0.14" stop-color="#f3fbf1"/><stop offset="0.15" stop-color="#f4fbf2"/><stop offset="0.25" stop-color="#f4fbf2"/><stop offset="0.27" stop-color="#f3fbf1"/><stop offset="0.34" stop-color="#f3fbf1"/><stop offset="0.36" stop-color="#f3fbf2"/><stop offset="0.37" stop-color="#f4fbf2"/><stop offset="0.46" stop-color="#f4fbf2"/><stop offset="0.47" stop-color="#f3fbf2"/><stop offset="0.49" stop-color="#f2fbf0"/><stop offset="0.51" stop-color="#f1faef"/><stop offset="0.54" stop-color="#f1faef"/><stop offset="0.56" stop-color="#f0faed"/><stop offset="0.58" stop-color="#eef9eb"/><stop offset="0.59" stop-color="#ecf8e9"/><stop offset="0.61" stop-color="#ebf8e7"/><stop offset="0.63" stop-color="#ecf8e9"/><stop offset="0.64" stop-color="#eff9ec"/><stop offset="0.66" stop-color="#f2fbf0"/><stop offset="0.68" stop-color="#f3fbf2"/><stop offset="0.69" stop-color="#f4fbf2"/><stop offset="1" stop-color="#f4fbf2"/></linearGradient><linearGradient id="clipB25" gradientUnits="userSpaceOnUse" x1="54.2" y1="0" x2="349.2" y2="0"><stop offset="0" stop-color="#f4fcf3"/><stop offset="0.02" stop-color="#f4fcf3"/><stop offset="0.03" stop-color="#f4fbf2"/><stop offset="0.05" stop-color="#f0faed"/><stop offset="0.12" stop-color="#f0faed"/><stop offset="0.14" stop-color="#f3fbf2"/><stop offset="0.15" stop-color="#f4fcf3"/><stop offset="0.25" stop-color="#f4fcf3"/><stop offset="0.27" stop-color="#f3fbf2"/><stop offset="0.34" stop-color="#f3fbf2"/><stop offset="0.36" stop-color="#f4fbf2"/><stop offset="0.37" stop-color="#f4fcf3"/><stop offset="0.46" stop-color="#f4fcf3"/><stop offset="0.47" stop-color="#f4fbf2"/><stop offset="0.49" stop-color="#f2faef"/><stop offset="0.51" stop-color="#f0faee"/><stop offset="0.53" stop-color="#f0faed"/><stop offset="0.54" stop-color="#f0faed"/><stop offset="0.56" stop-color="#eff9ec"/><stop offset="0.58" stop-color="#ecf8e9"/><stop offset="0.59" stop-color="#e9f7e5"/><stop offset="0.61" stop-color="#e7f7e4"/><stop offset="0.63" stop-color="#e9f7e5"/><stop offset="0.64" stop-color="#edf9ea"/><stop offset="0.66" stop-color="#f2fbf0"/><stop offset="0.68" stop-color="#f4fbf2"/><stop offset="0.69" stop-color="#f4fcf3"/><stop offset="1" stop-color="#f4fcf3"/></linearGradient><linearGradient id="clipB26" gradientUnits="userSpaceOnUse" x1="54.2" y1="0" x2="349.2" y2="0"><stop offset="0" stop-color="#f4fcf3"/><stop offset="0.02" stop-color="#f4fcf3"/><stop offset="0.03" stop-color="#f4fbf2"/><stop offset="0.05" stop-color="#f0faed"/><stop offset="0.12" stop-color="#f0faed"/><stop offset="0.14" stop-color="#f3fbf2"/><stop offset="0.15" stop-color="#f4fcf3"/><stop offset="0.25" stop-color="#f4fcf3"/><stop offset="0.27" stop-color="#f3fbf2"/><stop offset="0.34" stop-color="#f3fbf2"/><stop offset="0.36" stop-color="#f4fbf2"/><stop offset="0.37" stop-color="#f4fcf3"/><stop offset="0.46" stop-color="#f4fcf3"/><stop offset="0.47" stop-color="#f4fbf2"/><stop offset="0.49" stop-color="#f0faee"/><stop offset="0.51" stop-color="#eef9eb"/><stop offset="0.53" stop-color="#eef9eb"/><stop offset="0.54" stop-color="#edf9ea"/><stop offset="0.56" stop-color="#ebf8e8"/><stop offset="0.58" stop-color="#e7f7e4"/><stop offset="0.59" stop-color="#e3f5df"/><stop offset="0.61" stop-color="#e2f5de"/><stop offset="0.63" stop-color="#e4f5e0"/><stop offset="0.64" stop-color="#e9f7e6"/><stop offset="0.66" stop-color="#f1faef"/><stop offset="0.68" stop-color="#f4fbf2"/><stop offset="0.69" stop-color="#f4fcf3"/><stop offset="1" stop-color="#f4fcf3"/></linearGradient><linearGradient id="clipB27" gradientUnits="userSpaceOnUse" x1="54.2" y1="0" x2="349.2" y2="0"><stop offset="0" stop-color="#f4fbf2"/><stop offset="0.02" stop-color="#f4fbf2"/><stop offset="0.03" stop-color="#f3fbf2"/><stop offset="0.05" stop-color="#eff9ec"/><stop offset="0.12" stop-color="#eff9ec"/><stop offset="0.14" stop-color="#f3fbf1"/><stop offset="0.15" stop-color="#f4fbf2"/><stop offset="0.25" stop-color="#f4fbf2"/><stop offset="0.27" stop-color="#f2fbf1"/><stop offset="0.34" stop-color="#f2fbf1"/><stop offset="0.36" stop-color="#f3fbf2"/><stop offset="0.37" stop-color="#f4fbf2"/><stop offset="0.39" stop-color="#f4fbf2"/><stop offset="0.41" stop-color="#f3fbf2"/><stop offset="0.44" stop-color="#f3fbf2"/><stop offset="0.46" stop-color="#f4fbf2"/><stop offset="0.47" stop-color="#f3fbf1"/><stop offset="0.49" stop-color="#eef9eb"/><stop offset="0.51" stop-color="#e8f7e4"/><stop offset="0.53" stop-color="#e8f7e4"/><stop offset="0.54" stop-color="#e7f6e3"/><stop offset="0.56" stop-color="#e4f5e0"/><stop offset="0.58" stop-color="#dff4db"/><stop offset="0.59" stop-color="#daf2d5"/><stop offset="0.61" stop-color="#d8f1d3"/><stop offset="0.63" stop-color="#dbf2d6"/><stop offset="0.64" stop-color="#e3f5de"/><stop offset="0.66" stop-color="#effaed"/><stop offset="0.68" stop-color="#f3fbf1"/><stop offset="0.69" stop-color="#f4fbf2"/><stop offset="1" stop-color="#f4fbf2"/></linearGradient><linearGradient id="clipB28" gradientUnits="userSpaceOnUse" x1="54.2" y1="0" x2="349.2" y2="0"><stop offset="0" stop-color="#f4fbf2"/><stop offset="0.02" stop-color="#f4fbf2"/><stop offset="0.03" stop-color="#f3fbf2"/><stop offset="0.05" stop-color="#eff9ec"/><stop offset="0.12" stop-color="#eff9ec"/><stop offset="0.14" stop-color="#f3fbf1"/><stop offset="0.15" stop-color="#f4fbf2"/><stop offset="0.25" stop-color="#f4fbf2"/><stop offset="0.27" stop-color="#f2fbf0"/><stop offset="0.34" stop-color="#f2fbf0"/><stop offset="0.36" stop-color="#f3fbf1"/><stop offset="0.37" stop-color="#f4fbf2"/><stop offset="0.39" stop-color="#f3fbf2"/><stop offset="0.41" stop-color="#f3fbf1"/><stop offset="0.44" stop-color="#f3fbf1"/><stop offset="0.46" stop-color="#f3fbf2"/><stop offset="0.47" stop-color="#f3fbf1"/><stop offset="0.49" stop-color="#eaf8e7"/><stop offset="0.51" stop-color="#e3f5df"/><stop offset="0.53" stop-color="#e3f5df"/><stop offset="0.54" stop-color="#e1f5dd"/><stop offset="0.56" stop-color="#def4da"/><stop offset="0.58" stop-color="#d8f1d3"/><stop offset="0.59" stop-color="#d1eecb"/><stop offset="0.61" stop-color="#ceedc8"/><stop offset="0.63" stop-color="#d1eecc"/><stop offset="0.64" stop-color="#ddf3d8"/><stop offset="0.66" stop-color="#eef9eb"/><stop offset="0.68" stop-color="#f3fbf1"/><stop offset="0.69" stop-color="#f4fbf2"/><stop offset="1" stop-color="#f4fbf2"/></linearGradient><linearGradient id="clipB29" gradientUnits="userSpaceOnUse" x1="54.2" y1="0" x2="349.2" y2="0"><stop offset="0" stop-color="#f4fbf2"/><stop offset="0.02" stop-color="#f4fbf2"/><stop offset="0.03" stop-color="#f3fbf2"/><stop offset="0.05" stop-color="#eff9ec"/><stop offset="0.12" stop-color="#eff9ec"/><stop offset="0.14" stop-color="#f3fbf1"/><stop offset="0.15" stop-color="#f4fbf2"/><stop offset="0.25" stop-color="#f4fbf2"/><stop offset="0.27" stop-color="#f2fbf0"/><stop offset="0.34" stop-color="#f2fbf0"/><stop offset="0.36" stop-color="#f3fbf1"/><stop offset="0.37" stop-color="#f3fbf2"/><stop offset="0.39" stop-color="#f3fbf1"/><stop offset="0.41" stop-color="#f2fbf0"/><stop offset="0.44" stop-color="#f2fbf0"/><stop offset="0.46" stop-color="#f3fbf1"/><stop offset="0.47" stop-color="#f2fbf0"/><stop offset="0.49" stop-color="#e7f6e3"/><stop offset="0.51" stop-color="#def3d9"/><stop offset="0.53" stop-color="#ddf3d9"/><stop offset="0.54" stop-color="#dcf3d7"/><stop offset="0.56" stop-color="#d8f1d3"/><stop offset="0.58" stop-color="#cfeeca"/><stop offset="0.59" stop-color="#c7eac1"/><stop offset="0.61" stop-color="#c3e8bd"/><stop offset="0.63" stop-color="#c7eac1"/><stop offset="0.64" stop-color="#d6f0d1"/><stop offset="0.66" stop-color="#ecf8e9"/><stop offset="0.68" stop-color="#f1faef"/><stop offset="0.81" stop-color="#f1faef"/><stop offset="0.83" stop-color="#f3fbf1"/><stop offset="0.85" stop-color="#f3fbf2"/><stop offset="0.86" stop-color="#f4fbf2"/><stop offset="1" stop-color="#f4fbf2"/></linearGradient><linearGradient id="clipB30" gradientUnits="userSpaceOnUse" x1="54.2" y1="0" x2="349.2" y2="0"><stop offset="0" stop-color="#f4fbf2"/><stop offset="0.02" stop-color="#f4fbf2"/><stop offset="0.03" stop-color="#f3fbf2"/><stop offset="0.05" stop-color="#eff9ec"/><stop offset="0.12" stop-color="#eff9ec"/><stop offset="0.14" stop-color="#f3fbf1"/><stop offset="0.15" stop-color="#f4fbf2"/><stop offset="0.25" stop-color="#f4fbf2"/><stop offset="0.27" stop-color="#f2faef"/><stop offset="0.34" stop-color="#f2faef"/><stop offset="0.36" stop-color="#f3fbf1"/><stop offset="0.37" stop-color="#f3fbf2"/><stop offset="0.39" stop-color="#f3fbf1"/><stop offset="0.41" stop-color="#f1faef"/><stop offset="0.44" stop-color="#f1faef"/><stop offset="0.46" stop-color="#f3fbf1"/><stop offset="0.47" stop-color="#f2fbf0"/><stop offset="0.49" stop-color="#e4f6e0"/><stop offset="0.51" stop-color="#daf2d5"/><stop offset="0.53" stop-color="#d9f2d4"/><stop offset="0.54" stop-color="#d7f1d2"/><stop offset="0.56" stop-color="#d2efcd"/><stop offset="0.58" stop-color="#c9ebc3"/><stop offset="0.59" stop-color="#bfe7b9"/><stop offset="0.61" stop-color="#bae4b4"/><stop offset="0.63" stop-color="#c0e7ba"/><stop offset="0.64" stop-color="#d1eecb"/><stop offset="0.66" stop-color="#eaf8e6"/><stop offset="0.76" stop-color="#eaf8e6"/><stop offset="0.78" stop-color="#eaf7e6"/><stop offset="0.8" stop-color="#e9f7e5"/><stop offset="0.81" stop-color="#e9f7e6"/><stop offset="0.83" stop-color="#eef9eb"/><stop offset="0.85" stop-color="#f1faee"/><stop offset="0.86" stop-color="#f2fbf0"/><stop offset="0.88" stop-color="#f3fbf2"/><stop offset="0.9" stop-color="#f4fbf2"/><stop offset="1" stop-color="#f4fbf2"/></linearGradient><linearGradient id="clipB31" gradientUnits="userSpaceOnUse" x1="54.2" y1="0" x2="349.2" y2="0"><stop offset="0" stop-color="#f4fbf2"/><stop offset="0.02" stop-color="#f4fbf2"/><stop offset="0.03" stop-color="#f3fbf2"/><stop offset="0.05" stop-color="#eff9ec"/><stop offset="0.12" stop-color="#eff9ec"/><stop offset="0.14" stop-color="#f3fbf1"/><stop offset="0.15" stop-color="#f4fbf2"/><stop offset="0.25" stop-color="#f4fbf2"/><stop offset="0.27" stop-color="#f1faef"/><stop offset="0.34" stop-color="#f1faef"/><stop offset="0.36" stop-color="#f2fbf0"/><stop offset="0.37" stop-color="#f3fbf1"/><stop offset="0.39" stop-color="#f2faef"/><stop offset="0.41" stop-color="#f0faed"/><stop offset="0.42" stop-color="#eff9ec"/><stop offset="0.44" stop-color="#f0faee"/><stop offset="0.46" stop-color="#f2fbf0"/><stop offset="0.47" stop-color="#f1faef"/><stop offset="0.49" stop-color="#e0f4dc"/><stop offset="0.51" stop-color="#d2eecc"/><stop offset="0.53" stop-color="#d1eecc"/><stop offset="0.54" stop-color="#cfedc9"/><stop offset="0.56" stop-color="#c9ebc3"/><stop offset="0.58" stop-color="#bee6b8"/><stop offset="0.59" stop-color="#b0e0aa"/><stop offset="0.61" stop-color="#aadea4"/><stop offset="0.63" stop-color="#b1e0ab"/><stop offset="0.64" stop-color="#c7eac2"/><stop offset="0.66" stop-color="#daf2d5"/><stop offset="0.78" stop-color="#daf2d5"/><stop offset="0.8" stop-color="#d7f1d2"/><stop offset="0.81" stop-color="#d7f1d2"/><stop offset="0.83" stop-color="#e1f4dc"/><stop offset="0.85" stop-color="#e8f7e5"/><stop offset="0.86" stop-color="#eef9eb"/><stop offset="0.88" stop-color="#f0faee"/><stop offset="0.9" stop-color="#f2fbf0"/><stop offset="0.92" stop-color="#f3fbf1"/><stop offset="0.93" stop-color="#f3fbf2"/><stop offset="0.95" stop-color="#f4fbf2"/><stop offset="1" stop-color="#f4fbf2"/></linearGradient><linearGradient id="clipB32" gradientUnits="userSpaceOnUse" x1="54.2" y1="0" x2="349.2" y2="0"><stop offset="0" stop-color="#f4fbf2"/><stop offset="0.02" stop-color="#f4fbf2"/><stop offset="0.03" stop-color="#f3fbf1"/><stop offset="0.05" stop-color="#eff9ec"/><stop offset="0.12" stop-color="#eff9ec"/><stop offset="0.14" stop-color="#f3fbf1"/><stop offset="0.15" stop-color="#f4fbf2"/><stop offset="0.25" stop-color="#f4fbf2"/><stop offset="0.27" stop-color="#f0faee"/><stop offset="0.34" stop-color="#f0faee"/><stop offset="0.36" stop-color="#f2fbf0"/><stop offset="0.37" stop-color="#f3fbf1"/><stop offset="0.39" stop-color="#f1faee"/><stop offset="0.41" stop-color="#eef9ec"/><stop offset="0.42" stop-color="#edf9ea"/><stop offset="0.44" stop-color="#eff9ec"/><stop offset="0.46" stop-color="#f1faef"/><stop offset="0.47" stop-color="#f0faee"/><stop offset="0.49" stop-color="#dcf3d7"/><stop offset="0.51" stop-color="#caebc4"/><stop offset="0.53" stop-color="#c9ebc4"/><stop offset="0.54" stop-color="#c7eac1"/><stop offset="0.56" stop-color="#c0e7ba"/><stop offset="0.58" stop-color="#b2e1ac"/><stop offset="0.59" stop-color="#a2da9d"/><stop offset="0.61" stop-color="#9bd897"/><stop offset="0.63" stop-color="#a3db9e"/><stop offset="0.64" stop-color="#bfe7b9"/><stop offset="0.66" stop-color="#c2e8bc"/><stop offset="0.78" stop-color="#c2e8bc"/><stop offset="0.8" stop-color="#bce5b6"/><stop offset="0.81" stop-color="#bbe5b5"/><stop offset="0.83" stop-color="#ccecc7"/><stop offset="0.85" stop-color="#dbf2d6"/><stop offset="0.86" stop-color="#e3f5df"/><stop offset="0.88" stop-color="#eaf8e6"/><stop offset="0.9" stop-color="#eef9ec"/><stop offset="0.92" stop-color="#f0faee"/><stop offset="0.93" stop-color="#f2fbf0"/><stop offset="0.95" stop-color="#f2fbf1"/><stop offset="0.97" stop-color="#f3fbf1"/><stop offset="1" stop-color="#f3fbf1"/></linearGradient><linearGradient id="clipB33" gradientUnits="userSpaceOnUse" x1="54.2" y1="0" x2="349.2" y2="0"><stop offset="0" stop-color="#f4fcf3"/><stop offset="0.02" stop-color="#f4fcf3"/><stop offset="0.03" stop-color="#f4fbf2"/><stop offset="0.05" stop-color="#effaed"/><stop offset="0.12" stop-color="#effaed"/><stop offset="0.14" stop-color="#f3fbf1"/><stop offset="0.15" stop-color="#f4fcf3"/><stop offset="0.25" stop-color="#f4fcf3"/><stop offset="0.27" stop-color="#f1faee"/><stop offset="0.34" stop-color="#f1faee"/><stop offset="0.36" stop-color="#f2fbf0"/><stop offset="0.37" stop-color="#f3fbf1"/><stop offset="0.39" stop-color="#f1faef"/><stop offset="0.41" stop-color="#eff9ec"/><stop offset="0.42" stop-color="#edf9ea"/><stop offset="0.44" stop-color="#eff9ec"/><stop offset="0.46" stop-color="#f1faef"/><stop offset="0.47" stop-color="#f1faef"/><stop offset="0.49" stop-color="#ddf3d8"/><stop offset="0.51" stop-color="#caebc5"/><stop offset="0.53" stop-color="#caebc4"/><stop offset="0.54" stop-color="#c7eac2"/><stop offset="0.56" stop-color="#c1e7bb"/><stop offset="0.58" stop-color="#b3e1ad"/><stop offset="0.59" stop-color="#a4db9e"/><stop offset="0.61" stop-color="#9dd898"/><stop offset="0.63" stop-color="#a5db9f"/><stop offset="0.64" stop-color="#aee0a9"/><stop offset="0.76" stop-color="#aee0a9"/><stop offset="0.78" stop-color="#addfa8"/><stop offset="0.8" stop-color="#a5dca0"/><stop offset="0.81" stop-color="#a3db9e"/><stop offset="0.83" stop-color="#bbe5b5"/><stop offset="0.85" stop-color="#cdedc8"/><stop offset="0.86" stop-color="#daf2d5"/><stop offset="0.88" stop-color="#e2f5de"/><stop offset="0.9" stop-color="#e9f7e5"/><stop offset="0.92" stop-color="#eef9eb"/><stop offset="0.93" stop-color="#f0faed"/><stop offset="0.95" stop-color="#f1faef"/><stop offset="0.97" stop-color="#f2fbf0"/><stop offset="1" stop-color="#f2fbf0"/></linearGradient><linearGradient id="clipB34" gradientUnits="userSpaceOnUse" x1="54.2" y1="0" x2="349.2" y2="0"><stop offset="0" stop-color="#f4fcf3"/><stop offset="0.02" stop-color="#f4fcf3"/><stop offset="0.03" stop-color="#f4fbf2"/><stop offset="0.05" stop-color="#f0faed"/><stop offset="0.12" stop-color="#f0faed"/><stop offset="0.14" stop-color="#f3fbf2"/><stop offset="0.15" stop-color="#f4fcf3"/><stop offset="0.25" stop-color="#f4fcf3"/><stop offset="0.27" stop-color="#f0faee"/><stop offset="0.34" stop-color="#f0faee"/><stop offset="0.36" stop-color="#f2fbf0"/><stop offset="0.37" stop-color="#f3fbf1"/><stop offset="0.39" stop-color="#f1faef"/><stop offset="0.41" stop-color="#eef9ec"/><stop offset="0.42" stop-color="#edf9ea"/><stop offset="0.44" stop-color="#eff9ec"/><stop offset="0.46" stop-color="#f1faef"/><stop offset="0.47" stop-color="#f1faee"/><stop offset="0.49" stop-color="#dbf2d6"/><stop offset="0.51" stop-color="#c7eac1"/><stop offset="0.53" stop-color="#c6eac0"/><stop offset="0.54" stop-color="#c3e8be"/><stop offset="0.56" stop-color="#bce5b6"/><stop offset="0.58" stop-color="#addfa8"/><stop offset="0.59" stop-color="#9dd899"/><stop offset="0.61" stop-color="#96d692"/><stop offset="0.63" stop-color="#9fd99a"/><stop offset="0.64" stop-color="#94d590"/><stop offset="0.76" stop-color="#94d590"/><stop offset="0.78" stop-color="#93d48f"/><stop offset="0.8" stop-color="#88d085"/><stop offset="0.81" stop-color="#83ce81"/><stop offset="0.83" stop-color="#a0da9b"/><stop offset="0.85" stop-color="#bae4b4"/><stop offset="0.86" stop-color="#caebc5"/><stop offset="0.88" stop-color="#d7f1d2"/><stop offset="0.9" stop-color="#e0f4dc"/><stop offset="0.92" stop-color="#e7f6e3"/><stop offset="0.93" stop-color="#ebf8e8"/><stop offset="0.95" stop-color="#eef9eb"/><stop offset="0.97" stop-color="#eff9ec"/><stop offset="0.98" stop-color="#effaed"/><stop offset="1" stop-color="#effaed"/></linearGradient><linearGradient id="clipB35" gradientUnits="userSpaceOnUse" x1="54.2" y1="0" x2="349.2" y2="0"><stop offset="0" stop-color="#f4fbf2"/><stop offset="0.02" stop-color="#f4fbf2"/><stop offset="0.03" stop-color="#f3fbf2"/><stop offset="0.05" stop-color="#eff9ec"/><stop offset="0.12" stop-color="#eff9ec"/><stop offset="0.14" stop-color="#f3fbf1"/><stop offset="0.15" stop-color="#f4fbf2"/><stop offset="0.25" stop-color="#f4fbf2"/><stop offset="0.27" stop-color="#effaed"/><stop offset="0.34" stop-color="#effaed"/><stop offset="0.36" stop-color="#f2faef"/><stop offset="0.37" stop-color="#f3fbf1"/><stop offset="0.39" stop-color="#f1faee"/><stop offset="0.41" stop-color="#eef9eb"/><stop offset="0.42" stop-color="#ecf8e9"/><stop offset="0.44" stop-color="#eef9eb"/><stop offset="0.46" stop-color="#f1faee"/><stop offset="0.47" stop-color="#f0faee"/><stop offset="0.49" stop-color="#d6f0d0"/><stop offset="0.51" stop-color="#bee6b9"/><stop offset="0.53" stop-color="#bee6b8"/><stop offset="0.54" stop-color="#bae4b4"/><stop offset="0.56" stop-color="#b1e1ab"/><stop offset="0.58" stop-color="#a1da9c"/><stop offset="0.59" stop-color="#8fd38b"/><stop offset="0.61" stop-color="#87d084"/><stop offset="0.63" stop-color="#90d38c"/><stop offset="0.64" stop-color="#73c574"/><stop offset="0.76" stop-color="#73c574"/><stop offset="0.78" stop-color="#72c473"/><stop offset="0.8" stop-color="#67bd6c"/><stop offset="0.81" stop-color="#60b967"/><stop offset="0.83" stop-color="#7bca79"/><stop offset="0.85" stop-color="#9bd796"/><stop offset="0.86" stop-color="#b1e1ab"/><stop offset="0.88" stop-color="#c4e9be"/><stop offset="0.9" stop-color="#d2eecc"/><stop offset="0.92" stop-color="#dcf3d7"/><stop offset="0.93" stop-color="#e2f5de"/><stop offset="0.95" stop-color="#e6f6e2"/><stop offset="0.97" stop-color="#e9f7e5"/><stop offset="0.98" stop-color="#eaf7e6"/><stop offset="1" stop-color="#eaf7e6"/></linearGradient><linearGradient id="clipB36" gradientUnits="userSpaceOnUse" x1="54.2" y1="0" x2="349.2" y2="0"><stop offset="0" stop-color="#f4fcf3"/><stop offset="0.02" stop-color="#f4fcf3"/><stop offset="0.03" stop-color="#f4fbf2"/><stop offset="0.05" stop-color="#f0faed"/><stop offset="0.12" stop-color="#f0faed"/><stop offset="0.14" stop-color="#f3fbf2"/><stop offset="0.15" stop-color="#f4fcf3"/><stop offset="0.25" stop-color="#f4fcf3"/><stop offset="0.27" stop-color="#f0faed"/><stop offset="0.34" stop-color="#f0faed"/><stop offset="0.36" stop-color="#f2fbf0"/><stop offset="0.37" stop-color="#f3fbf2"/><stop offset="0.39" stop-color="#f2fbf0"/><stop offset="0.41" stop-color="#f0faed"/><stop offset="0.42" stop-color="#eff9ec"/><stop offset="0.44" stop-color="#f0faee"/><stop offset="0.46" stop-color="#f2fbf0"/><stop offset="0.47" stop-color="#f1faef"/><stop offset="0.49" stop-color="#d9f2d4"/><stop offset="0.51" stop-color="#c4e9be"/><stop offset="0.53" stop-color="#c3e8bd"/><stop offset="0.54" stop-color="#c1e7bb"/><stop offset="0.56" stop-color="#b9e4b3"/><stop offset="0.58" stop-color="#aadea5"/><stop offset="0.59" stop-color="#9ad796"/><stop offset="0.61" stop-color="#93d48f"/><stop offset="0.63" stop-color="#9bd797"/><stop offset="0.64" stop-color="#72c573"/><stop offset="0.76" stop-color="#72c573"/><stop offset="0.78" stop-color="#71c472"/><stop offset="0.8" stop-color="#65bc6a"/><stop offset="0.81" stop-color="#5cb564"/><stop offset="0.83" stop-color="#75c775"/><stop offset="0.85" stop-color="#92d48e"/><stop offset="0.86" stop-color="#a7dca2"/><stop offset="0.88" stop-color="#bbe5b5"/><stop offset="0.9" stop-color="#caebc4"/><stop offset="0.92" stop-color="#d5f0d0"/><stop offset="0.93" stop-color="#ddf3d8"/><stop offset="0.95" stop-color="#e2f5de"/><stop offset="0.97" stop-color="#e5f6e1"/><stop offset="0.98" stop-color="#e6f6e2"/><stop offset="1" stop-color="#e6f6e2"/></linearGradient><linearGradient id="clipB37" gradientUnits="userSpaceOnUse" x1="54.2" y1="0" x2="349.2" y2="0"><stop offset="0" stop-color="#f4fbf2"/><stop offset="0.02" stop-color="#f4fbf2"/><stop offset="0.03" stop-color="#f3fbf2"/><stop offset="0.05" stop-color="#eff9ec"/><stop offset="0.12" stop-color="#eff9ec"/><stop offset="0.14" stop-color="#f3fbf1"/><stop offset="0.15" stop-color="#f4fbf2"/><stop offset="0.25" stop-color="#f4fbf2"/><stop offset="0.27" stop-color="#eff9ec"/><stop offset="0.34" stop-color="#eff9ec"/><stop offset="0.36" stop-color="#f1faef"/><stop offset="0.37" stop-color="#f3fbf1"/><stop offset="0.39" stop-color="#f2fbf0"/><stop offset="0.41" stop-color="#f0faee"/><stop offset="0.42" stop-color="#f0faed"/><stop offset="0.44" stop-color="#f0faee"/><stop offset="0.46" stop-color="#f2fbf0"/><stop offset="0.47" stop-color="#f0faee"/><stop offset="0.49" stop-color="#d4f0cf"/><stop offset="0.51" stop-color="#bce5b6"/><stop offset="0.53" stop-color="#bbe5b5"/><stop offset="0.54" stop-color="#b7e3b2"/><stop offset="0.56" stop-color="#afe0a9"/><stop offset="0.58" stop-color="#9fd99a"/><stop offset="0.59" stop-color="#8ed28a"/><stop offset="0.61" stop-color="#87cf84"/><stop offset="0.63" stop-color="#8fd38b"/><stop offset="0.64" stop-color="#63bb69"/><stop offset="0.76" stop-color="#63bb69"/><stop offset="0.78" stop-color="#62ba68"/><stop offset="0.8" stop-color="#57b060"/><stop offset="0.81" stop-color="#4ca558"/><stop offset="0.83" stop-color="#5fb866"/><stop offset="0.85" stop-color="#76c776"/><stop offset="0.86" stop-color="#8ad086"/><stop offset="0.88" stop-color="#a0d99b"/><stop offset="0.9" stop-color="#b4e2af"/><stop offset="0.92" stop-color="#c4e9be"/><stop offset="0.93" stop-color="#cfedc9"/><stop offset="0.95" stop-color="#d7f1d1"/><stop offset="0.97" stop-color="#dbf2d6"/><stop offset="0.98" stop-color="#dcf3d8"/><stop offset="1" stop-color="#dcf3d8"/></linearGradient><linearGradient id="clipB38" gradientUnits="userSpaceOnUse" x1="54.2" y1="0" x2="349.2" y2="0"><stop offset="0" stop-color="#f4fcf3"/><stop offset="0.02" stop-color="#f4fcf3"/><stop offset="0.03" stop-color="#f4fbf2"/><stop offset="0.05" stop-color="#f0faed"/><stop offset="0.12" stop-color="#f0faed"/><stop offset="0.14" stop-color="#f3fbf2"/><stop offset="0.15" stop-color="#f4fcf3"/><stop offset="0.25" stop-color="#f4fcf3"/><stop offset="0.27" stop-color="#eff9ec"/><stop offset="0.34" stop-color="#eff9ec"/><stop offset="0.36" stop-color="#f2fbf0"/><stop offset="0.37" stop-color="#f4fbf2"/><stop offset="0.39" stop-color="#f3fbf1"/><stop offset="0.41" stop-color="#f2fbf0"/><stop offset="0.42" stop-color="#f1faef"/><stop offset="0.44" stop-color="#f2fbf0"/><stop offset="0.46" stop-color="#f3fbf1"/><stop offset="0.47" stop-color="#f1faef"/><stop offset="0.49" stop-color="#d6f0d1"/><stop offset="0.51" stop-color="#bfe6b9"/><stop offset="0.53" stop-color="#bee6b8"/><stop offset="0.54" stop-color="#bbe5b5"/><stop offset="0.56" stop-color="#b3e1ad"/><stop offset="0.58" stop-color="#a5dba0"/><stop offset="0.59" stop-color="#95d591"/><stop offset="0.61" stop-color="#8fd28b"/><stop offset="0.63" stop-color="#96d692"/><stop offset="0.64" stop-color="#6abf6e"/><stop offset="0.76" stop-color="#6abf6e"/><stop offset="0.78" stop-color="#69bf6d"/><stop offset="0.8" stop-color="#5db664"/><stop offset="0.81" stop-color="#52ab5d"/><stop offset="0.83" stop-color="#62ba68"/><stop offset="0.85" stop-color="#74c674"/><stop offset="0.86" stop-color="#83ce80"/><stop offset="0.88" stop-color="#96d692"/><stop offset="0.9" stop-color="#aadea5"/><stop offset="0.92" stop-color="#bbe5b5"/><stop offset="0.93" stop-color="#c7eac1"/><stop offset="0.95" stop-color="#cfedca"/><stop offset="0.97" stop-color="#d4f0cf"/><stop offset="0.98" stop-color="#d6f0d1"/><stop offset="1" stop-color="#d6f0d1"/></linearGradient><linearGradient id="clipB39" gradientUnits="userSpaceOnUse" x1="54.2" y1="0" x2="349.2" y2="0"><stop offset="0" stop-color="#f4fcf3"/><stop offset="0.02" stop-color="#f4fcf3"/><stop offset="0.03" stop-color="#f4fbf2"/><stop offset="0.05" stop-color="#f0faed"/><stop offset="0.12" stop-color="#f0faed"/><stop offset="0.14" stop-color="#f3fbf2"/><stop offset="0.15" stop-color="#f4fcf3"/><stop offset="0.25" stop-color="#f4fcf3"/><stop offset="0.27" stop-color="#eff9ec"/><stop offset="0.34" stop-color="#eff9ec"/><stop offset="0.36" stop-color="#f2fbf0"/><stop offset="0.37" stop-color="#f4fcf3"/><stop offset="0.39" stop-color="#f4fbf2"/><stop offset="0.41" stop-color="#f3fbf1"/><stop offset="0.44" stop-color="#f3fbf1"/><stop offset="0.46" stop-color="#f4fbf2"/><stop offset="0.47" stop-color="#f1faef"/><stop offset="0.49" stop-color="#d7f1d2"/><stop offset="0.51" stop-color="#c0e7ba"/><stop offset="0.53" stop-color="#bfe7b9"/><stop offset="0.54" stop-color="#bce5b6"/><stop offset="0.56" stop-color="#b5e2af"/><stop offset="0.58" stop-color="#a8dda3"/><stop offset="0.59" stop-color="#9ad796"/><stop offset="0.61" stop-color="#94d590"/><stop offset="0.63" stop-color="#9bd796"/><stop offset="0.64" stop-color="#6fc271"/><stop offset="0.76" stop-color="#6fc271"/><stop offset="0.78" stop-color="#6dc170"/><stop offset="0.8" stop-color="#61b967"/><stop offset="0.81" stop-color="#55ae5f"/><stop offset="0.83" stop-color="#67bd6b"/><stop offset="0.85" stop-color="#76c776"/><stop offset="0.86" stop-color="#7fcc7c"/><stop offset="0.88" stop-color="#8ed28b"/><stop offset="0.9" stop-color="#a0d99b"/><stop offset="0.92" stop-color="#b1e0ab"/><stop offset="0.93" stop-color="#bfe6b9"/><stop offset="0.95" stop-color="#c7eac1"/><stop offset="0.97" stop-color="#cdecc7"/><stop offset="0.98" stop-color="#cfedc9"/><stop offset="1" stop-color="#cfedc9"/></linearGradient><linearGradient id="clipB40" gradientUnits="userSpaceOnUse" x1="54.2" y1="0" x2="349.2" y2="0"><stop offset="0" stop-color="#f4fcf3"/><stop offset="0.02" stop-color="#f4fcf3"/><stop offset="0.03" stop-color="#f4fbf2"/><stop offset="0.05" stop-color="#effaed"/><stop offset="0.12" stop-color="#effaed"/><stop offset="0.14" stop-color="#f3fbf1"/><stop offset="0.15" stop-color="#f4fcf3"/><stop offset="0.25" stop-color="#f4fcf3"/><stop offset="0.27" stop-color="#edf9ea"/><stop offset="0.34" stop-color="#edf9ea"/><stop offset="0.36" stop-color="#f1faef"/><stop offset="0.37" stop-color="#f4fbf2"/><stop offset="0.39" stop-color="#f4fbf2"/><stop offset="0.41" stop-color="#f3fbf2"/><stop offset="0.42" stop-color="#f3fbf1"/><stop offset="0.44" stop-color="#f3fbf2"/><stop offset="0.46" stop-color="#f4fbf2"/><stop offset="0.47" stop-color="#f1faef"/><stop offset="0.49" stop-color="#d2efcd"/><stop offset="0.51" stop-color="#b7e3b1"/><stop offset="0.53" stop-color="#b6e3b0"/><stop offset="0.54" stop-color="#b3e2ad"/><stop offset="0.56" stop-color="#acdea6"/><stop offset="0.58" stop-color="#9fd99a"/><stop offset="0.59" stop-color="#91d38d"/><stop offset="0.61" stop-color="#8bd188"/><stop offset="0.63" stop-color="#92d48e"/><stop offset="0.64" stop-color="#66bc6b"/><stop offset="0.76" stop-color="#66bc6b"/><stop offset="0.78" stop-color="#64bb6a"/><stop offset="0.8" stop-color="#59b262"/><stop offset="0.81" stop-color="#4ea75a"/><stop offset="0.83" stop-color="#5eb765"/><stop offset="0.85" stop-color="#6dc170"/><stop offset="0.86" stop-color="#73c574"/><stop offset="0.88" stop-color="#7bca79"/><stop offset="0.9" stop-color="#8bd187"/><stop offset="0.92" stop-color="#9cd897"/><stop offset="0.93" stop-color="#abdea5"/><stop offset="0.95" stop-color="#b6e3b1"/><stop offset="0.97" stop-color="#bee6b8"/><stop offset="0.98" stop-color="#c1e7bb"/><stop offset="1" stop-color="#c1e7bb"/></linearGradient><linearGradient id="clipB41" gradientUnits="userSpaceOnUse" x1="54.2" y1="0" x2="349.2" y2="0"><stop offset="0" stop-color="#f4fbf2"/><stop offset="0.02" stop-color="#f4fbf2"/><stop offset="0.03" stop-color="#f3fbf2"/><stop offset="0.05" stop-color="#eff9ec"/><stop offset="0.12" stop-color="#eff9ec"/><stop offset="0.14" stop-color="#f3fbf1"/><stop offset="0.15" stop-color="#f4fbf2"/><stop offset="0.25" stop-color="#f4fbf2"/><stop offset="0.27" stop-color="#ecf8e9"/><stop offset="0.34" stop-color="#ecf8e9"/><stop offset="0.36" stop-color="#f1faee"/><stop offset="0.37" stop-color="#f4fbf2"/><stop offset="0.39" stop-color="#f3fbf2"/><stop offset="0.41" stop-color="#f3fbf2"/><stop offset="0.42" stop-color="#f3fbf1"/><stop offset="0.44" stop-color="#f3fbf2"/><stop offset="0.46" stop-color="#f4fbf2"/><stop offset="0.47" stop-color="#f1faee"/><stop offset="0.49" stop-color="#cfedca"/><stop offset="0.51" stop-color="#b1e1ac"/><stop offset="0.53" stop-color="#b1e0ab"/><stop offset="0.54" stop-color="#aedfa9"/><stop offset="0.56" stop-color="#a7dda2"/><stop offset="0.58" stop-color="#9cd897"/><stop offset="0.59" stop-color="#8ed28b"/><stop offset="0.61" stop-color="#89d086"/><stop offset="0.63" stop-color="#8fd38c"/><stop offset="0.64" stop-color="#62ba68"/><stop offset="0.76" stop-color="#62ba68"/><stop offset="0.78" stop-color="#60b967"/><stop offset="0.8" stop-color="#56af5f"/><stop offset="0.81" stop-color="#4ba458"/><stop offset="0.83" stop-color="#5bb463"/><stop offset="0.85" stop-color="#69bf6d"/><stop offset="0.86" stop-color="#6fc371"/><stop offset="0.88" stop-color="#75c675"/><stop offset="0.9" stop-color="#7ecc7c"/><stop offset="0.92" stop-color="#8dd289"/><stop offset="0.93" stop-color="#9cd897"/><stop offset="0.95" stop-color="#a8dda2"/><stop offset="0.97" stop-color="#afe0aa"/><stop offset="0.98" stop-color="#b3e1ad"/><stop offset="1" stop-color="#b3e1ad"/></linearGradient><linearGradient id="clipB42" gradientUnits="userSpaceOnUse" x1="54.2" y1="0" x2="349.2" y2="0"><stop offset="0" stop-color="#f4fcf3"/><stop offset="0.02" stop-color="#f4fcf3"/><stop offset="0.03" stop-color="#f4fbf2"/><stop offset="0.05" stop-color="#effaed"/><stop offset="0.12" stop-color="#effaed"/><stop offset="0.14" stop-color="#f3fbf1"/><stop offset="0.15" stop-color="#f4fcf3"/><stop offset="0.25" stop-color="#f4fcf3"/><stop offset="0.27" stop-color="#ecf8e9"/><stop offset="0.29" stop-color="#ebf8e8"/><stop offset="0.31" stop-color="#e9f7e5"/><stop offset="0.34" stop-color="#e9f7e5"/><stop offset="0.36" stop-color="#eff9ec"/><stop offset="0.37" stop-color="#f2fbf0"/><stop offset="0.42" stop-color="#f2fbf0"/><stop offset="0.44" stop-color="#f4fbf2"/><stop offset="0.46" stop-color="#f4fbf2"/><stop offset="0.47" stop-color="#f1faef"/><stop offset="0.49" stop-color="#d0eeca"/><stop offset="0.51" stop-color="#b2e1ac"/><stop offset="0.53" stop-color="#b1e1ab"/><stop offset="0.54" stop-color="#afe0a9"/><stop offset="0.56" stop-color="#a9dda4"/><stop offset="0.58" stop-color="#9fd99a"/><stop offset="0.59" stop-color="#94d490"/><stop offset="0.61" stop-color="#8fd38b"/><stop offset="0.63" stop-color="#94d590"/><stop offset="0.64" stop-color="#65bc6a"/><stop offset="0.76" stop-color="#65bc6a"/><stop offset="0.78" stop-color="#64bb69"/><stop offset="0.8" stop-color="#59b261"/><stop offset="0.81" stop-color="#4da65a"/><stop offset="0.83" stop-color="#5eb765"/><stop offset="0.85" stop-color="#6dc16f"/><stop offset="0.86" stop-color="#73c574"/><stop offset="0.88" stop-color="#78c978"/><stop offset="0.9" stop-color="#7fcc7c"/><stop offset="0.92" stop-color="#89d086"/><stop offset="0.93" stop-color="#95d591"/><stop offset="0.95" stop-color="#a0da9b"/><stop offset="0.97" stop-color="#a8dda2"/><stop offset="0.98" stop-color="#abdea6"/><stop offset="1" stop-color="#abdea6"/></linearGradient><linearGradient id="clipB43" gradientUnits="userSpaceOnUse" x1="54.2" y1="0" x2="349.2" y2="0"><stop offset="0" stop-color="#f4fcf3"/><stop offset="0.02" stop-color="#f4fcf3"/><stop offset="0.03" stop-color="#f4fbf2"/><stop offset="0.05" stop-color="#f0faed"/><stop offset="0.12" stop-color="#f0faed"/><stop offset="0.14" stop-color="#f3fbf2"/><stop offset="0.15" stop-color="#f4fcf3"/><stop offset="0.25" stop-color="#f4fcf3"/><stop offset="0.27" stop-color="#ecf8e9"/><stop offset="0.29" stop-color="#eaf7e6"/><stop offset="0.31" stop-color="#e5f6e1"/><stop offset="0.34" stop-color="#e5f6e1"/><stop offset="0.36" stop-color="#ebf8e8"/><stop offset="0.37" stop-color="#effaed"/><stop offset="0.41" stop-color="#effaed"/><stop offset="0.42" stop-color="#f0faed"/><stop offset="0.44" stop-color="#f4fbf2"/><stop offset="0.46" stop-color="#f4fcf3"/><stop offset="0.47" stop-color="#f1faef"/><stop offset="0.49" stop-color="#d0eecb"/><stop offset="0.51" stop-color="#b3e1ad"/><stop offset="0.53" stop-color="#b2e1ad"/><stop offset="0.54" stop-color="#b0e0ab"/><stop offset="0.56" stop-color="#abdea6"/><stop offset="0.58" stop-color="#a3db9e"/><stop offset="0.59" stop-color="#9ad795"/><stop offset="0.61" stop-color="#96d592"/><stop offset="0.63" stop-color="#9bd796"/><stop offset="0.64" stop-color="#6abf6e"/><stop offset="0.76" stop-color="#6abf6e"/><stop offset="0.78" stop-color="#68be6d"/><stop offset="0.8" stop-color="#5cb564"/><stop offset="0.81" stop-color="#51aa5c"/><stop offset="0.83" stop-color="#62ba68"/><stop offset="0.85" stop-color="#71c473"/><stop offset="0.86" stop-color="#77c877"/><stop offset="0.88" stop-color="#7dcc7b"/><stop offset="0.9" stop-color="#84ce81"/><stop offset="0.92" stop-color="#8bd187"/><stop offset="0.93" stop-color="#94d48f"/><stop offset="0.95" stop-color="#9dd898"/><stop offset="0.97" stop-color="#a3db9e"/><stop offset="0.98" stop-color="#a6dca1"/><stop offset="1" stop-color="#a6dca1"/></linearGradient><linearGradient id="clipB44" gradientUnits="userSpaceOnUse" x1="54.2" y1="0" x2="349.2" y2="0"><stop offset="0" stop-color="#f4fbf2"/><stop offset="0.02" stop-color="#f4fbf2"/><stop offset="0.03" stop-color="#f3fbf2"/><stop offset="0.05" stop-color="#eff9ec"/><stop offset="0.12" stop-color="#eff9ec"/><stop offset="0.14" stop-color="#f3fbf1"/><stop offset="0.15" stop-color="#f4fbf2"/><stop offset="0.25" stop-color="#f4fbf2"/><stop offset="0.27" stop-color="#eaf8e7"/><stop offset="0.29" stop-color="#e5f6e2"/><stop offset="0.31" stop-color="#dcf3d7"/><stop offset="0.34" stop-color="#dcf3d7"/><stop offset="0.36" stop-color="#e4f5df"/><stop offset="0.37" stop-color="#e9f7e6"/><stop offset="0.41" stop-color="#e9f7e6"/><stop offset="0.42" stop-color="#eaf8e7"/><stop offset="0.44" stop-color="#f3fbf1"/><stop offset="0.46" stop-color="#f4fbf2"/><stop offset="0.47" stop-color="#f0faee"/><stop offset="0.49" stop-color="#cbecc5"/><stop offset="0.51" stop-color="#a9dda3"/><stop offset="0.53" stop-color="#a8dda3"/><stop offset="0.54" stop-color="#a7dca1"/><stop offset="0.56" stop-color="#a2da9d"/><stop offset="0.58" stop-color="#9ad796"/><stop offset="0.59" stop-color="#92d48e"/><stop offset="0.61" stop-color="#8ed28b"/><stop offset="0.63" stop-color="#92d48e"/><stop offset="0.64" stop-color="#61b967"/><stop offset="0.76" stop-color="#61b967"/><stop offset="0.78" stop-color="#5fb866"/><stop offset="0.8" stop-color="#55ae5f"/><stop offset="0.81" stop-color="#4aa357"/><stop offset="0.83" stop-color="#5ab362"/><stop offset="0.85" stop-color="#68be6c"/><stop offset="0.86" stop-color="#6ec270"/><stop offset="0.88" stop-color="#74c674"/><stop offset="0.9" stop-color="#7ac978"/><stop offset="0.92" stop-color="#80cd7e"/><stop offset="0.93" stop-color="#86cf83"/><stop offset="0.95" stop-color="#8dd28a"/><stop offset="0.97" stop-color="#94d490"/><stop offset="0.98" stop-color="#96d692"/><stop offset="1" stop-color="#97d692"/></linearGradient><linearGradient id="clipB45" gradientUnits="userSpaceOnUse" x1="54.2" y1="0" x2="349.2" y2="0"><stop offset="0" stop-color="#f4fcf3"/><stop offset="0.02" stop-color="#f4fcf3"/><stop offset="0.03" stop-color="#f4fbf2"/><stop offset="0.05" stop-color="#f0faed"/><stop offset="0.12" stop-color="#f0faed"/><stop offset="0.14" stop-color="#f3fbf2"/><stop offset="0.15" stop-color="#f4fcf3"/><stop offset="0.25" stop-color="#f4fcf3"/><stop offset="0.27" stop-color="#ecf8e9"/><stop offset="0.29" stop-color="#e6f6e2"/><stop offset="0.31" stop-color="#d9f2d4"/><stop offset="0.34" stop-color="#d9f2d4"/><stop offset="0.36" stop-color="#e0f4dc"/><stop offset="0.37" stop-color="#e6f6e2"/><stop offset="0.41" stop-color="#e6f6e2"/><stop offset="0.42" stop-color="#e7f6e3"/><stop offset="0.44" stop-color="#f3fbf1"/><stop offset="0.46" stop-color="#f4fcf3"/><stop offset="0.47" stop-color="#f1faef"/><stop offset="0.49" stop-color="#d0eecb"/><stop offset="0.51" stop-color="#b2e1ac"/><stop offset="0.53" stop-color="#b1e1ac"/><stop offset="0.54" stop-color="#b0e0ab"/><stop offset="0.56" stop-color="#addfa7"/><stop offset="0.58" stop-color="#a7dca2"/><stop offset="0.59" stop-color="#a1da9c"/><stop offset="0.61" stop-color="#9ed999"/><stop offset="0.63" stop-color="#a1da9c"/><stop offset="0.64" stop-color="#6fc271"/><stop offset="0.75" stop-color="#6fc271"/><stop offset="0.76" stop-color="#6ec271"/><stop offset="0.78" stop-color="#6dc170"/><stop offset="0.8" stop-color="#60b967"/><stop offset="0.81" stop-color="#55ae5f"/><stop offset="0.83" stop-color="#66bd6b"/><stop offset="0.85" stop-color="#76c776"/><stop offset="0.86" stop-color="#7ccb7a"/><stop offset="0.88" stop-color="#83ce80"/><stop offset="0.9" stop-color="#8ad086"/><stop offset="0.92" stop-color="#90d38c"/><stop offset="0.93" stop-color="#95d591"/><stop offset="0.95" stop-color="#9ad795"/><stop offset="0.97" stop-color="#9ed999"/><stop offset="0.98" stop-color="#a0d99b"/><stop offset="1" stop-color="#a0d99b"/></linearGradient><linearGradient id="clipB46" gradientUnits="userSpaceOnUse" x1="54.2" y1="0" x2="349.2" y2="0"><stop offset="0" stop-color="#f4fbf2"/><stop offset="0.02" stop-color="#f4fbf2"/><stop offset="0.03" stop-color="#f3fbf2"/><stop offset="0.05" stop-color="#eff9ec"/><stop offset="0.12" stop-color="#eff9ec"/><stop offset="0.14" stop-color="#f3fbf1"/><stop offset="0.15" stop-color="#f4fbf2"/><stop offset="0.25" stop-color="#f4fbf2"/><stop offset="0.27" stop-color="#eaf7e6"/><stop offset="0.29" stop-color="#e0f4dc"/><stop offset="0.31" stop-color="#cbecc6"/><stop offset="0.34" stop-color="#cbecc6"/><stop offset="0.36" stop-color="#d6f0d1"/><stop offset="0.37" stop-color="#ddf3d8"/><stop offset="0.41" stop-color="#ddf3d8"/><stop offset="0.42" stop-color="#def4da"/><stop offset="0.44" stop-color="#f2fbf0"/><stop offset="0.46" stop-color="#f4fbf2"/><stop offset="0.47" stop-color="#f0faee"/><stop offset="0.49" stop-color="#c9ebc3"/><stop offset="0.51" stop-color="#a4db9f"/><stop offset="0.53" stop-color="#a4db9f"/><stop offset="0.54" stop-color="#a3db9e"/><stop offset="0.56" stop-color="#a0d99b"/><stop offset="0.58" stop-color="#9ad796"/><stop offset="0.59" stop-color="#95d591"/><stop offset="0.61" stop-color="#92d48e"/><stop offset="0.63" stop-color="#95d591"/><stop offset="0.64" stop-color="#61b968"/><stop offset="0.76" stop-color="#61b968"/><stop offset="0.78" stop-color="#60b967"/><stop offset="0.8" stop-color="#55ae5f"/><stop offset="0.81" stop-color="#4aa357"/><stop offset="0.83" stop-color="#5ab363"/><stop offset="0.85" stop-color="#69be6d"/><stop offset="0.86" stop-color="#6fc271"/><stop offset="0.88" stop-color="#74c675"/><stop offset="0.9" stop-color="#7aca79"/><stop offset="0.92" stop-color="#81cd7e"/><stop offset="0.93" stop-color="#87cf84"/><stop offset="0.95" stop-color="#8cd188"/><stop offset="0.97" stop-color="#8fd38c"/><stop offset="0.98" stop-color="#91d38d"/><stop offset="1" stop-color="#91d38d"/></linearGradient><linearGradient id="clipB47" gradientUnits="userSpaceOnUse" x1="54.2" y1="0" x2="349.2" y2="0"><stop offset="0" stop-color="#f4fcf3"/><stop offset="0.02" stop-color="#f4fcf3"/><stop offset="0.03" stop-color="#f4fbf2"/><stop offset="0.05" stop-color="#f0faed"/><stop offset="0.12" stop-color="#f0faed"/><stop offset="0.14" stop-color="#f3fbf1"/><stop offset="0.15" stop-color="#f4fcf3"/><stop offset="0.25" stop-color="#f4fcf3"/><stop offset="0.27" stop-color="#ebf8e7"/><stop offset="0.29" stop-color="#e0f4dc"/><stop offset="0.31" stop-color="#c9ebc3"/><stop offset="0.34" stop-color="#c9ebc3"/><stop offset="0.36" stop-color="#d3efce"/><stop offset="0.37" stop-color="#daf2d5"/><stop offset="0.41" stop-color="#daf2d5"/><stop offset="0.42" stop-color="#dcf3d7"/><stop offset="0.44" stop-color="#f2fbf0"/><stop offset="0.46" stop-color="#f4fcf3"/><stop offset="0.47" stop-color="#f1faee"/><stop offset="0.49" stop-color="#cbecc6"/><stop offset="0.51" stop-color="#a9dda4"/><stop offset="0.53" stop-color="#a9dda4"/><stop offset="0.54" stop-color="#a8dda3"/><stop offset="0.56" stop-color="#a6dca1"/><stop offset="0.58" stop-color="#a2da9d"/><stop offset="0.59" stop-color="#9ed999"/><stop offset="0.61" stop-color="#9cd897"/><stop offset="0.63" stop-color="#9ed999"/><stop offset="0.64" stop-color="#6abf6d"/><stop offset="0.76" stop-color="#6abf6d"/><stop offset="0.78" stop-color="#68be6c"/><stop offset="0.8" stop-color="#5cb564"/><stop offset="0.81" stop-color="#51aa5c"/><stop offset="0.83" stop-color="#62ba68"/><stop offset="0.85" stop-color="#71c473"/><stop offset="0.86" stop-color="#77c877"/><stop offset="0.88" stop-color="#7dcb7b"/><stop offset="0.9" stop-color="#84ce81"/><stop offset="0.92" stop-color="#8ad187"/><stop offset="0.93" stop-color="#90d38c"/><stop offset="0.95" stop-color="#95d591"/><stop offset="0.97" stop-color="#98d694"/><stop offset="0.98" stop-color="#9ad795"/><stop offset="1" stop-color="#9ad795"/></linearGradient><linearGradient id="clipB48" gradientUnits="userSpaceOnUse" x1="54.2" y1="0" x2="349.2" y2="0"><stop offset="0" stop-color="#f4fbf2"/><stop offset="0.02" stop-color="#f4fbf2"/><stop offset="0.03" stop-color="#f3fbf1"/><stop offset="0.05" stop-color="#eff9ec"/><stop offset="0.12" stop-color="#eff9ec"/><stop offset="0.14" stop-color="#f3fbf1"/><stop offset="0.15" stop-color="#f4fbf2"/><stop offset="0.25" stop-color="#f4fbf2"/><stop offset="0.27" stop-color="#e8f7e4"/><stop offset="0.29" stop-color="#dbf2d7"/><stop offset="0.31" stop-color="#bde6b7"/><stop offset="0.34" stop-color="#bde6b7"/><stop offset="0.36" stop-color="#c9ebc4"/><stop offset="0.37" stop-color="#d2efcd"/><stop offset="0.41" stop-color="#d2efcd"/><stop offset="0.42" stop-color="#d5f0cf"/><stop offset="0.44" stop-color="#f1faef"/><stop offset="0.46" stop-color="#f3fbf1"/><stop offset="0.47" stop-color="#eff9ec"/><stop offset="0.49" stop-color="#c2e8bc"/><stop offset="0.51" stop-color="#9ad796"/><stop offset="0.53" stop-color="#9bd796"/><stop offset="0.54" stop-color="#9ad795"/><stop offset="0.56" stop-color="#98d693"/><stop offset="0.58" stop-color="#94d590"/><stop offset="0.59" stop-color="#90d38d"/><stop offset="0.61" stop-color="#8fd38b"/><stop offset="0.63" stop-color="#91d38d"/><stop offset="0.64" stop-color="#5db664"/><stop offset="0.76" stop-color="#5db664"/><stop offset="0.78" stop-color="#5bb463"/><stop offset="0.8" stop-color="#51aa5c"/><stop offset="0.81" stop-color="#469f54"/><stop offset="0.83" stop-color="#56af60"/><stop offset="0.85" stop-color="#64bb69"/><stop offset="0.86" stop-color="#6abf6d"/><stop offset="0.88" stop-color="#6fc371"/><stop offset="0.9" stop-color="#75c675"/><stop offset="0.92" stop-color="#7bca79"/><stop offset="0.93" stop-color="#81cd7f"/><stop offset="0.95" stop-color="#86cf83"/><stop offset="0.97" stop-color="#8ad187"/><stop offset="0.98" stop-color="#8cd188"/><stop offset="1" stop-color="#8cd188"/></linearGradient><linearGradient id="clipB49" gradientUnits="userSpaceOnUse" x1="54.2" y1="0" x2="349.2" y2="0"><stop offset="0" stop-color="#f4fcf3"/><stop offset="0.02" stop-color="#f4fcf3"/><stop offset="0.03" stop-color="#f4fbf2"/><stop offset="0.05" stop-color="#f0faed"/><stop offset="0.12" stop-color="#f0faed"/><stop offset="0.14" stop-color="#f3fbf2"/><stop offset="0.15" stop-color="#f4fcf3"/><stop offset="0.25" stop-color="#f4fcf3"/><stop offset="0.27" stop-color="#ebf8e7"/><stop offset="0.29" stop-color="#dff4db"/><stop offset="0.31" stop-color="#c6eac0"/><stop offset="0.34" stop-color="#c6eac0"/><stop offset="0.36" stop-color="#d1eecb"/><stop offset="0.37" stop-color="#d9f1d3"/><stop offset="0.41" stop-color="#d9f1d3"/><stop offset="0.42" stop-color="#dbf2d6"/><stop offset="0.44" stop-color="#f2fbf0"/><stop offset="0.46" stop-color="#eff9ec"/><stop offset="0.47" stop-color="#eaf8e7"/><stop offset="0.49" stop-color="#c0e7ba"/><stop offset="0.51" stop-color="#a7dda2"/><stop offset="0.53" stop-color="#a9dda4"/><stop offset="0.54" stop-color="#a8dda3"/><stop offset="0.56" stop-color="#a7dca2"/><stop offset="0.58" stop-color="#a5dba0"/><stop offset="0.59" stop-color="#a2da9d"/><stop offset="0.61" stop-color="#a1da9c"/><stop offset="0.63" stop-color="#a3db9d"/><stop offset="0.64" stop-color="#6ec271"/><stop offset="0.76" stop-color="#6ec271"/><stop offset="0.78" stop-color="#6dc170"/><stop offset="0.8" stop-color="#60b967"/><stop offset="0.81" stop-color="#55ae5f"/><stop offset="0.83" stop-color="#66bd6b"/><stop offset="0.85" stop-color="#76c776"/><stop offset="0.86" stop-color="#7ccb7a"/><stop offset="0.88" stop-color="#82ce80"/><stop offset="0.9" stop-color="#89d086"/><stop offset="0.92" stop-color="#8fd38c"/><stop offset="0.93" stop-color="#95d591"/><stop offset="0.95" stop-color="#9ad795"/><stop offset="0.97" stop-color="#9dd898"/><stop offset="0.98" stop-color="#9ed999"/><stop offset="1" stop-color="#9ed999"/></linearGradient><linearGradient id="clipB50" gradientUnits="userSpaceOnUse" x1="54.2" y1="0" x2="349.2" y2="0"><stop offset="0" stop-color="#f4fcf3"/><stop offset="0.02" stop-color="#f4fcf3"/><stop offset="0.03" stop-color="#f4fbf2"/><stop offset="0.05" stop-color="#effaed"/><stop offset="0.12" stop-color="#effaed"/><stop offset="0.14" stop-color="#f3fbf1"/><stop offset="0.15" stop-color="#f4fcf3"/><stop offset="0.25" stop-color="#f4fcf3"/><stop offset="0.27" stop-color="#e9f7e5"/><stop offset="0.29" stop-color="#ddf3d8"/><stop offset="0.31" stop-color="#c1e8bb"/><stop offset="0.34" stop-color="#c1e8bb"/><stop offset="0.36" stop-color="#cdecc7"/><stop offset="0.37" stop-color="#d5f0d0"/><stop offset="0.41" stop-color="#d5f0d0"/><stop offset="0.42" stop-color="#d8f1d3"/><stop offset="0.44" stop-color="#f1faef"/><stop offset="0.46" stop-color="#e5f6e1"/><stop offset="0.47" stop-color="#dff4da"/><stop offset="0.49" stop-color="#a8dda3"/><stop offset="0.51" stop-color="#9cd898"/><stop offset="0.53" stop-color="#a0d99b"/><stop offset="0.54" stop-color="#9fd99a"/><stop offset="0.56" stop-color="#9ed999"/><stop offset="0.58" stop-color="#9cd898"/><stop offset="0.59" stop-color="#9ad796"/><stop offset="0.61" stop-color="#9ad795"/><stop offset="0.63" stop-color="#9bd796"/><stop offset="0.64" stop-color="#66bd6b"/><stop offset="0.76" stop-color="#66bd6b"/><stop offset="0.78" stop-color="#65bc6a"/><stop offset="0.8" stop-color="#59b262"/><stop offset="0.81" stop-color="#4ea75a"/><stop offset="0.83" stop-color="#5eb766"/><stop offset="0.85" stop-color="#6ec270"/><stop offset="0.86" stop-color="#74c674"/><stop offset="0.88" stop-color="#7ac978"/><stop offset="0.9" stop-color="#80cd7e"/><stop offset="0.92" stop-color="#86cf84"/><stop offset="0.93" stop-color="#8cd289"/><stop offset="0.95" stop-color="#91d48d"/><stop offset="0.97" stop-color="#95d591"/><stop offset="0.98" stop-color="#96d592"/><stop offset="1" stop-color="#96d592"/></linearGradient><linearGradient id="clipB51" gradientUnits="userSpaceOnUse" x1="54.2" y1="0" x2="349.2" y2="0"><stop offset="0" stop-color="#f4fcf3"/><stop offset="0.02" stop-color="#f4fcf3"/><stop offset="0.03" stop-color="#f4fbf2"/><stop offset="0.05" stop-color="#f0faed"/><stop offset="0.07" stop-color="#effaed"/><stop offset="0.12" stop-color="#effaed"/><stop offset="0.14" stop-color="#f3fbf1"/><stop offset="0.15" stop-color="#f4fcf3"/><stop offset="0.25" stop-color="#f4fcf3"/><stop offset="0.27" stop-color="#e8f7e5"/><stop offset="0.29" stop-color="#ddf3d8"/><stop offset="0.31" stop-color="#c2e8bd"/><stop offset="0.34" stop-color="#c2e8bd"/><stop offset="0.36" stop-color="#ceedc9"/><stop offset="0.37" stop-color="#d7f1d2"/><stop offset="0.41" stop-color="#d7f1d2"/><stop offset="0.42" stop-color="#daf2d5"/><stop offset="0.44" stop-color="#f2fbf0"/><stop offset="0.46" stop-color="#dff4da"/><stop offset="0.47" stop-color="#d8f1d3"/><stop offset="0.49" stop-color="#9fd99a"/><stop offset="0.51" stop-color="#9ed899"/><stop offset="0.53" stop-color="#a2da9d"/><stop offset="0.54" stop-color="#a2da9d"/><stop offset="0.56" stop-color="#a1da9c"/><stop offset="0.58" stop-color="#a0d99b"/><stop offset="0.59" stop-color="#9ed99a"/><stop offset="0.61" stop-color="#9ed999"/><stop offset="0.63" stop-color="#9fd99a"/><stop offset="0.64" stop-color="#6bc06e"/><stop offset="0.76" stop-color="#6bc06e"/><stop offset="0.78" stop-color="#69bf6d"/><stop offset="0.8" stop-color="#5db665"/><stop offset="0.81" stop-color="#52ab5d"/><stop offset="0.83" stop-color="#63bb69"/><stop offset="0.85" stop-color="#72c573"/><stop offset="0.86" stop-color="#78c978"/><stop offset="0.88" stop-color="#7ecc7c"/><stop offset="0.9" stop-color="#85cf82"/><stop offset="0.92" stop-color="#8cd188"/><stop offset="0.93" stop-color="#91d48e"/><stop offset="0.95" stop-color="#96d592"/><stop offset="0.97" stop-color="#99d795"/><stop offset="0.98" stop-color="#9bd796"/><stop offset="1" stop-color="#9bd796"/></linearGradient><linearGradient id="clipB52" gradientUnits="userSpaceOnUse" x1="54.2" y1="0" x2="349.2" y2="0"><stop offset="0" stop-color="#f4fbf2"/><stop offset="0.02" stop-color="#f4fbf2"/><stop offset="0.03" stop-color="#f3fbf2"/><stop offset="0.05" stop-color="#eff9ec"/><stop offset="0.12" stop-color="#eff9ec"/><stop offset="0.14" stop-color="#f3fbf1"/><stop offset="0.15" stop-color="#f4fbf2"/><stop offset="0.25" stop-color="#f4fbf2"/><stop offset="0.27" stop-color="#e5f6e1"/><stop offset="0.29" stop-color="#d8f1d3"/><stop offset="0.31" stop-color="#b9e4b3"/><stop offset="0.34" stop-color="#b9e4b3"/><stop offset="0.36" stop-color="#c9ebc3"/><stop offset="0.37" stop-color="#d3efce"/><stop offset="0.41" stop-color="#d3efce"/><stop offset="0.42" stop-color="#d6f0d0"/><stop offset="0.44" stop-color="#f1faef"/><stop offset="0.46" stop-color="#dbf2d6"/><stop offset="0.47" stop-color="#d2efcd"/><stop offset="0.49" stop-color="#91d48d"/><stop offset="0.51" stop-color="#90d38d"/><stop offset="0.53" stop-color="#96d591"/><stop offset="0.54" stop-color="#95d591"/><stop offset="0.56" stop-color="#95d591"/><stop offset="0.58" stop-color="#94d590"/><stop offset="0.59" stop-color="#93d48f"/><stop offset="0.61" stop-color="#92d48e"/><stop offset="0.63" stop-color="#93d48f"/><stop offset="0.64" stop-color="#60b967"/><stop offset="0.76" stop-color="#60b967"/><stop offset="0.78" stop-color="#5fb866"/><stop offset="0.8" stop-color="#54ad5e"/><stop offset="0.81" stop-color="#49a256"/><stop offset="0.83" stop-color="#59b262"/><stop offset="0.85" stop-color="#67bd6c"/><stop offset="0.86" stop-color="#6ec270"/><stop offset="0.88" stop-color="#73c574"/><stop offset="0.9" stop-color="#79c978"/><stop offset="0.92" stop-color="#7fcc7d"/><stop offset="0.93" stop-color="#85cf82"/><stop offset="0.95" stop-color="#8ad187"/><stop offset="0.97" stop-color="#8ed28a"/><stop offset="0.98" stop-color="#8fd38c"/><stop offset="1" stop-color="#8fd38c"/></linearGradient><linearGradient id="clipB53" gradientUnits="userSpaceOnUse" x1="54.2" y1="0" x2="349.2" y2="0"><stop offset="0" stop-color="#f4fcf3"/><stop offset="0.02" stop-color="#f4fcf3"/><stop offset="0.03" stop-color="#f4fbf2"/><stop offset="0.05" stop-color="#effaed"/><stop offset="0.07" stop-color="#eff9ec"/><stop offset="0.12" stop-color="#eff9ec"/><stop offset="0.14" stop-color="#f3fbf1"/><stop offset="0.15" stop-color="#f4fcf3"/><stop offset="0.25" stop-color="#f4fcf3"/><stop offset="0.27" stop-color="#e5f6e2"/><stop offset="0.29" stop-color="#daf2d5"/><stop offset="0.31" stop-color="#bee6b8"/><stop offset="0.34" stop-color="#bee6b8"/><stop offset="0.36" stop-color="#cdecc7"/><stop offset="0.37" stop-color="#d7f1d2"/><stop offset="0.41" stop-color="#d7f1d2"/><stop offset="0.42" stop-color="#daf2d5"/><stop offset="0.44" stop-color="#f2fbf0"/><stop offset="0.46" stop-color="#def3d9"/><stop offset="0.47" stop-color="#d7f1d1"/><stop offset="0.49" stop-color="#9bd897"/><stop offset="0.51" stop-color="#9ad795"/><stop offset="0.53" stop-color="#9fd99a"/><stop offset="0.54" stop-color="#9fd99a"/><stop offset="0.56" stop-color="#9ed999"/><stop offset="0.58" stop-color="#9ed899"/><stop offset="0.59" stop-color="#9dd898"/><stop offset="0.63" stop-color="#9dd898"/><stop offset="0.64" stop-color="#6bc06e"/><stop offset="0.76" stop-color="#6bc06e"/><stop offset="0.78" stop-color="#69bf6d"/><stop offset="0.8" stop-color="#5db665"/><stop offset="0.81" stop-color="#52ab5d"/><stop offset="0.83" stop-color="#63ba69"/><stop offset="0.85" stop-color="#72c573"/><stop offset="0.86" stop-color="#78c977"/><stop offset="0.88" stop-color="#7ecc7c"/><stop offset="0.9" stop-color="#85cf82"/><stop offset="0.92" stop-color="#8bd188"/><stop offset="0.93" stop-color="#91d48d"/><stop offset="0.95" stop-color="#96d592"/><stop offset="0.97" stop-color="#99d795"/><stop offset="0.98" stop-color="#9bd796"/><stop offset="1" stop-color="#9bd796"/></linearGradient><linearGradient id="clipB54" gradientUnits="userSpaceOnUse" x1="54.2" y1="0" x2="349.2" y2="0"><stop offset="0" stop-color="#f4fcf3"/><stop offset="0.02" stop-color="#f4fcf3"/><stop offset="0.03" stop-color="#f4fbf2"/><stop offset="0.05" stop-color="#eff9ec"/><stop offset="0.12" stop-color="#eff9ec"/><stop offset="0.14" stop-color="#f3fbf1"/><stop offset="0.15" stop-color="#f4fbf2"/><stop offset="0.24" stop-color="#f4fbf2"/><stop offset="0.25" stop-color="#f4fcf3"/><stop offset="0.27" stop-color="#e3f5de"/><stop offset="0.29" stop-color="#d6f0d1"/><stop offset="0.31" stop-color="#b9e4b3"/><stop offset="0.32" stop-color="#b9e4b3"/><stop offset="0.34" stop-color="#b8e4b3"/><stop offset="0.36" stop-color="#caebc5"/><stop offset="0.37" stop-color="#d6f0d1"/><stop offset="0.41" stop-color="#d6f0d1"/><stop offset="0.42" stop-color="#d9f2d4"/><stop offset="0.44" stop-color="#f1faef"/><stop offset="0.46" stop-color="#ddf3d8"/><stop offset="0.47" stop-color="#d6f0d0"/><stop offset="0.49" stop-color="#98d694"/><stop offset="0.51" stop-color="#96d692"/><stop offset="0.53" stop-color="#9bd897"/><stop offset="0.54" stop-color="#9bd897"/><stop offset="0.56" stop-color="#9bd796"/><stop offset="0.58" stop-color="#9bd796"/><stop offset="0.59" stop-color="#9ad795"/><stop offset="0.63" stop-color="#9ad795"/><stop offset="0.64" stop-color="#68be6c"/><stop offset="0.66" stop-color="#69be6d"/><stop offset="0.76" stop-color="#69be6d"/><stop offset="0.78" stop-color="#67bd6c"/><stop offset="0.8" stop-color="#5bb463"/><stop offset="0.81" stop-color="#50a95b"/><stop offset="0.83" stop-color="#61b967"/><stop offset="0.85" stop-color="#70c372"/><stop offset="0.86" stop-color="#76c776"/><stop offset="0.88" stop-color="#7ccb7a"/><stop offset="0.9" stop-color="#83ce80"/><stop offset="0.92" stop-color="#89d086"/><stop offset="0.93" stop-color="#8fd38b"/><stop offset="0.95" stop-color="#94d490"/><stop offset="0.97" stop-color="#97d693"/><stop offset="0.98" stop-color="#98d694"/><stop offset="1" stop-color="#98d694"/></linearGradient><linearGradient id="clipB55" gradientUnits="userSpaceOnUse" x1="54.2" y1="0" x2="349.2" y2="0"><stop offset="0" stop-color="#f4fcf3"/><stop offset="0.02" stop-color="#f4fcf3"/><stop offset="0.03" stop-color="#f4fbf2"/><stop offset="0.05" stop-color="#eef9ec"/><stop offset="0.12" stop-color="#eef9ec"/><stop offset="0.14" stop-color="#f3fbf1"/><stop offset="0.15" stop-color="#f4fbf2"/><stop offset="0.24" stop-color="#f4fbf2"/><stop offset="0.25" stop-color="#f4fcf3"/><stop offset="0.27" stop-color="#e0f4dc"/><stop offset="0.29" stop-color="#d3efce"/><stop offset="0.31" stop-color="#b5e2af"/><stop offset="0.34" stop-color="#b5e2af"/><stop offset="0.36" stop-color="#c9ebc4"/><stop offset="0.37" stop-color="#d7f1d2"/><stop offset="0.41" stop-color="#d7f1d2"/><stop offset="0.42" stop-color="#d9f2d4"/><stop offset="0.44" stop-color="#f2faef"/><stop offset="0.46" stop-color="#ddf3d9"/><stop offset="0.47" stop-color="#d6f0d1"/><stop offset="0.49" stop-color="#99d795"/><stop offset="0.51" stop-color="#97d693"/><stop offset="0.53" stop-color="#9cd897"/><stop offset="0.56" stop-color="#9cd897"/><stop offset="0.58" stop-color="#9bd897"/><stop offset="0.59" stop-color="#9bd796"/><stop offset="0.61" stop-color="#9bd796"/><stop offset="0.63" stop-color="#9ad796"/><stop offset="0.64" stop-color="#69bf6d"/><stop offset="0.66" stop-color="#6abf6e"/><stop offset="0.76" stop-color="#6abf6e"/><stop offset="0.78" stop-color="#69be6d"/><stop offset="0.8" stop-color="#5db664"/><stop offset="0.81" stop-color="#52ab5c"/><stop offset="0.83" stop-color="#62ba68"/><stop offset="0.85" stop-color="#72c473"/><stop offset="0.86" stop-color="#78c877"/><stop offset="0.88" stop-color="#7ecc7c"/><stop offset="0.9" stop-color="#84ce82"/><stop offset="0.92" stop-color="#8bd188"/><stop offset="0.93" stop-color="#91d38d"/><stop offset="0.95" stop-color="#95d591"/><stop offset="0.97" stop-color="#99d694"/><stop offset="0.98" stop-color="#9ad796"/><stop offset="1" stop-color="#9ad796"/></linearGradient><linearGradient id="clipB56" gradientUnits="userSpaceOnUse" x1="54.2" y1="0" x2="349.2" y2="0"><stop offset="0" stop-color="#f4fbf2"/><stop offset="0.02" stop-color="#f4fbf2"/><stop offset="0.03" stop-color="#f3fbf1"/><stop offset="0.05" stop-color="#ecf8e9"/><stop offset="0.12" stop-color="#ecf8e9"/><stop offset="0.14" stop-color="#f2fbf0"/><stop offset="0.15" stop-color="#f3fbf1"/><stop offset="0.24" stop-color="#f3fbf1"/><stop offset="0.25" stop-color="#f3fbf2"/><stop offset="0.27" stop-color="#d9f2d4"/><stop offset="0.29" stop-color="#c9ebc3"/><stop offset="0.31" stop-color="#a6dca0"/><stop offset="0.32" stop-color="#a6dca0"/><stop offset="0.34" stop-color="#a5dca0"/><stop offset="0.36" stop-color="#c2e8bc"/><stop offset="0.37" stop-color="#d3efcd"/><stop offset="0.41" stop-color="#d3efcd"/><stop offset="0.42" stop-color="#d5f0d0"/><stop offset="0.44" stop-color="#f1faef"/><stop offset="0.46" stop-color="#dbf2d6"/><stop offset="0.47" stop-color="#d2eecc"/><stop offset="0.49" stop-color="#8dd28a"/><stop offset="0.51" stop-color="#8bd187"/><stop offset="0.53" stop-color="#90d38c"/><stop offset="0.56" stop-color="#90d38c"/><stop offset="0.58" stop-color="#8fd38c"/><stop offset="0.59" stop-color="#8fd38c"/><stop offset="0.61" stop-color="#8fd38b"/><stop offset="0.63" stop-color="#8dd28a"/><stop offset="0.64" stop-color="#5eb765"/><stop offset="0.66" stop-color="#5fb866"/><stop offset="0.76" stop-color="#5fb866"/><stop offset="0.78" stop-color="#5eb765"/><stop offset="0.8" stop-color="#54ad5e"/><stop offset="0.81" stop-color="#49a256"/><stop offset="0.83" stop-color="#59b262"/><stop offset="0.85" stop-color="#67bd6b"/><stop offset="0.86" stop-color="#6dc170"/><stop offset="0.88" stop-color="#73c574"/><stop offset="0.9" stop-color="#78c978"/><stop offset="0.92" stop-color="#7fcc7c"/><stop offset="0.93" stop-color="#85cf82"/><stop offset="0.95" stop-color="#8ad187"/><stop offset="0.97" stop-color="#8dd28a"/><stop offset="0.98" stop-color="#8fd38b"/><stop offset="1" stop-color="#8fd38b"/></linearGradient><linearGradient id="clipB57" gradientUnits="userSpaceOnUse" x1="54.2" y1="0" x2="349.2" y2="0"><stop offset="0" stop-color="#f4fbf2"/><stop offset="0.02" stop-color="#f4fbf2"/><stop offset="0.03" stop-color="#f3fbf1"/><stop offset="0.05" stop-color="#eaf8e7"/><stop offset="0.12" stop-color="#eaf8e7"/><stop offset="0.14" stop-color="#f1faef"/><stop offset="0.15" stop-color="#f2fbf0"/><stop offset="0.17" stop-color="#f2faef"/><stop offset="0.22" stop-color="#f2faef"/><stop offset="0.24" stop-color="#f2fbf0"/><stop offset="0.25" stop-color="#f3fbf1"/><stop offset="0.27" stop-color="#d2eecc"/><stop offset="0.29" stop-color="#c1e7bb"/><stop offset="0.31" stop-color="#99d795"/><stop offset="0.32" stop-color="#99d794"/><stop offset="0.34" stop-color="#99d694"/><stop offset="0.36" stop-color="#bbe5b6"/><stop offset="0.37" stop-color="#d1eecc"/><stop offset="0.39" stop-color="#d1eecb"/><stop offset="0.41" stop-color="#d1eecb"/><stop offset="0.42" stop-color="#d4efce"/><stop offset="0.44" stop-color="#f1faee"/><stop offset="0.46" stop-color="#d9f2d4"/><stop offset="0.47" stop-color="#d0eecb"/><stop offset="0.49" stop-color="#89d086"/><stop offset="0.51" stop-color="#86cf83"/><stop offset="0.53" stop-color="#8bd188"/><stop offset="0.54" stop-color="#8bd187"/><stop offset="0.56" stop-color="#8bd188"/><stop offset="0.58" stop-color="#8bd188"/><stop offset="0.59" stop-color="#8bd187"/><stop offset="0.61" stop-color="#8ad187"/><stop offset="0.63" stop-color="#87cf84"/><stop offset="0.64" stop-color="#59b262"/><stop offset="0.66" stop-color="#5cb564"/><stop offset="0.76" stop-color="#5cb564"/><stop offset="0.78" stop-color="#5bb463"/><stop offset="0.8" stop-color="#51aa5c"/><stop offset="0.81" stop-color="#469e54"/><stop offset="0.83" stop-color="#55ae5f"/><stop offset="0.85" stop-color="#63bb69"/><stop offset="0.86" stop-color="#69bf6d"/><stop offset="0.88" stop-color="#6fc271"/><stop offset="0.9" stop-color="#75c675"/><stop offset="0.92" stop-color="#7aca79"/><stop offset="0.93" stop-color="#80cd7e"/><stop offset="0.95" stop-color="#86cf83"/><stop offset="0.97" stop-color="#89d086"/><stop offset="0.98" stop-color="#8bd188"/><stop offset="1" stop-color="#8bd188"/></linearGradient><linearGradient id="clipB58" gradientUnits="userSpaceOnUse" x1="54.2" y1="0" x2="349.2" y2="0"><stop offset="0" stop-color="#f4fcf3"/><stop offset="0.02" stop-color="#f4fcf3"/><stop offset="0.03" stop-color="#f3fbf1"/><stop offset="0.05" stop-color="#ebf8e8"/><stop offset="0.12" stop-color="#ebf8e8"/><stop offset="0.14" stop-color="#f2fbf0"/><stop offset="0.15" stop-color="#f1faef"/><stop offset="0.22" stop-color="#f1faef"/><stop offset="0.24" stop-color="#f2fbf0"/><stop offset="0.25" stop-color="#f3fbf1"/><stop offset="0.27" stop-color="#d1eecc"/><stop offset="0.29" stop-color="#c1e8bb"/><stop offset="0.31" stop-color="#9cd897"/><stop offset="0.32" stop-color="#9cd897"/><stop offset="0.34" stop-color="#9bd897"/><stop offset="0.36" stop-color="#c0e7ba"/><stop offset="0.37" stop-color="#d7f1d2"/><stop offset="0.41" stop-color="#d7f1d2"/><stop offset="0.42" stop-color="#d9f2d4"/><stop offset="0.44" stop-color="#f1faef"/><stop offset="0.46" stop-color="#ddf3d9"/><stop offset="0.47" stop-color="#d6f0d1"/><stop offset="0.49" stop-color="#98d694"/><stop offset="0.51" stop-color="#96d591"/><stop offset="0.53" stop-color="#9ad795"/><stop offset="0.54" stop-color="#9ad795"/><stop offset="0.56" stop-color="#9ad796"/><stop offset="0.59" stop-color="#9ad796"/><stop offset="0.61" stop-color="#9ad795"/><stop offset="0.63" stop-color="#94d590"/><stop offset="0.64" stop-color="#65bc6a"/><stop offset="0.66" stop-color="#6bc06e"/><stop offset="0.76" stop-color="#6bc06e"/><stop offset="0.78" stop-color="#6abf6d"/><stop offset="0.8" stop-color="#5db665"/><stop offset="0.81" stop-color="#52ab5d"/><stop offset="0.83" stop-color="#63bb69"/><stop offset="0.85" stop-color="#72c573"/><stop offset="0.86" stop-color="#79c978"/><stop offset="0.88" stop-color="#7fcc7c"/><stop offset="0.9" stop-color="#85cf83"/><stop offset="0.92" stop-color="#8cd188"/><stop offset="0.93" stop-color="#92d48e"/><stop offset="0.95" stop-color="#96d592"/><stop offset="0.97" stop-color="#9ad795"/><stop offset="0.98" stop-color="#9bd796"/><stop offset="1" stop-color="#9bd796"/></linearGradient><linearGradient id="clipB59" gradientUnits="userSpaceOnUse" x1="54.2" y1="0" x2="349.2" y2="0"><stop offset="0" stop-color="#f4fcf3"/><stop offset="0.02" stop-color="#f4fcf3"/><stop offset="0.03" stop-color="#f3fbf1"/><stop offset="0.05" stop-color="#e8f7e4"/><stop offset="0.12" stop-color="#e8f7e4"/><stop offset="0.14" stop-color="#f1faee"/><stop offset="0.15" stop-color="#effaed"/><stop offset="0.17" stop-color="#eff9ec"/><stop offset="0.22" stop-color="#eff9ec"/><stop offset="0.24" stop-color="#f0faee"/><stop offset="0.25" stop-color="#f2fbf0"/><stop offset="0.27" stop-color="#c8eac2"/><stop offset="0.29" stop-color="#b4e2af"/><stop offset="0.31" stop-color="#8ad087"/><stop offset="0.32" stop-color="#89d086"/><stop offset="0.34" stop-color="#88d085"/><stop offset="0.36" stop-color="#aedfa9"/><stop offset="0.37" stop-color="#ceedc9"/><stop offset="0.39" stop-color="#ceedc8"/><stop offset="0.41" stop-color="#ceedc8"/><stop offset="0.42" stop-color="#d0eeca"/><stop offset="0.44" stop-color="#edf9ea"/><stop offset="0.46" stop-color="#dcf3d7"/><stop offset="0.47" stop-color="#d4efce"/><stop offset="0.49" stop-color="#93d48f"/><stop offset="0.51" stop-color="#90d38c"/><stop offset="0.53" stop-color="#93d48f"/><stop offset="0.54" stop-color="#92d48e"/><stop offset="0.56" stop-color="#94d590"/><stop offset="0.58" stop-color="#95d591"/><stop offset="0.59" stop-color="#95d591"/><stop offset="0.61" stop-color="#94d590"/><stop offset="0.63" stop-color="#8ad187"/><stop offset="0.64" stop-color="#5cb564"/><stop offset="0.66" stop-color="#65bc6a"/><stop offset="0.68" stop-color="#66bd6b"/><stop offset="0.76" stop-color="#66bd6b"/><stop offset="0.78" stop-color="#65bc6a"/><stop offset="0.8" stop-color="#59b262"/><stop offset="0.81" stop-color="#4ea75a"/><stop offset="0.83" stop-color="#5eb766"/><stop offset="0.85" stop-color="#6ec270"/><stop offset="0.86" stop-color="#74c674"/><stop offset="0.88" stop-color="#79c978"/><stop offset="0.9" stop-color="#80cc7d"/><stop offset="0.92" stop-color="#86cf83"/><stop offset="0.93" stop-color="#8cd189"/><stop offset="0.95" stop-color="#91d38d"/><stop offset="0.97" stop-color="#94d590"/><stop offset="0.98" stop-color="#96d592"/><stop offset="1" stop-color="#96d592"/></linearGradient><linearGradient id="clipB60" gradientUnits="userSpaceOnUse" x1="54.2" y1="0" x2="349.2" y2="0"><stop offset="0" stop-color="#f4fbf2"/><stop offset="0.02" stop-color="#f4fbf2"/><stop offset="0.03" stop-color="#f2fbf0"/><stop offset="0.05" stop-color="#e3f5df"/><stop offset="0.12" stop-color="#e3f5df"/><stop offset="0.14" stop-color="#eff9ec"/><stop offset="0.15" stop-color="#ebf8e8"/><stop offset="0.17" stop-color="#eaf8e7"/><stop offset="0.22" stop-color="#eaf8e7"/><stop offset="0.24" stop-color="#edf9ea"/><stop offset="0.25" stop-color="#f1faee"/><stop offset="0.27" stop-color="#b9e4b3"/><stop offset="0.29" stop-color="#a4db9e"/><stop offset="0.31" stop-color="#78c977"/><stop offset="0.32" stop-color="#78c877"/><stop offset="0.34" stop-color="#76c776"/><stop offset="0.36" stop-color="#82ce80"/><stop offset="0.37" stop-color="#9fd99a"/><stop offset="0.39" stop-color="#9ed899"/><stop offset="0.41" stop-color="#9ed899"/><stop offset="0.42" stop-color="#9fd99a"/><stop offset="0.44" stop-color="#b6e3b0"/><stop offset="0.46" stop-color="#acdfa7"/><stop offset="0.47" stop-color="#acdfa7"/><stop offset="0.49" stop-color="#86cf83"/><stop offset="0.51" stop-color="#82ce80"/><stop offset="0.53" stop-color="#84ce81"/><stop offset="0.54" stop-color="#81cd7f"/><stop offset="0.56" stop-color="#86cf83"/><stop offset="0.58" stop-color="#88d085"/><stop offset="0.59" stop-color="#88d085"/><stop offset="0.61" stop-color="#87d084"/><stop offset="0.63" stop-color="#78c877"/><stop offset="0.64" stop-color="#4ea75a"/><stop offset="0.66" stop-color="#5bb463"/><stop offset="0.68" stop-color="#5cb564"/><stop offset="0.76" stop-color="#5cb564"/><stop offset="0.78" stop-color="#5bb463"/><stop offset="0.8" stop-color="#50a95c"/><stop offset="0.81" stop-color="#469e54"/><stop offset="0.83" stop-color="#55ae5f"/><stop offset="0.85" stop-color="#63ba68"/><stop offset="0.86" stop-color="#69be6d"/><stop offset="0.88" stop-color="#6ec271"/><stop offset="0.9" stop-color="#74c675"/><stop offset="0.92" stop-color="#7aca79"/><stop offset="0.93" stop-color="#80cd7e"/><stop offset="0.95" stop-color="#85cf82"/><stop offset="0.97" stop-color="#89d086"/><stop offset="0.98" stop-color="#8ad187"/><stop offset="1" stop-color="#8bd187"/></linearGradient><linearGradient id="clipB61" gradientUnits="userSpaceOnUse" x1="54.2" y1="0" x2="349.2" y2="0"><stop offset="0" stop-color="#f4fcf3"/><stop offset="0.02" stop-color="#f4fcf3"/><stop offset="0.03" stop-color="#f2fbf0"/><stop offset="0.05" stop-color="#e2f5de"/><stop offset="0.12" stop-color="#e2f5de"/><stop offset="0.14" stop-color="#eff9ec"/><stop offset="0.15" stop-color="#e8f7e4"/><stop offset="0.17" stop-color="#e7f7e3"/><stop offset="0.22" stop-color="#e7f7e3"/><stop offset="0.24" stop-color="#ebf8e7"/><stop offset="0.25" stop-color="#f0faed"/><stop offset="0.27" stop-color="#b7e3b1"/><stop offset="0.29" stop-color="#a6dca1"/><stop offset="0.31" stop-color="#81cd7f"/><stop offset="0.32" stop-color="#80cd7e"/><stop offset="0.34" stop-color="#7ecc7b"/><stop offset="0.36" stop-color="#74c574"/><stop offset="0.37" stop-color="#85ce82"/><stop offset="0.39" stop-color="#83ce80"/><stop offset="0.41" stop-color="#83ce80"/><stop offset="0.42" stop-color="#82cd80"/><stop offset="0.44" stop-color="#72c473"/><stop offset="0.46" stop-color="#66bc6a"/><stop offset="0.47" stop-color="#66bc6a"/><stop offset="0.49" stop-color="#65bc6a"/><stop offset="0.51" stop-color="#8bd188"/><stop offset="0.53" stop-color="#89d086"/><stop offset="0.54" stop-color="#84ce82"/><stop offset="0.56" stop-color="#8dd28a"/><stop offset="0.58" stop-color="#91d48d"/><stop offset="0.59" stop-color="#92d48e"/><stop offset="0.61" stop-color="#90d38d"/><stop offset="0.63" stop-color="#7aca79"/><stop offset="0.64" stop-color="#51aa5c"/><stop offset="0.66" stop-color="#64bb6a"/><stop offset="0.68" stop-color="#66bd6b"/><stop offset="0.76" stop-color="#66bd6b"/><stop offset="0.78" stop-color="#65bc6a"/><stop offset="0.8" stop-color="#59b262"/><stop offset="0.81" stop-color="#4ea75a"/><stop offset="0.83" stop-color="#5eb765"/><stop offset="0.85" stop-color="#6dc170"/><stop offset="0.86" stop-color="#74c574"/><stop offset="0.88" stop-color="#79c978"/><stop offset="0.9" stop-color="#7fcc7d"/><stop offset="0.92" stop-color="#86cf83"/><stop offset="0.93" stop-color="#8cd188"/><stop offset="0.95" stop-color="#91d38d"/><stop offset="0.97" stop-color="#94d590"/><stop offset="0.98" stop-color="#96d591"/><stop offset="1" stop-color="#96d592"/></linearGradient><linearGradient id="clipB62" gradientUnits="userSpaceOnUse" x1="54.2" y1="0" x2="349.2" y2="0"><stop offset="0" stop-color="#f4fbf2"/><stop offset="0.02" stop-color="#f4fbf2"/><stop offset="0.03" stop-color="#f1faef"/><stop offset="0.05" stop-color="#dcf3d8"/><stop offset="0.07" stop-color="#dcf3d7"/><stop offset="0.12" stop-color="#dcf3d7"/><stop offset="0.14" stop-color="#edf9e9"/><stop offset="0.15" stop-color="#dff4db"/><stop offset="0.17" stop-color="#def3d9"/><stop offset="0.22" stop-color="#def3d9"/><stop offset="0.24" stop-color="#e3f5df"/><stop offset="0.25" stop-color="#edf9ea"/><stop offset="0.27" stop-color="#a4db9f"/><stop offset="0.29" stop-color="#94d490"/><stop offset="0.31" stop-color="#71c473"/><stop offset="0.32" stop-color="#70c372"/><stop offset="0.34" stop-color="#6cc16f"/><stop offset="0.36" stop-color="#65bc6a"/><stop offset="0.37" stop-color="#7ecc7c"/><stop offset="0.39" stop-color="#7bca79"/><stop offset="0.41" stop-color="#7bca79"/><stop offset="0.42" stop-color="#78c877"/><stop offset="0.44" stop-color="#54ad5e"/><stop offset="0.46" stop-color="#40954f"/><stop offset="0.49" stop-color="#40954f"/><stop offset="0.51" stop-color="#58b161"/><stop offset="0.53" stop-color="#52ab5d"/><stop offset="0.54" stop-color="#4da659"/><stop offset="0.56" stop-color="#58b161"/><stop offset="0.58" stop-color="#5db664"/><stop offset="0.59" stop-color="#5db665"/><stop offset="0.61" stop-color="#5cb564"/><stop offset="0.63" stop-color="#48a155"/><stop offset="0.64" stop-color="#429951"/><stop offset="0.66" stop-color="#58b161"/><stop offset="0.68" stop-color="#5ab363"/><stop offset="0.76" stop-color="#5ab363"/><stop offset="0.78" stop-color="#59b262"/><stop offset="0.8" stop-color="#4fa85a"/><stop offset="0.81" stop-color="#449c53"/><stop offset="0.83" stop-color="#54ad5e"/><stop offset="0.85" stop-color="#61b967"/><stop offset="0.86" stop-color="#67bd6b"/><stop offset="0.88" stop-color="#6cc16f"/><stop offset="0.9" stop-color="#72c573"/><stop offset="0.92" stop-color="#78c877"/><stop offset="0.93" stop-color="#7ecc7c"/><stop offset="0.95" stop-color="#83ce80"/><stop offset="0.97" stop-color="#87cf84"/><stop offset="0.98" stop-color="#88d085"/><stop offset="1" stop-color="#89d086"/></linearGradient><linearGradient id="clipB63" gradientUnits="userSpaceOnUse" x1="54.2" y1="0" x2="349.2" y2="0"><stop offset="0" stop-color="#f4fcf3"/><stop offset="0.02" stop-color="#f4fcf3"/><stop offset="0.03" stop-color="#f2fbf0"/><stop offset="0.05" stop-color="#def3d9"/><stop offset="0.07" stop-color="#ddf3d8"/><stop offset="0.12" stop-color="#ddf3d8"/><stop offset="0.14" stop-color="#eef9eb"/><stop offset="0.15" stop-color="#ddf3d8"/><stop offset="0.17" stop-color="#dcf3d7"/><stop offset="0.22" stop-color="#dcf3d7"/><stop offset="0.24" stop-color="#e2f5dd"/><stop offset="0.25" stop-color="#ecf8e9"/><stop offset="0.27" stop-color="#acdea6"/><stop offset="0.29" stop-color="#9fd99a"/><stop offset="0.31" stop-color="#80cd7d"/><stop offset="0.32" stop-color="#7dcb7b"/><stop offset="0.34" stop-color="#78c877"/><stop offset="0.36" stop-color="#77c776"/><stop offset="0.37" stop-color="#94d590"/><stop offset="0.39" stop-color="#8fd38c"/><stop offset="0.41" stop-color="#8fd38c"/><stop offset="0.42" stop-color="#8ad187"/><stop offset="0.44" stop-color="#60b967"/><stop offset="0.46" stop-color="#52ab5d"/><stop offset="0.49" stop-color="#52ab5d"/><stop offset="0.51" stop-color="#65bc6a"/><stop offset="0.53" stop-color="#59b262"/><stop offset="0.54" stop-color="#51aa5c"/><stop offset="0.56" stop-color="#61ba68"/><stop offset="0.58" stop-color="#6abf6d"/><stop offset="0.59" stop-color="#6abf6e"/><stop offset="0.61" stop-color="#69be6d"/><stop offset="0.63" stop-color="#4ea75a"/><stop offset="0.64" stop-color="#49a256"/><stop offset="0.66" stop-color="#68be6c"/><stop offset="0.68" stop-color="#6bc06e"/><stop offset="0.76" stop-color="#6bc06e"/><stop offset="0.78" stop-color="#69bf6d"/><stop offset="0.8" stop-color="#5db665"/><stop offset="0.81" stop-color="#52ab5d"/><stop offset="0.83" stop-color="#63ba69"/><stop offset="0.85" stop-color="#72c573"/><stop offset="0.86" stop-color="#78c977"/><stop offset="0.88" stop-color="#7ecc7c"/><stop offset="0.9" stop-color="#85cf82"/><stop offset="0.92" stop-color="#8cd188"/><stop offset="0.93" stop-color="#91d38d"/><stop offset="0.95" stop-color="#96d592"/><stop offset="0.97" stop-color="#99d795"/><stop offset="0.98" stop-color="#9ad796"/><stop offset="1" stop-color="#9cd897"/></linearGradient><linearGradient id="clipB64" gradientUnits="userSpaceOnUse" x1="54.2" y1="0" x2="349.2" y2="0"><stop offset="0" stop-color="#f4fcf3"/><stop offset="0.02" stop-color="#f4fcf3"/><stop offset="0.03" stop-color="#f1faef"/><stop offset="0.05" stop-color="#d8f1d3"/><stop offset="0.07" stop-color="#d7f1d2"/><stop offset="0.12" stop-color="#d7f1d2"/><stop offset="0.14" stop-color="#ebf8e8"/><stop offset="0.15" stop-color="#d2efcd"/><stop offset="0.17" stop-color="#d0eeca"/><stop offset="0.22" stop-color="#d0eeca"/><stop offset="0.24" stop-color="#daf2d5"/><stop offset="0.25" stop-color="#e7f7e4"/><stop offset="0.27" stop-color="#9fd99a"/><stop offset="0.29" stop-color="#95d591"/><stop offset="0.31" stop-color="#7ccb7a"/><stop offset="0.32" stop-color="#79c978"/><stop offset="0.34" stop-color="#72c473"/><stop offset="0.36" stop-color="#76c776"/><stop offset="0.37" stop-color="#8dd289"/><stop offset="0.39" stop-color="#84ce81"/><stop offset="0.41" stop-color="#84ce81"/><stop offset="0.42" stop-color="#7bcb7a"/><stop offset="0.44" stop-color="#54ad5e"/><stop offset="0.46" stop-color="#53ac5d"/><stop offset="0.49" stop-color="#53ac5d"/><stop offset="0.51" stop-color="#59b262"/><stop offset="0.53" stop-color="#49a256"/><stop offset="0.54" stop-color="#419750"/><stop offset="0.56" stop-color="#53ac5e"/><stop offset="0.58" stop-color="#5cb564"/><stop offset="0.59" stop-color="#5db664"/><stop offset="0.61" stop-color="#5bb463"/><stop offset="0.63" stop-color="#419750"/><stop offset="0.64" stop-color="#40954f"/><stop offset="0.66" stop-color="#5fb866"/><stop offset="0.68" stop-color="#62ba68"/><stop offset="0.76" stop-color="#62ba68"/><stop offset="0.78" stop-color="#60b967"/><stop offset="0.8" stop-color="#56af5f"/><stop offset="0.81" stop-color="#4ba458"/><stop offset="0.83" stop-color="#5bb463"/><stop offset="0.85" stop-color="#69bf6d"/><stop offset="0.86" stop-color="#6fc371"/><stop offset="0.88" stop-color="#75c675"/><stop offset="0.9" stop-color="#7bca79"/><stop offset="0.92" stop-color="#81cd7f"/><stop offset="0.93" stop-color="#87cf84"/><stop offset="0.95" stop-color="#8cd189"/><stop offset="0.97" stop-color="#8fd38c"/><stop offset="0.98" stop-color="#91d38d"/><stop offset="1" stop-color="#93d48f"/></linearGradient><linearGradient id="clipB65" gradientUnits="userSpaceOnUse" x1="54.2" y1="0" x2="349.2" y2="0"><stop offset="0" stop-color="#f4fbf2"/><stop offset="0.02" stop-color="#f4fbf2"/><stop offset="0.03" stop-color="#f0faed"/><stop offset="0.05" stop-color="#d0eecb"/><stop offset="0.07" stop-color="#cfeeca"/><stop offset="0.12" stop-color="#cfeeca"/><stop offset="0.14" stop-color="#e8f7e4"/><stop offset="0.15" stop-color="#c4e9be"/><stop offset="0.17" stop-color="#c1e7bb"/><stop offset="0.22" stop-color="#c1e7bb"/><stop offset="0.24" stop-color="#ceedc9"/><stop offset="0.25" stop-color="#e1f5dd"/><stop offset="0.27" stop-color="#91d48e"/><stop offset="0.29" stop-color="#8bd187"/><stop offset="0.31" stop-color="#7bca79"/><stop offset="0.32" stop-color="#77c776"/><stop offset="0.34" stop-color="#6dc170"/><stop offset="0.36" stop-color="#76c776"/><stop offset="0.37" stop-color="#82ce80"/><stop offset="0.39" stop-color="#76c776"/><stop offset="0.41" stop-color="#76c776"/><stop offset="0.42" stop-color="#67bd6c"/><stop offset="0.44" stop-color="#439a51"/><stop offset="0.46" stop-color="#4ba458"/><stop offset="0.49" stop-color="#4ba458"/><stop offset="0.51" stop-color="#49a257"/><stop offset="0.53" stop-color="#3b8e4b"/><stop offset="0.54" stop-color="#338244"/><stop offset="0.56" stop-color="#439b52"/><stop offset="0.58" stop-color="#4ca558"/><stop offset="0.59" stop-color="#4ca559"/><stop offset="0.61" stop-color="#4ba458"/><stop offset="0.63" stop-color="#348345"/><stop offset="0.64" stop-color="#378848"/><stop offset="0.66" stop-color="#54ad5e"/><stop offset="0.68" stop-color="#57b060"/><stop offset="0.76" stop-color="#57b060"/><stop offset="0.78" stop-color="#56af5f"/><stop offset="0.8" stop-color="#4ba458"/><stop offset="0.81" stop-color="#429851"/><stop offset="0.83" stop-color="#50a95c"/><stop offset="0.85" stop-color="#5db665"/><stop offset="0.86" stop-color="#63bb69"/><stop offset="0.88" stop-color="#68be6d"/><stop offset="0.9" stop-color="#6ec270"/><stop offset="0.92" stop-color="#74c674"/><stop offset="0.93" stop-color="#79c978"/><stop offset="0.95" stop-color="#7dcc7b"/><stop offset="0.97" stop-color="#81cd7f"/><stop offset="0.98" stop-color="#83ce80"/><stop offset="1" stop-color="#86cf83"/></linearGradient><linearGradient id="clipB66" gradientUnits="userSpaceOnUse" x1="54.2" y1="0" x2="349.2" y2="0"><stop offset="0" stop-color="#f4fbf2"/><stop offset="0.02" stop-color="#f4fbf2"/><stop offset="0.03" stop-color="#effaed"/><stop offset="0.05" stop-color="#ccecc7"/><stop offset="0.07" stop-color="#cbecc6"/><stop offset="0.12" stop-color="#cbecc6"/><stop offset="0.14" stop-color="#e6f6e3"/><stop offset="0.15" stop-color="#b9e4b3"/><stop offset="0.17" stop-color="#b5e2af"/><stop offset="0.22" stop-color="#b5e2af"/><stop offset="0.24" stop-color="#c6eac0"/><stop offset="0.25" stop-color="#ddf3d9"/><stop offset="0.27" stop-color="#8ed28a"/><stop offset="0.29" stop-color="#8ad187"/><stop offset="0.31" stop-color="#83ce80"/><stop offset="0.32" stop-color="#7ccb7a"/><stop offset="0.34" stop-color="#70c371"/><stop offset="0.36" stop-color="#95d591"/><stop offset="0.37" stop-color="#a9dda4"/><stop offset="0.39" stop-color="#97d692"/><stop offset="0.41" stop-color="#96d692"/><stop offset="0.42" stop-color="#76c776"/><stop offset="0.44" stop-color="#48a155"/><stop offset="0.46" stop-color="#429951"/><stop offset="0.47" stop-color="#429951"/><stop offset="0.49" stop-color="#429851"/><stop offset="0.51" stop-color="#40954f"/><stop offset="0.53" stop-color="#348345"/><stop offset="0.54" stop-color="#2e773e"/><stop offset="0.56" stop-color="#3b8e4b"/><stop offset="0.58" stop-color="#429850"/><stop offset="0.59" stop-color="#429951"/><stop offset="0.61" stop-color="#419750"/><stop offset="0.63" stop-color="#2e773e"/><stop offset="0.64" stop-color="#348445"/><stop offset="0.66" stop-color="#50a95b"/><stop offset="0.68" stop-color="#52ab5d"/><stop offset="0.76" stop-color="#52ab5d"/><stop offset="0.78" stop-color="#51aa5c"/><stop offset="0.8" stop-color="#47a055"/><stop offset="0.81" stop-color="#3e934e"/><stop offset="0.83" stop-color="#4ca558"/><stop offset="0.85" stop-color="#58b161"/><stop offset="0.86" stop-color="#5db665"/><stop offset="0.88" stop-color="#63ba69"/><stop offset="0.9" stop-color="#68be6d"/><stop offset="0.92" stop-color="#6ec270"/><stop offset="0.93" stop-color="#73c574"/><stop offset="0.95" stop-color="#77c877"/><stop offset="0.97" stop-color="#7aca79"/><stop offset="0.98" stop-color="#7ccb7a"/><stop offset="1" stop-color="#81cd7f"/></linearGradient><linearGradient id="clipB67" gradientUnits="userSpaceOnUse" x1="54.2" y1="0" x2="349.2" y2="0"><stop offset="0" stop-color="#f4fcf3"/><stop offset="0.02" stop-color="#f4fcf3"/><stop offset="0.03" stop-color="#f0faee"/><stop offset="0.05" stop-color="#d0eecb"/><stop offset="0.07" stop-color="#cfedca"/><stop offset="0.12" stop-color="#cfedca"/><stop offset="0.14" stop-color="#e8f7e5"/><stop offset="0.15" stop-color="#bbe5b5"/><stop offset="0.17" stop-color="#b7e3b1"/><stop offset="0.22" stop-color="#b7e3b1"/><stop offset="0.24" stop-color="#c8eac2"/><stop offset="0.25" stop-color="#def4da"/><stop offset="0.27" stop-color="#9dd898"/><stop offset="0.29" stop-color="#9cd897"/><stop offset="0.31" stop-color="#99d795"/><stop offset="0.32" stop-color="#92d48e"/><stop offset="0.34" stop-color="#80cd7e"/><stop offset="0.36" stop-color="#c8eac2"/><stop offset="0.37" stop-color="#e4f6e0"/><stop offset="0.39" stop-color="#d7f1d1"/><stop offset="0.41" stop-color="#d6f0d1"/><stop offset="0.42" stop-color="#b0e0aa"/><stop offset="0.44" stop-color="#70c372"/><stop offset="0.46" stop-color="#4ba458"/><stop offset="0.49" stop-color="#4ba458"/><stop offset="0.51" stop-color="#49a256"/><stop offset="0.53" stop-color="#3e934e"/><stop offset="0.54" stop-color="#398a49"/><stop offset="0.56" stop-color="#449c53"/><stop offset="0.58" stop-color="#4aa357"/><stop offset="0.59" stop-color="#4ba458"/><stop offset="0.61" stop-color="#49a257"/><stop offset="0.63" stop-color="#368747"/><stop offset="0.64" stop-color="#3e934e"/><stop offset="0.66" stop-color="#5ab362"/><stop offset="0.68" stop-color="#5cb564"/><stop offset="0.76" stop-color="#5cb564"/><stop offset="0.78" stop-color="#5bb463"/><stop offset="0.8" stop-color="#50a95c"/><stop offset="0.81" stop-color="#469e54"/><stop offset="0.83" stop-color="#55ae5f"/><stop offset="0.85" stop-color="#63ba68"/><stop offset="0.86" stop-color="#69be6d"/><stop offset="0.88" stop-color="#6ec270"/><stop offset="0.9" stop-color="#74c674"/><stop offset="0.92" stop-color="#79c978"/><stop offset="0.93" stop-color="#7ecc7c"/><stop offset="0.95" stop-color="#83ce81"/><stop offset="0.97" stop-color="#87cf84"/><stop offset="0.98" stop-color="#88d085"/><stop offset="1" stop-color="#8fd38b"/></linearGradient><linearGradient id="clipB68" gradientUnits="userSpaceOnUse" x1="54.2" y1="0" x2="349.2" y2="0"><stop offset="0" stop-color="#f4fbf2"/><stop offset="0.02" stop-color="#f4fbf2"/><stop offset="0.03" stop-color="#effaed"/><stop offset="0.05" stop-color="#caebc5"/><stop offset="0.07" stop-color="#c9ebc3"/><stop offset="0.12" stop-color="#c9ebc3"/><stop offset="0.14" stop-color="#e6f6e2"/><stop offset="0.15" stop-color="#aedfa9"/><stop offset="0.17" stop-color="#a9dda4"/><stop offset="0.22" stop-color="#a9dda4"/><stop offset="0.24" stop-color="#bee6b8"/><stop offset="0.25" stop-color="#daf2d5"/><stop offset="0.27" stop-color="#95d591"/><stop offset="0.29" stop-color="#95d591"/><stop offset="0.31" stop-color="#94d590"/><stop offset="0.32" stop-color="#8ad187"/><stop offset="0.34" stop-color="#75c675"/><stop offset="0.36" stop-color="#d3efce"/><stop offset="0.37" stop-color="#f2fbf1"/><stop offset="0.39" stop-color="#e5f6e1"/><stop offset="0.41" stop-color="#e5f6e1"/><stop offset="0.42" stop-color="#b3e2ae"/><stop offset="0.44" stop-color="#7fcc7d"/><stop offset="0.46" stop-color="#6bc06f"/><stop offset="0.49" stop-color="#6bc06f"/><stop offset="0.51" stop-color="#6abf6d"/><stop offset="0.53" stop-color="#5fb866"/><stop offset="0.54" stop-color="#5ab362"/><stop offset="0.56" stop-color="#66bc6b"/><stop offset="0.58" stop-color="#6bc06e"/><stop offset="0.59" stop-color="#6bc06f"/><stop offset="0.61" stop-color="#6abf6e"/><stop offset="0.63" stop-color="#54ad5e"/><stop offset="0.64" stop-color="#40954f"/><stop offset="0.66" stop-color="#57b060"/><stop offset="0.68" stop-color="#59b262"/><stop offset="0.75" stop-color="#59b262"/><stop offset="0.76" stop-color="#59b261"/><stop offset="0.78" stop-color="#58b161"/><stop offset="0.8" stop-color="#4ea75a"/><stop offset="0.81" stop-color="#459d53"/><stop offset="0.83" stop-color="#53ac5d"/><stop offset="0.85" stop-color="#5eb765"/><stop offset="0.86" stop-color="#64bb69"/><stop offset="0.88" stop-color="#69be6d"/><stop offset="0.9" stop-color="#6ec270"/><stop offset="0.92" stop-color="#73c574"/><stop offset="0.93" stop-color="#77c877"/><stop offset="0.95" stop-color="#7bcb7a"/><stop offset="0.97" stop-color="#7ecc7c"/><stop offset="0.98" stop-color="#80cd7e"/><stop offset="1" stop-color="#8ad086"/></linearGradient><linearGradient id="clipB69" gradientUnits="userSpaceOnUse" x1="54.2" y1="0" x2="349.2" y2="0"><stop offset="0" stop-color="#f4fcf3"/><stop offset="0.02" stop-color="#f4fcf3"/><stop offset="0.03" stop-color="#f1faee"/><stop offset="0.05" stop-color="#d3efce"/><stop offset="0.07" stop-color="#d2efcd"/><stop offset="0.12" stop-color="#d2efcd"/><stop offset="0.14" stop-color="#e9f7e6"/><stop offset="0.15" stop-color="#bce5b6"/><stop offset="0.17" stop-color="#b8e3b2"/><stop offset="0.22" stop-color="#b8e3b2"/><stop offset="0.24" stop-color="#c8eac3"/><stop offset="0.25" stop-color="#dff4da"/><stop offset="0.27" stop-color="#addfa7"/><stop offset="0.29" stop-color="#addfa7"/><stop offset="0.31" stop-color="#acdfa7"/><stop offset="0.32" stop-color="#a3db9e"/><stop offset="0.34" stop-color="#8cd289"/><stop offset="0.36" stop-color="#dcf3d7"/><stop offset="0.37" stop-color="#f3fbf2"/><stop offset="0.39" stop-color="#e6f6e2"/><stop offset="0.41" stop-color="#e6f6e2"/><stop offset="0.42" stop-color="#b4e2af"/><stop offset="0.44" stop-color="#9ad795"/><stop offset="0.46" stop-color="#b3e1ad"/><stop offset="0.49" stop-color="#b3e1ad"/><stop offset="0.51" stop-color="#b2e1ac"/><stop offset="0.53" stop-color="#abdea6"/><stop offset="0.54" stop-color="#a8dda2"/><stop offset="0.56" stop-color="#afe0aa"/><stop offset="0.58" stop-color="#b2e1ad"/><stop offset="0.59" stop-color="#b3e1ad"/><stop offset="0.61" stop-color="#b2e1ac"/><stop offset="0.63" stop-color="#9ed999"/><stop offset="0.64" stop-color="#61b968"/><stop offset="0.66" stop-color="#79c978"/><stop offset="0.68" stop-color="#7bca79"/><stop offset="0.76" stop-color="#7bca79"/><stop offset="0.78" stop-color="#7ac978"/><stop offset="0.8" stop-color="#70c372"/><stop offset="0.81" stop-color="#66bc6b"/><stop offset="0.83" stop-color="#75c675"/><stop offset="0.85" stop-color="#81cd7f"/><stop offset="0.86" stop-color="#87cf84"/><stop offset="0.88" stop-color="#8cd188"/><stop offset="0.9" stop-color="#91d38d"/><stop offset="0.92" stop-color="#95d591"/><stop offset="0.93" stop-color="#9ad795"/><stop offset="0.95" stop-color="#9dd898"/><stop offset="0.97" stop-color="#a0d99b"/><stop offset="0.98" stop-color="#a1da9b"/><stop offset="1" stop-color="#aadea5"/></linearGradient><linearGradient id="clipB70" gradientUnits="userSpaceOnUse" x1="54.2" y1="0" x2="349.2" y2="0"><stop offset="0" stop-color="#f4fcf3"/><stop offset="0.02" stop-color="#f4fcf3"/><stop offset="0.03" stop-color="#f0faee"/><stop offset="0.05" stop-color="#d2efcd"/><stop offset="0.07" stop-color="#d1eecb"/><stop offset="0.12" stop-color="#d1eecb"/><stop offset="0.14" stop-color="#e9f7e5"/><stop offset="0.15" stop-color="#bbe5b5"/><stop offset="0.17" stop-color="#b7e3b1"/><stop offset="0.22" stop-color="#b7e3b1"/><stop offset="0.24" stop-color="#c7eac2"/><stop offset="0.25" stop-color="#def3da"/><stop offset="0.27" stop-color="#afe0a9"/><stop offset="0.31" stop-color="#afe0a9"/><stop offset="0.32" stop-color="#a4db9e"/><stop offset="0.34" stop-color="#89d086"/><stop offset="0.36" stop-color="#dcf3d7"/><stop offset="0.37" stop-color="#f3fbf1"/><stop offset="0.39" stop-color="#e2f5de"/><stop offset="0.41" stop-color="#e2f5de"/><stop offset="0.42" stop-color="#a7dca2"/><stop offset="0.44" stop-color="#8ad187"/><stop offset="0.46" stop-color="#abdea6"/><stop offset="0.49" stop-color="#abdea6"/><stop offset="0.51" stop-color="#abdea5"/><stop offset="0.53" stop-color="#a8dda2"/><stop offset="0.54" stop-color="#a6dca0"/><stop offset="0.56" stop-color="#aadda4"/><stop offset="0.58" stop-color="#abdea6"/><stop offset="0.59" stop-color="#abdea6"/><stop offset="0.61" stop-color="#abdea5"/><stop offset="0.63" stop-color="#9cd897"/><stop offset="0.64" stop-color="#77c877"/><stop offset="0.66" stop-color="#8bd188"/><stop offset="0.68" stop-color="#8dd289"/><stop offset="0.76" stop-color="#8dd289"/><stop offset="0.78" stop-color="#8cd188"/><stop offset="0.8" stop-color="#83ce80"/><stop offset="0.81" stop-color="#7aca79"/><stop offset="0.83" stop-color="#87cf84"/><stop offset="0.85" stop-color="#92d48e"/><stop offset="0.86" stop-color="#96d592"/><stop offset="0.88" stop-color="#9ad796"/><stop offset="0.9" stop-color="#9ed999"/><stop offset="0.92" stop-color="#a2da9d"/><stop offset="0.93" stop-color="#a5dca0"/><stop offset="0.95" stop-color="#a8dda2"/><stop offset="0.97" stop-color="#a9dda4"/><stop offset="0.98" stop-color="#aadea5"/><stop offset="1" stop-color="#b7e3b1"/></linearGradient><linearGradient id="clipB71" gradientUnits="userSpaceOnUse" x1="54.2" y1="0" x2="349.2" y2="0"><stop offset="0" stop-color="#f4fcf3"/><stop offset="0.02" stop-color="#f4fcf3"/><stop offset="0.03" stop-color="#f1faee"/><stop offset="0.05" stop-color="#d5f0d0"/><stop offset="0.07" stop-color="#d4f0cf"/><stop offset="0.12" stop-color="#d4f0cf"/><stop offset="0.14" stop-color="#eaf8e7"/><stop offset="0.15" stop-color="#c3e8bd"/><stop offset="0.17" stop-color="#bfe7b9"/><stop offset="0.22" stop-color="#bfe7b9"/><stop offset="0.24" stop-color="#cdecc7"/><stop offset="0.25" stop-color="#e1f4dd"/><stop offset="0.27" stop-color="#b8e4b3"/><stop offset="0.31" stop-color="#b8e4b3"/><stop offset="0.32" stop-color="#addfa7"/><stop offset="0.34" stop-color="#92d48e"/><stop offset="0.36" stop-color="#def3d9"/><stop offset="0.37" stop-color="#f3fbf1"/><stop offset="0.39" stop-color="#e1f5dd"/><stop offset="0.41" stop-color="#e1f4dd"/><stop offset="0.42" stop-color="#a3db9e"/><stop offset="0.44" stop-color="#84ce81"/><stop offset="0.46" stop-color="#a5dca0"/><stop offset="0.51" stop-color="#a5dca0"/><stop offset="0.53" stop-color="#a4db9f"/><stop offset="0.54" stop-color="#a3db9e"/><stop offset="0.56" stop-color="#a5dba0"/><stop offset="0.58" stop-color="#a5dca0"/><stop offset="0.61" stop-color="#a5dca0"/><stop offset="0.63" stop-color="#9cd897"/><stop offset="0.64" stop-color="#9bd897"/><stop offset="0.66" stop-color="#a9dda4"/><stop offset="0.68" stop-color="#aadea5"/><stop offset="0.76" stop-color="#aadea5"/><stop offset="0.78" stop-color="#a9dda4"/><stop offset="0.8" stop-color="#a4db9f"/><stop offset="0.81" stop-color="#9ed999"/><stop offset="0.83" stop-color="#a7dca1"/><stop offset="0.85" stop-color="#addfa8"/><stop offset="0.86" stop-color="#b0e0ab"/><stop offset="0.88" stop-color="#b3e1ad"/><stop offset="0.9" stop-color="#b5e2af"/><stop offset="0.92" stop-color="#b8e3b2"/><stop offset="0.93" stop-color="#bae4b4"/><stop offset="0.95" stop-color="#bce5b6"/><stop offset="0.97" stop-color="#bde6b7"/><stop offset="0.98" stop-color="#bde6b7"/><stop offset="1" stop-color="#c9ebc3"/></linearGradient><linearGradient id="clipB72" gradientUnits="userSpaceOnUse" x1="54.2" y1="0" x2="349.2" y2="0"><stop offset="0" stop-color="#f4fcf3"/><stop offset="0.02" stop-color="#f4fcf3"/><stop offset="0.03" stop-color="#f1faef"/><stop offset="0.05" stop-color="#dbf2d6"/><stop offset="0.12" stop-color="#dbf2d6"/><stop offset="0.14" stop-color="#ecf8e9"/><stop offset="0.15" stop-color="#ceedc8"/><stop offset="0.17" stop-color="#cbecc5"/><stop offset="0.22" stop-color="#cbecc5"/><stop offset="0.24" stop-color="#d6f0d1"/><stop offset="0.25" stop-color="#e6f6e2"/><stop offset="0.27" stop-color="#c5e9c0"/><stop offset="0.31" stop-color="#c5e9c0"/><stop offset="0.32" stop-color="#bce5b6"/><stop offset="0.34" stop-color="#a2da9d"/><stop offset="0.36" stop-color="#e2f5de"/><stop offset="0.37" stop-color="#f3fbf1"/><stop offset="0.39" stop-color="#e2f5de"/><stop offset="0.41" stop-color="#e2f5de"/><stop offset="0.42" stop-color="#a8dda3"/><stop offset="0.44" stop-color="#8bd187"/><stop offset="0.46" stop-color="#aadea5"/><stop offset="0.51" stop-color="#aadea5"/><stop offset="0.53" stop-color="#aadea4"/><stop offset="0.54" stop-color="#a9dda4"/><stop offset="0.56" stop-color="#aadea5"/><stop offset="0.61" stop-color="#aadea5"/><stop offset="0.63" stop-color="#a5dba0"/><stop offset="0.64" stop-color="#bfe7b9"/><stop offset="0.66" stop-color="#c6eac1"/><stop offset="0.68" stop-color="#c7eac1"/><stop offset="0.76" stop-color="#c7eac1"/><stop offset="0.78" stop-color="#c6eac1"/><stop offset="0.8" stop-color="#c4e9be"/><stop offset="0.81" stop-color="#c1e8bc"/><stop offset="0.83" stop-color="#c5e9bf"/><stop offset="0.85" stop-color="#c8eac2"/><stop offset="0.86" stop-color="#c9ebc4"/><stop offset="0.88" stop-color="#caebc5"/><stop offset="0.9" stop-color="#cbecc6"/><stop offset="0.92" stop-color="#ccecc7"/><stop offset="0.93" stop-color="#cdedc8"/><stop offset="0.95" stop-color="#ceedc9"/><stop offset="0.97" stop-color="#cfedc9"/><stop offset="0.98" stop-color="#cfedc9"/><stop offset="1" stop-color="#daf2d5"/></linearGradient><linearGradient id="clipB73" gradientUnits="userSpaceOnUse" x1="54.2" y1="0" x2="349.2" y2="0"><stop offset="0" stop-color="#f4fcf3"/><stop offset="0.02" stop-color="#f4fcf3"/><stop offset="0.03" stop-color="#f1faef"/><stop offset="0.05" stop-color="#dcf3d8"/><stop offset="0.07" stop-color="#dcf3d7"/><stop offset="0.12" stop-color="#dcf3d7"/><stop offset="0.14" stop-color="#edf9ea"/><stop offset="0.15" stop-color="#d3efce"/><stop offset="0.17" stop-color="#d1eecc"/><stop offset="0.22" stop-color="#d1eecc"/><stop offset="0.24" stop-color="#dbf2d6"/><stop offset="0.25" stop-color="#e8f7e4"/><stop offset="0.27" stop-color="#c9ebc4"/><stop offset="0.31" stop-color="#c9ebc4"/><stop offset="0.32" stop-color="#c0e7ba"/><stop offset="0.34" stop-color="#a6dca0"/><stop offset="0.36" stop-color="#e3f5df"/><stop offset="0.37" stop-color="#f3fbf1"/><stop offset="0.39" stop-color="#e1f5dd"/><stop offset="0.41" stop-color="#e1f4dd"/><stop offset="0.42" stop-color="#a4db9f"/><stop offset="0.44" stop-color="#86cf83"/><stop offset="0.46" stop-color="#a8dda2"/><stop offset="0.51" stop-color="#a8dda2"/><stop offset="0.53" stop-color="#a7dda2"/><stop offset="0.56" stop-color="#a7dda2"/><stop offset="0.58" stop-color="#a8dda2"/><stop offset="0.59" stop-color="#a8dda2"/><stop offset="0.61" stop-color="#a7dda2"/><stop offset="0.63" stop-color="#a5dba0"/><stop offset="0.64" stop-color="#ceedc9"/><stop offset="0.66" stop-color="#d3efce"/><stop offset="0.78" stop-color="#d3efce"/><stop offset="0.8" stop-color="#d2efcd"/><stop offset="0.81" stop-color="#d1eecc"/><stop offset="0.83" stop-color="#d3efcd"/><stop offset="0.85" stop-color="#d4efcf"/><stop offset="0.86" stop-color="#d4f0cf"/><stop offset="0.88" stop-color="#d5f0d0"/><stop offset="0.9" stop-color="#d5f0d0"/><stop offset="0.92" stop-color="#d6f0d0"/><stop offset="0.93" stop-color="#d6f0d1"/><stop offset="0.95" stop-color="#d6f0d1"/><stop offset="0.97" stop-color="#d6f1d1"/><stop offset="0.98" stop-color="#d7f1d1"/><stop offset="1" stop-color="#e1f5dd"/></linearGradient><linearGradient id="clipB74" gradientUnits="userSpaceOnUse" x1="54.2" y1="0" x2="349.2" y2="0"><stop offset="0" stop-color="#f4fcf3"/><stop offset="0.02" stop-color="#f4fcf3"/><stop offset="0.03" stop-color="#f2fbf0"/><stop offset="0.05" stop-color="#e1f4dd"/><stop offset="0.07" stop-color="#e0f4dc"/><stop offset="0.12" stop-color="#e0f4dc"/><stop offset="0.14" stop-color="#eff9ec"/><stop offset="0.15" stop-color="#ddf3d9"/><stop offset="0.17" stop-color="#dcf3d7"/><stop offset="0.22" stop-color="#dcf3d7"/><stop offset="0.24" stop-color="#e2f5de"/><stop offset="0.25" stop-color="#ecf8e9"/><stop offset="0.27" stop-color="#d2efcd"/><stop offset="0.31" stop-color="#d2efcd"/><stop offset="0.32" stop-color="#caebc5"/><stop offset="0.34" stop-color="#b5e2af"/><stop offset="0.36" stop-color="#e6f6e3"/><stop offset="0.37" stop-color="#f3fbf1"/><stop offset="0.39" stop-color="#e4f5e0"/><stop offset="0.41" stop-color="#e3f5df"/><stop offset="0.42" stop-color="#addfa8"/><stop offset="0.44" stop-color="#94d490"/><stop offset="0.46" stop-color="#b3e2ae"/><stop offset="0.61" stop-color="#b3e2ae"/><stop offset="0.63" stop-color="#b2e1ac"/><stop offset="0.64" stop-color="#dbf2d6"/><stop offset="0.66" stop-color="#ddf3d9"/><stop offset="0.8" stop-color="#ddf3d9"/><stop offset="0.81" stop-color="#ddf3d8"/><stop offset="0.83" stop-color="#ddf3d9"/><stop offset="0.93" stop-color="#ddf3d9"/><stop offset="0.95" stop-color="#def3d9"/><stop offset="0.98" stop-color="#def3d9"/><stop offset="1" stop-color="#e8f7e4"/></linearGradient><linearGradient id="clipB75" gradientUnits="userSpaceOnUse" x1="54.2" y1="0" x2="349.2" y2="0"><stop offset="0" stop-color="#f4fcf3"/><stop offset="0.02" stop-color="#f4fcf3"/><stop offset="0.03" stop-color="#f2fbf0"/><stop offset="0.05" stop-color="#e4f5e0"/><stop offset="0.07" stop-color="#e3f5df"/><stop offset="0.12" stop-color="#e3f5df"/><stop offset="0.14" stop-color="#effaed"/><stop offset="0.15" stop-color="#e3f5df"/><stop offset="0.17" stop-color="#e2f5de"/><stop offset="0.22" stop-color="#e2f5de"/><stop offset="0.24" stop-color="#e7f7e3"/><stop offset="0.25" stop-color="#eff9ec"/><stop offset="0.27" stop-color="#d8f1d3"/><stop offset="0.31" stop-color="#d8f1d3"/><stop offset="0.32" stop-color="#d1eecb"/><stop offset="0.34" stop-color="#bfe7b9"/><stop offset="0.36" stop-color="#e8f7e5"/><stop offset="0.37" stop-color="#f3fbf1"/><stop offset="0.39" stop-color="#e5f6e1"/><stop offset="0.41" stop-color="#e5f6e1"/><stop offset="0.42" stop-color="#b3e2ae"/><stop offset="0.44" stop-color="#9dd898"/><stop offset="0.46" stop-color="#bde6b7"/><stop offset="0.61" stop-color="#bde6b7"/><stop offset="0.63" stop-color="#bce5b6"/><stop offset="0.64" stop-color="#dcf3d7"/><stop offset="0.66" stop-color="#def3d9"/><stop offset="0.98" stop-color="#def3d9"/><stop offset="1" stop-color="#e8f7e4"/></linearGradient><linearGradient id="clipB76" gradientUnits="userSpaceOnUse" x1="54.2" y1="0" x2="349.2" y2="0"><stop offset="0" stop-color="#f4fbf2"/><stop offset="0.02" stop-color="#f4fbf2"/><stop offset="0.03" stop-color="#f2fbf0"/><stop offset="0.05" stop-color="#e4f6e0"/><stop offset="0.07" stop-color="#e4f5e0"/><stop offset="0.12" stop-color="#e4f5e0"/><stop offset="0.14" stop-color="#effaed"/><stop offset="0.15" stop-color="#e7f6e3"/><stop offset="0.17" stop-color="#e6f6e2"/><stop offset="0.22" stop-color="#e6f6e2"/><stop offset="0.24" stop-color="#eaf7e6"/><stop offset="0.25" stop-color="#effaed"/><stop offset="0.27" stop-color="#d9f2d4"/><stop offset="0.31" stop-color="#d9f2d4"/><stop offset="0.32" stop-color="#d2efcd"/><stop offset="0.34" stop-color="#c2e8bc"/><stop offset="0.36" stop-color="#e9f7e5"/><stop offset="0.37" stop-color="#f3fbf1"/><stop offset="0.39" stop-color="#e5f6e2"/><stop offset="0.41" stop-color="#e5f6e1"/><stop offset="0.42" stop-color="#b3e1ad"/><stop offset="0.44" stop-color="#9fd99a"/><stop offset="0.46" stop-color="#c1e7bb"/><stop offset="0.63" stop-color="#c1e7bb"/><stop offset="0.64" stop-color="#daf2d6"/><stop offset="0.66" stop-color="#dcf3d7"/><stop offset="0.98" stop-color="#dcf3d7"/><stop offset="1" stop-color="#e6f6e3"/></linearGradient><linearGradient id="clipB77" gradientUnits="userSpaceOnUse" x1="54.2" y1="0" x2="349.2" y2="0"><stop offset="0" stop-color="#f4fcf3"/><stop offset="0.02" stop-color="#f4fcf3"/><stop offset="0.03" stop-color="#f3fbf1"/><stop offset="0.05" stop-color="#e8f7e5"/><stop offset="0.07" stop-color="#e8f7e4"/><stop offset="0.12" stop-color="#e8f7e4"/><stop offset="0.14" stop-color="#f1faee"/><stop offset="0.15" stop-color="#edf9ea"/><stop offset="0.17" stop-color="#ecf8e9"/><stop offset="0.22" stop-color="#ecf8e9"/><stop offset="0.24" stop-color="#eff9ec"/><stop offset="0.25" stop-color="#f1faef"/><stop offset="0.27" stop-color="#dff4db"/><stop offset="0.31" stop-color="#dff4db"/><stop offset="0.32" stop-color="#dbf2d6"/><stop offset="0.34" stop-color="#ceedc9"/><stop offset="0.36" stop-color="#ecf8e9"/><stop offset="0.37" stop-color="#f3fbf2"/><stop offset="0.39" stop-color="#eaf8e6"/><stop offset="0.41" stop-color="#eaf7e6"/><stop offset="0.42" stop-color="#c5e9bf"/><stop offset="0.44" stop-color="#b6e3b1"/><stop offset="0.46" stop-color="#cfedca"/><stop offset="0.63" stop-color="#cfedca"/><stop offset="0.64" stop-color="#dff4da"/><stop offset="0.66" stop-color="#e0f4db"/><stop offset="0.98" stop-color="#e0f4db"/><stop offset="1" stop-color="#e9f7e6"/></linearGradient><linearGradient id="clipB78" gradientUnits="userSpaceOnUse" x1="54.2" y1="0" x2="349.2" y2="0"><stop offset="0" stop-color="#f4fcf3"/><stop offset="0.02" stop-color="#f4fcf3"/><stop offset="0.03" stop-color="#f3fbf1"/><stop offset="0.05" stop-color="#eaf8e7"/><stop offset="0.12" stop-color="#eaf8e7"/><stop offset="0.14" stop-color="#f1faef"/><stop offset="0.15" stop-color="#f0faed"/><stop offset="0.17" stop-color="#effaed"/><stop offset="0.22" stop-color="#effaed"/><stop offset="0.24" stop-color="#f0faee"/><stop offset="0.25" stop-color="#f2fbf0"/><stop offset="0.27" stop-color="#e2f5de"/><stop offset="0.31" stop-color="#e2f5de"/><stop offset="0.32" stop-color="#dff4da"/><stop offset="0.34" stop-color="#d6f0d0"/><stop offset="0.36" stop-color="#edf9ea"/><stop offset="0.37" stop-color="#f3fbf2"/><stop offset="0.39" stop-color="#edf8e9"/><stop offset="0.41" stop-color="#ecf8e9"/><stop offset="0.42" stop-color="#d2efcd"/><stop offset="0.44" stop-color="#c8ebc3"/><stop offset="0.46" stop-color="#d9f1d4"/><stop offset="0.63" stop-color="#d9f1d4"/><stop offset="0.64" stop-color="#e2f5de"/><stop offset="0.98" stop-color="#e2f5de"/><stop offset="1" stop-color="#ebf8e7"/></linearGradient><linearGradient id="clipB79" gradientUnits="userSpaceOnUse" x1="54.2" y1="0" x2="349.2" y2="0"><stop offset="0" stop-color="#f4fbf2"/><stop offset="0.02" stop-color="#f4fbf2"/><stop offset="0.03" stop-color="#f3fbf1"/><stop offset="0.05" stop-color="#ebf8e7"/><stop offset="0.07" stop-color="#eaf8e7"/><stop offset="0.12" stop-color="#eaf8e7"/><stop offset="0.14" stop-color="#f1faef"/><stop offset="0.15" stop-color="#f1faee"/><stop offset="0.17" stop-color="#f0faee"/><stop offset="0.22" stop-color="#f0faee"/><stop offset="0.24" stop-color="#f1faef"/><stop offset="0.25" stop-color="#f3fbf1"/><stop offset="0.27" stop-color="#e3f5de"/><stop offset="0.31" stop-color="#e3f5de"/><stop offset="0.32" stop-color="#e0f4db"/><stop offset="0.34" stop-color="#d9f2d4"/><stop offset="0.36" stop-color="#edf9ea"/><stop offset="0.37" stop-color="#f3fbf1"/><stop offset="0.39" stop-color="#eef9eb"/><stop offset="0.41" stop-color="#eef9eb"/><stop offset="0.42" stop-color="#ddf3d8"/><stop offset="0.44" stop-color="#d6f0d0"/><stop offset="0.46" stop-color="#def3d9"/><stop offset="0.63" stop-color="#def3d9"/><stop offset="0.64" stop-color="#e4f5e0"/><stop offset="0.66" stop-color="#e4f6e0"/><stop offset="0.98" stop-color="#e4f6e0"/><stop offset="1" stop-color="#ebf8e8"/></linearGradient><linearGradient id="clipB80" gradientUnits="userSpaceOnUse" x1="54.2" y1="0" x2="349.2" y2="0"><stop offset="0" stop-color="#f4fcf3"/><stop offset="0.02" stop-color="#f4fcf3"/><stop offset="0.03" stop-color="#f3fbf2"/><stop offset="0.05" stop-color="#eef9eb"/><stop offset="0.07" stop-color="#edf9ea"/><stop offset="0.12" stop-color="#edf9ea"/><stop offset="0.14" stop-color="#f2fbf0"/><stop offset="0.22" stop-color="#f2fbf0"/><stop offset="0.24" stop-color="#f3fbf1"/><stop offset="0.25" stop-color="#f4fbf2"/><stop offset="0.27" stop-color="#e7f6e3"/><stop offset="0.31" stop-color="#e7f6e3"/><stop offset="0.32" stop-color="#e5f6e1"/><stop offset="0.34" stop-color="#e0f4dc"/><stop offset="0.36" stop-color="#eff9ec"/><stop offset="0.37" stop-color="#f4fbf2"/><stop offset="0.39" stop-color="#f0faee"/><stop offset="0.41" stop-color="#f0faee"/><stop offset="0.42" stop-color="#e9f7e6"/><stop offset="0.44" stop-color="#e5f6e1"/><stop offset="0.46" stop-color="#e6f6e3"/><stop offset="0.63" stop-color="#e6f6e3"/><stop offset="0.64" stop-color="#eaf7e6"/><stop offset="0.66" stop-color="#eaf8e6"/><stop offset="0.98" stop-color="#eaf8e6"/><stop offset="1" stop-color="#eff9ec"/></linearGradient><linearGradient id="clipB81" gradientUnits="userSpaceOnUse" x1="54.2" y1="0" x2="349.2" y2="0"><stop offset="0" stop-color="#f4fcf3"/><stop offset="0.02" stop-color="#f4fcf3"/><stop offset="0.03" stop-color="#f4fbf2"/><stop offset="0.05" stop-color="#eff9ec"/><stop offset="0.12" stop-color="#eff9ec"/><stop offset="0.14" stop-color="#f3fbf1"/><stop offset="0.15" stop-color="#f3fbf2"/><stop offset="0.22" stop-color="#f3fbf2"/><stop offset="0.24" stop-color="#f4fbf2"/><stop offset="0.25" stop-color="#f4fcf3"/><stop offset="0.27" stop-color="#e9f7e6"/><stop offset="0.31" stop-color="#e9f7e6"/><stop offset="0.32" stop-color="#e8f7e4"/><stop offset="0.34" stop-color="#e5f6e1"/><stop offset="0.36" stop-color="#f0faee"/><stop offset="0.37" stop-color="#f4fcf3"/><stop offset="0.39" stop-color="#f2fbf0"/><stop offset="0.41" stop-color="#f2fbf0"/><stop offset="0.42" stop-color="#eff9ec"/><stop offset="0.44" stop-color="#ecf8e9"/><stop offset="0.63" stop-color="#ecf8e9"/><stop offset="0.64" stop-color="#eef9eb"/><stop offset="0.98" stop-color="#eef9eb"/><stop offset="1" stop-color="#f1faee"/></linearGradient><linearGradient id="clipB82" gradientUnits="userSpaceOnUse" x1="54.2" y1="0" x2="349.2" y2="0"><stop offset="0" stop-color="#f4fbf2"/><stop offset="0.02" stop-color="#f4fbf2"/><stop offset="0.03" stop-color="#f3fbf1"/><stop offset="0.05" stop-color="#eef9eb"/><stop offset="0.12" stop-color="#eef9eb"/><stop offset="0.14" stop-color="#f2fbf0"/><stop offset="0.15" stop-color="#f3fbf1"/><stop offset="0.22" stop-color="#f3fbf1"/><stop offset="0.24" stop-color="#f3fbf2"/><stop offset="0.25" stop-color="#f4fbf2"/><stop offset="0.27" stop-color="#e7f7e4"/><stop offset="0.31" stop-color="#e7f7e4"/><stop offset="0.32" stop-color="#e6f6e2"/><stop offset="0.34" stop-color="#e4f5e0"/><stop offset="0.36" stop-color="#effaed"/><stop offset="0.37" stop-color="#f4fbf2"/><stop offset="0.39" stop-color="#f2fbf0"/><stop offset="0.41" stop-color="#f2fbf0"/><stop offset="0.42" stop-color="#f0faed"/><stop offset="0.44" stop-color="#eef9eb"/><stop offset="0.63" stop-color="#eef9eb"/><stop offset="0.64" stop-color="#eff9ec"/><stop offset="0.98" stop-color="#eff9ec"/><stop offset="1" stop-color="#f1faee"/></linearGradient><linearGradient id="clipB83" gradientUnits="userSpaceOnUse" x1="54.2" y1="0" x2="349.2" y2="0"><stop offset="0" stop-color="#f4fcf3"/><stop offset="0.02" stop-color="#f4fcf3"/><stop offset="0.03" stop-color="#f4fbf2"/><stop offset="0.05" stop-color="#effaed"/><stop offset="0.12" stop-color="#effaed"/><stop offset="0.14" stop-color="#f3fbf2"/><stop offset="0.15" stop-color="#f4fcf3"/><stop offset="0.25" stop-color="#f4fcf3"/><stop offset="0.27" stop-color="#ebf8e7"/><stop offset="0.31" stop-color="#ebf8e7"/><stop offset="0.32" stop-color="#eaf8e7"/><stop offset="0.34" stop-color="#e9f7e5"/><stop offset="0.36" stop-color="#f1faee"/><stop offset="0.37" stop-color="#f4fcf3"/><stop offset="0.39" stop-color="#f3fbf2"/><stop offset="0.41" stop-color="#f3fbf2"/><stop offset="0.42" stop-color="#f2fbf0"/><stop offset="0.44" stop-color="#f1faef"/><stop offset="0.98" stop-color="#f1faef"/><stop offset="1" stop-color="#f3fbf1"/></linearGradient><linearGradient id="clipB84" gradientUnits="userSpaceOnUse" x1="54.2" y1="0" x2="349.2" y2="0"><stop offset="0" stop-color="#f4fcf3"/><stop offset="0.02" stop-color="#f4fcf3"/><stop offset="0.03" stop-color="#f4fbf2"/><stop offset="0.05" stop-color="#f0faed"/><stop offset="0.12" stop-color="#f0faed"/><stop offset="0.14" stop-color="#f3fbf2"/><stop offset="0.15" stop-color="#f4fcf3"/><stop offset="0.25" stop-color="#f4fcf3"/><stop offset="0.27" stop-color="#ebf8e8"/><stop offset="0.31" stop-color="#ebf8e8"/><stop offset="0.32" stop-color="#eaf8e7"/><stop offset="0.34" stop-color="#eaf7e6"/><stop offset="0.36" stop-color="#f1faee"/><stop offset="0.37" stop-color="#f4fcf3"/><stop offset="0.39" stop-color="#f4fbf2"/><stop offset="0.41" stop-color="#f4fbf2"/><stop offset="0.42" stop-color="#f3fbf1"/><stop offset="0.44" stop-color="#f2fbf0"/><stop offset="0.63" stop-color="#f2fbf0"/><stop offset="0.64" stop-color="#f2fbf1"/><stop offset="0.98" stop-color="#f2fbf1"/><stop offset="1" stop-color="#f3fbf1"/></linearGradient><linearGradient id="clipB85" gradientUnits="userSpaceOnUse" x1="54.2" y1="0" x2="349.2" y2="0"><stop offset="0" stop-color="#f4fcf3"/><stop offset="0.02" stop-color="#f4fcf3"/><stop offset="0.03" stop-color="#f4fbf2"/><stop offset="0.05" stop-color="#effaed"/><stop offset="0.12" stop-color="#effaed"/><stop offset="0.14" stop-color="#f3fbf1"/><stop offset="0.15" stop-color="#f4fcf3"/><stop offset="0.25" stop-color="#f4fcf3"/><stop offset="0.27" stop-color="#eaf8e7"/><stop offset="0.32" stop-color="#eaf8e7"/><stop offset="0.34" stop-color="#eaf7e6"/><stop offset="0.36" stop-color="#f1faee"/><stop offset="0.37" stop-color="#f4fcf3"/><stop offset="0.39" stop-color="#f4fbf2"/><stop offset="0.41" stop-color="#f4fbf2"/><stop offset="0.42" stop-color="#f3fbf2"/><stop offset="0.44" stop-color="#f3fbf1"/><stop offset="0.98" stop-color="#f3fbf1"/><stop offset="1" stop-color="#f3fbf2"/></linearGradient><linearGradient id="clipB86" gradientUnits="userSpaceOnUse" x1="54.2" y1="0" x2="349.2" y2="0"><stop offset="0" stop-color="#f4fbf2"/><stop offset="0.02" stop-color="#f4fbf2"/><stop offset="0.03" stop-color="#f3fbf1"/><stop offset="0.05" stop-color="#eff9ec"/><stop offset="0.12" stop-color="#eff9ec"/><stop offset="0.14" stop-color="#f3fbf1"/><stop offset="0.15" stop-color="#f4fbf2"/><stop offset="0.25" stop-color="#f4fbf2"/><stop offset="0.27" stop-color="#e8f7e5"/><stop offset="0.32" stop-color="#e8f7e5"/><stop offset="0.34" stop-color="#e8f7e4"/><stop offset="0.36" stop-color="#f0faed"/><stop offset="0.37" stop-color="#f4fbf2"/><stop offset="0.39" stop-color="#f3fbf2"/><stop offset="0.41" stop-color="#f3fbf2"/><stop offset="0.42" stop-color="#f3fbf1"/><stop offset="0.98" stop-color="#f3fbf1"/><stop offset="1" stop-color="#f3fbf2"/></linearGradient><linearGradient id="clipB87" gradientUnits="userSpaceOnUse" x1="54.2" y1="0" x2="349.2" y2="0"><stop offset="0" stop-color="#f4fcf3"/><stop offset="0.02" stop-color="#f4fcf3"/><stop offset="0.03" stop-color="#f4fbf2"/><stop offset="0.05" stop-color="#effaed"/><stop offset="0.12" stop-color="#effaed"/><stop offset="0.14" stop-color="#f3fbf1"/><stop offset="0.15" stop-color="#f4fcf3"/><stop offset="0.25" stop-color="#f4fcf3"/><stop offset="0.27" stop-color="#ebf8e7"/><stop offset="0.32" stop-color="#ebf8e7"/><stop offset="0.34" stop-color="#eaf8e7"/><stop offset="0.36" stop-color="#f1faee"/><stop offset="0.37" stop-color="#f4fcf3"/><stop offset="0.41" stop-color="#f4fcf3"/><stop offset="0.42" stop-color="#f4fbf2"/><stop offset="1" stop-color="#f4fbf2"/></linearGradient><linearGradient id="clipB88" gradientUnits="userSpaceOnUse" x1="54.2" y1="0" x2="349.2" y2="0"><stop offset="0" stop-color="#f4fbf2"/><stop offset="0.02" stop-color="#f4fbf2"/><stop offset="0.03" stop-color="#f3fbf2"/><stop offset="0.05" stop-color="#eff9ec"/><stop offset="0.12" stop-color="#eff9ec"/><stop offset="0.14" stop-color="#f3fbf1"/><stop offset="0.15" stop-color="#f4fbf2"/><stop offset="0.25" stop-color="#f4fbf2"/><stop offset="0.27" stop-color="#eaf7e6"/><stop offset="0.31" stop-color="#eaf7e6"/><stop offset="0.32" stop-color="#e9f7e6"/><stop offset="0.34" stop-color="#e9f7e6"/><stop offset="0.36" stop-color="#f0faee"/><stop offset="0.37" stop-color="#f4fbf2"/><stop offset="1" stop-color="#f4fbf2"/></linearGradient><linearGradient id="clipB89" gradientUnits="userSpaceOnUse" x1="54.2" y1="0" x2="349.2" y2="0"><stop offset="0" stop-color="#f4fbf2"/><stop offset="0.02" stop-color="#f4fbf2"/><stop offset="0.03" stop-color="#f3fbf2"/><stop offset="0.05" stop-color="#eff9ec"/><stop offset="0.12" stop-color="#eff9ec"/><stop offset="0.14" stop-color="#f3fbf1"/><stop offset="0.15" stop-color="#f4fbf2"/><stop offset="0.25" stop-color="#f4fbf2"/><stop offset="0.27" stop-color="#e9f7e6"/><stop offset="0.34" stop-color="#e9f7e6"/><stop offset="0.36" stop-color="#f0faee"/><stop offset="0.37" stop-color="#f4fbf2"/><stop offset="1" stop-color="#f4fbf2"/></linearGradient><linearGradient id="clipB90" gradientUnits="userSpaceOnUse" x1="54.2" y1="0" x2="349.2" y2="0"><stop offset="0" stop-color="#f4fcf3"/><stop offset="0.02" stop-color="#f4fcf3"/><stop offset="0.03" stop-color="#f4fbf2"/><stop offset="0.05" stop-color="#f0faed"/><stop offset="0.12" stop-color="#f0faed"/><stop offset="0.14" stop-color="#f3fbf1"/><stop offset="0.15" stop-color="#f4fcf3"/><stop offset="0.25" stop-color="#f4fcf3"/><stop offset="0.27" stop-color="#ebf8e7"/><stop offset="0.34" stop-color="#ebf8e7"/><stop offset="0.36" stop-color="#f1faee"/><stop offset="0.37" stop-color="#f4fcf3"/><stop offset="1" stop-color="#f4fcf3"/></linearGradient><linearGradient id="clipB91" gradientUnits="userSpaceOnUse" x1="54.2" y1="0" x2="349.2" y2="0"><stop offset="0" stop-color="#f4fbf2"/><stop offset="0.02" stop-color="#f4fbf2"/><stop offset="0.03" stop-color="#f3fbf2"/><stop offset="0.05" stop-color="#eff9ec"/><stop offset="0.12" stop-color="#eff9ec"/><stop offset="0.14" stop-color="#f3fbf1"/><stop offset="0.15" stop-color="#f4fbf2"/><stop offset="0.25" stop-color="#f4fbf2"/><stop offset="0.27" stop-color="#e9f7e6"/><stop offset="0.34" stop-color="#e9f7e6"/><stop offset="0.36" stop-color="#f0faee"/><stop offset="0.37" stop-color="#f4fbf2"/><stop offset="1" stop-color="#f4fbf2"/></linearGradient><linearGradient id="clipB92" gradientUnits="userSpaceOnUse" x1="54.2" y1="0" x2="349.2" y2="0"><stop offset="0" stop-color="#f4fbf2"/><stop offset="0.02" stop-color="#f4fbf2"/><stop offset="0.03" stop-color="#f3fbf2"/><stop offset="0.05" stop-color="#eff9ec"/><stop offset="0.12" stop-color="#eff9ec"/><stop offset="0.14" stop-color="#f3fbf1"/><stop offset="0.15" stop-color="#f4fbf2"/><stop offset="0.25" stop-color="#f4fbf2"/><stop offset="0.27" stop-color="#eaf7e6"/><stop offset="0.34" stop-color="#eaf7e6"/><stop offset="0.36" stop-color="#f0faee"/><stop offset="0.37" stop-color="#f4fbf2"/><stop offset="1" stop-color="#f4fbf2"/></linearGradient><linearGradient id="clipB93" gradientUnits="userSpaceOnUse" x1="54.2" y1="0" x2="349.2" y2="0"><stop offset="0" stop-color="#f4fcf3"/><stop offset="0.02" stop-color="#f4fcf3"/><stop offset="0.03" stop-color="#f4fbf2"/><stop offset="0.05" stop-color="#f0faed"/><stop offset="0.12" stop-color="#f0faed"/><stop offset="0.14" stop-color="#f3fbf2"/><stop offset="0.15" stop-color="#f4fcf3"/><stop offset="0.25" stop-color="#f4fcf3"/><stop offset="0.27" stop-color="#ecf8e8"/><stop offset="0.34" stop-color="#ecf8e8"/><stop offset="0.36" stop-color="#f1faef"/><stop offset="0.37" stop-color="#f4fcf3"/><stop offset="1" stop-color="#f4fcf3"/></linearGradient><linearGradient id="clipB94" gradientUnits="userSpaceOnUse" x1="54.2" y1="0" x2="349.2" y2="0"><stop offset="0" stop-color="#f4fcf3"/><stop offset="0.02" stop-color="#f4fcf3"/><stop offset="0.03" stop-color="#f4fbf2"/><stop offset="0.05" stop-color="#effaed"/><stop offset="0.12" stop-color="#effaed"/><stop offset="0.14" stop-color="#f3fbf1"/><stop offset="0.15" stop-color="#f4fcf3"/><stop offset="0.25" stop-color="#f4fcf3"/><stop offset="0.27" stop-color="#eaf8e7"/><stop offset="0.34" stop-color="#eaf8e7"/><stop offset="0.36" stop-color="#f0faee"/><stop offset="0.37" stop-color="#f4fcf3"/><stop offset="1" stop-color="#f4fcf3"/></linearGradient></defs>
<g clip-path="url(#clipB)">
<g filter="url(#bF)">
<rect x="54.2" y="200.1" width="295" height="2.5" fill="#f4fcf3"/>
<rect x="54.2" y="202.1" width="295" height="2.5" fill="#f4fbf2"/>
<rect x="54.2" y="204.1" width="295" height="2.5" fill="#f4fcf3"/>
<rect x="54.2" y="206.1" width="295" height="2.5" fill="url(#clipB3)"/>
<rect x="54.2" y="208.1" width="295" height="2.5" fill="#f4fcf3"/>
<rect x="54.2" y="210.1" width="295" height="2.5" fill="url(#clipB5)"/>
<rect x="54.2" y="212.1" width="295" height="2.5" fill="url(#clipB6)"/>
<rect x="54.2" y="214.1" width="295" height="2.5" fill="url(#clipB7)"/>
<rect x="54.2" y="216.1" width="295" height="2.5" fill="url(#clipB8)"/>
<rect x="54.2" y="218.1" width="295" height="2.5" fill="url(#clipB9)"/>
<rect x="54.2" y="220.1" width="295" height="2.5" fill="url(#clipB10)"/>
<rect x="54.2" y="222.1" width="295" height="2.5" fill="url(#clipB11)"/>
<rect x="54.2" y="224.1" width="295" height="2.5" fill="url(#clipB12)"/>
<rect x="54.2" y="226.1" width="295" height="2.5" fill="url(#clipB13)"/>
<rect x="54.2" y="228.1" width="295" height="2.5" fill="url(#clipB14)"/>
<rect x="54.2" y="230.1" width="295" height="2.5" fill="url(#clipB15)"/>
<rect x="54.2" y="232.1" width="295" height="2.5" fill="url(#clipB16)"/>
<rect x="54.2" y="234.1" width="295" height="2.5" fill="url(#clipB17)"/>
<rect x="54.2" y="236.1" width="295" height="2.5" fill="url(#clipB18)"/>
<rect x="54.2" y="238.1" width="295" height="2.5" fill="url(#clipB19)"/>
<rect x="54.2" y="240.1" width="295" height="2.5" fill="url(#clipB20)"/>
<rect x="54.2" y="242.1" width="295" height="2.5" fill="url(#clipB21)"/>
<rect x="54.2" y="244.1" width="295" height="2.5" fill="url(#clipB22)"/>
<rect x="54.2" y="246.1" width="295" height="2.5" fill="url(#clipB23)"/>
<rect x="54.2" y="248.1" width="295" height="2.5" fill="url(#clipB24)"/>
<rect x="54.2" y="250.1" width="295" height="2.5" fill="url(#clipB25)"/>
<rect x="54.2" y="252.1" width="295" height="2.5" fill="url(#clipB26)"/>
<rect x="54.2" y="254.1" width="295" height="2.5" fill="url(#clipB27)"/>
<rect x="54.2" y="256.1" width="295" height="2.5" fill="url(#clipB28)"/>
<rect x="54.2" y="258.1" width="295" height="2.5" fill="url(#clipB29)"/>
<rect x="54.2" y="260.1" width="295" height="2.5" fill="url(#clipB30)"/>
<rect x="54.2" y="262.1" width="295" height="2.5" fill="url(#clipB31)"/>
<rect x="54.2" y="264.1" width="295" height="2.5" fill="url(#clipB32)"/>
<rect x="54.2" y="266.1" width="295" height="2.5" fill="url(#clipB33)"/>
<rect x="54.2" y="268.1" width="295" height="2.5" fill="url(#clipB34)"/>
<rect x="54.2" y="270.1" width="295" height="2.5" fill="url(#clipB35)"/>
<rect x="54.2" y="272.1" width="295" height="2.5" fill="url(#clipB36)"/>
<rect x="54.2" y="274.1" width="295" height="2.5" fill="url(#clipB37)"/>
<rect x="54.2" y="276.1" width="295" height="2.5" fill="url(#clipB38)"/>
<rect x="54.2" y="278.1" width="295" height="2.5" fill="url(#clipB39)"/>
<rect x="54.2" y="280.1" width="295" height="2.5" fill="url(#clipB40)"/>
<rect x="54.2" y="282.1" width="295" height="2.5" fill="url(#clipB41)"/>
<rect x="54.2" y="284.1" width="295" height="2.5" fill="url(#clipB42)"/>
<rect x="54.2" y="286.1" width="295" height="2.5" fill="url(#clipB43)"/>
<rect x="54.2" y="288.1" width="295" height="2.5" fill="url(#clipB44)"/>
<rect x="54.2" y="290.1" width="295" height="2.5" fill="url(#clipB45)"/>
<rect x="54.2" y="292.1" width="295" height="2.5" fill="url(#clipB46)"/>
<rect x="54.2" y="294.1" width="295" height="2.5" fill="url(#clipB47)"/>
<rect x="54.2" y="296.1" width="295" height="2.5" fill="url(#clipB48)"/>
<rect x="54.2" y="298.1" width="295" height="2.5" fill="url(#clipB49)"/>
<rect x="54.2" y="300.1" width="295" height="2.5" fill="url(#clipB50)"/>
<rect x="54.2" y="302.1" width="295" height="2.5" fill="url(#clipB51)"/>
<rect x="54.2" y="304.1" width="295" height="2.5" fill="url(#clipB52)"/>
<rect x="54.2" y="306.1" width="295" height="2.5" fill="url(#clipB53)"/>
<rect x="54.2" y="308.1" width="295" height="2.5" fill="url(#clipB54)"/>
<rect x="54.2" y="310.1" width="295" height="2.5" fill="url(#clipB55)"/>
<rect x="54.2" y="312.1" width="295" height="2.5" fill="url(#clipB56)"/>
<rect x="54.2" y="314.1" width="295" height="2.5" fill="url(#clipB57)"/>
<rect x="54.2" y="316.1" width="295" height="2.5" fill="url(#clipB58)"/>
<rect x="54.2" y="318.1" width="295" height="2.5" fill="url(#clipB59)"/>
<rect x="54.2" y="320.1" width="295" height="2.5" fill="url(#clipB60)"/>
<rect x="54.2" y="322.1" width="295" height="2.5" fill="url(#clipB61)"/>
<rect x="54.2" y="324.1" width="295" height="2.5" fill="url(#clipB62)"/>
<rect x="54.2" y="326.1" width="295" height="2.5" fill="url(#clipB63)"/>
<rect x="54.2" y="328.1" width="295" height="2.5" fill="url(#clipB64)"/>
<rect x="54.2" y="330.1" width="295" height="2.5" fill="url(#clipB65)"/>
<rect x="54.2" y="332.1" width="295" height="2.5" fill="url(#clipB66)"/>
<rect x="54.2" y="334.1" width="295" height="2.5" fill="url(#clipB67)"/>
<rect x="54.2" y="336.1" width="295" height="2.5" fill="url(#clipB68)"/>
<rect x="54.2" y="338.1" width="295" height="2.5" fill="url(#clipB69)"/>
<rect x="54.2" y="340.1" width="295" height="2.5" fill="url(#clipB70)"/>
<rect x="54.2" y="342.1" width="295" height="2.5" fill="url(#clipB71)"/>
<rect x="54.2" y="344.1" width="295" height="2.5" fill="url(#clipB72)"/>
<rect x="54.2" y="346.1" width="295" height="2.5" fill="url(#clipB73)"/>
<rect x="54.2" y="348.1" width="295" height="2.5" fill="url(#clipB74)"/>
<rect x="54.2" y="350.1" width="295" height="2.5" fill="url(#clipB75)"/>
<rect x="54.2" y="352.1" width="295" height="2.5" fill="url(#clipB76)"/>
<rect x="54.2" y="354.1" width="295" height="2.5" fill="url(#clipB77)"/>
<rect x="54.2" y="356.1" width="295" height="2.5" fill="url(#clipB78)"/>
<rect x="54.2" y="358.1" width="295" height="2.5" fill="url(#clipB79)"/>
<rect x="54.2" y="360.1" width="295" height="2.5" fill="url(#clipB80)"/>
<rect x="54.2" y="362.1" width="295" height="2.5" fill="url(#clipB81)"/>
<rect x="54.2" y="364.1" width="295" height="2.5" fill="url(#clipB82)"/>
<rect x="54.2" y="366.1" width="295" height="2.5" fill="url(#clipB83)"/>
<rect x="54.2" y="368.1" width="295" height="2.5" fill="url(#clipB84)"/>
<rect x="54.2" y="370.1" width="295" height="2.5" fill="url(#clipB85)"/>
<rect x="54.2" y="372.1" width="295" height="2.5" fill="url(#clipB86)"/>
<rect x="54.2" y="374.1" width="295" height="2.5" fill="url(#clipB87)"/>
<rect x="54.2" y="376.1" width="295" height="2.5" fill="url(#clipB88)"/>
<rect x="54.2" y="378.1" width="295" height="2.5" fill="url(#clipB89)"/>
<rect x="54.2" y="380.1" width="295" height="2.5" fill="url(#clipB90)"/>
<rect x="54.2" y="382.1" width="295" height="2.5" fill="url(#clipB91)"/>
<rect x="54.2" y="384.1" width="295" height="2.5" fill="url(#clipB92)"/>
<rect x="54.2" y="386.1" width="295" height="2.5" fill="url(#clipB93)"/>
<rect x="54.2" y="388.1" width="295" height="2.5" fill="url(#clipB94)"/>
</g></g><g clip-path="url(#clipBlk)"><g clip-path="url(#clipB)" filter="url(#bS)">
<rect x="229.4" y="334.44" width="153.32" height="1" fill="#1f5a2a" opacity="0.04"/>
<rect x="287.48" y="294.06" width="76.55" height="1.2" fill="#ffffff" opacity="0.03"/>
<rect x="251.09" y="299.67" width="33.22" height="1.2" fill="#1f5a2a" opacity="0.07"/>
<rect x="282.95" y="312.45" width="86.07" height="1" fill="#ffffff" opacity="0.03"/>
<rect x="269.64" y="314.69" width="110.73" height="1" fill="#1f5a2a" opacity="0.04"/>
<rect x="312.79" y="337.67" width="66.57" height="0.8" fill="#1f5a2a" opacity="0.05"/>
<rect x="256.51" y="319.13" width="106.78" height="0.8" fill="#ffffff" opacity="0.05"/>
<rect x="253.27" y="305.49" width="117.54" height="1" fill="#ffffff" opacity="0.05"/>
<rect x="284.03" y="268.88" width="65.82" height="1" fill="#ffffff" opacity="0"/>
<rect x="276.64" y="332.61" width="100.48" height="0.8" fill="#ffffff" opacity="0.04"/>
<rect x="247.17" y="273.93" width="131.9" height="1.2" fill="#ffffff" opacity="0.03"/>
<rect x="243.24" y="276.54" width="126.89" height="0.8" fill="#1f5a2a" opacity="0.05"/>
<rect x="243.29" y="270.14" width="84.11" height="0.8" fill="#1f5a2a" opacity="0.07"/>
<rect x="234.38" y="325.57" width="153.35" height="1" fill="#1f5a2a" opacity="0.09"/>
<rect x="245.3" y="267.18" width="132.47" height="1.2" fill="#ffffff" opacity="0"/>
<rect x="230.44" y="280.55" width="151.37" height="1.2" fill="#ffffff" opacity="0.03"/>
<rect x="252.84" y="314.06" width="119.78" height="0.8" fill="#ffffff" opacity="0.03"/>
<rect x="259.62" y="332.66" width="87.81" height="1.2" fill="#1f5a2a" opacity="0.08"/>
<rect x="280.5" y="316.89" width="83.64" height="0.8" fill="#1f5a2a" opacity="0.07"/>
<rect x="258.12" y="306.39" width="85.26" height="0.8" fill="#1f5a2a" opacity="0.08"/>
<rect x="302.03" y="327.16" width="44.1" height="1" fill="#1f5a2a" opacity="0.04"/>
<rect x="240.86" y="284.38" width="153.7" height="0.8" fill="#1f5a2a" opacity="0.06"/>
<rect x="229.77" y="331.63" width="154.49" height="1" fill="#ffffff" opacity="0.07"/>
<rect x="243" y="293.91" width="132.13" height="1.2" fill="#ffffff" opacity="0.06"/>
<rect x="259.97" y="268.23" width="115.1" height="1" fill="#1f5a2a" opacity="0"/>
<rect x="252.58" y="301.53" width="119.57" height="1" fill="#1f5a2a" opacity="0.06"/>
<rect x="237.47" y="285.64" width="159.2" height="1" fill="#1f5a2a" opacity="0.03"/>
<rect x="255.11" y="323.49" width="117.54" height="1" fill="#ffffff" opacity="0.03"/>
<rect x="310.48" y="325.55" width="65.58" height="1.2" fill="#ffffff" opacity="0.03"/>
<rect x="251.51" y="301.35" width="101.99" height="0.8" fill="#ffffff" opacity="0.04"/>
</g></g>
<rect x="64.2" y="8.2" width="277" height="180.4" fill="none" stroke="#262626" stroke-width="1.3"/>
<rect x="64.2" y="204.1" width="277" height="180.6" fill="none" stroke="#262626" stroke-width="1.3"/>
<rect x="403.2" y="7.3" width="276.9" height="94.43" fill="none" stroke="#262626" stroke-width="1.3"/>
<rect x="403.2" y="101.73" width="276.9" height="94.43" fill="none" stroke="#262626" stroke-width="1.3"/>
<rect x="403.2" y="196.16" width="276.9" height="94.43" fill="none" stroke="#262626" stroke-width="1.3"/>
<rect x="403.2" y="290.59" width="276.9" height="94.43" fill="none" stroke="#262626" stroke-width="1.3"/>
<path d="M64.2,188.6 L60.2,188.6 M64.2,179.58 L61.9,179.58 M64.2,170.56 L61.9,170.56 M64.2,161.54 L61.9,161.54 M64.2,152.52 L61.9,152.52 M64.2,143.5 L60.2,143.5 M64.2,134.48 L61.9,134.48 M64.2,125.46 L61.9,125.46 M64.2,116.44 L61.9,116.44 M64.2,107.42 L61.9,107.42 M64.2,98.4 L60.2,98.4 M64.2,89.38 L61.9,89.38 M64.2,80.36 L61.9,80.36 M64.2,71.34 L61.9,71.34 M64.2,62.32 L61.9,62.32 M64.2,53.3 L60.2,53.3 M64.2,44.28 L61.9,44.28 M64.2,35.26 L61.9,35.26 M64.2,26.24 L61.9,26.24 M64.2,17.22 L61.9,17.22 M64.2,8.2 L60.2,8.2 M64.2,384.7 L60.2,384.7 M64.2,372.66 L61.9,372.66 M64.2,360.62 L61.9,360.62 M64.2,348.58 L60.2,348.58 M64.2,336.54 L61.9,336.54 M64.2,324.5 L61.9,324.5 M64.2,312.46 L60.2,312.46 M64.2,300.42 L61.9,300.42 M64.2,288.38 L61.9,288.38 M64.2,276.34 L60.2,276.34 M64.2,264.3 L61.9,264.3 M64.2,252.26 L61.9,252.26 M64.2,240.22 L60.2,240.22 M64.2,228.18 L61.9,228.18 M64.2,216.14 L61.9,216.14 M64.2,204.1 L60.2,204.1 M64.2,188.6 L64.2,192.6 M64.2,384.7 L64.2,388.7 M79.59,188.6 L79.59,191.1 M79.59,384.7 L79.59,387.2 M94.98,188.6 L94.98,191.1 M94.98,384.7 L94.98,387.2 M110.37,188.6 L110.37,192.6 M110.37,384.7 L110.37,388.7 M125.76,188.6 L125.76,191.1 M125.76,384.7 L125.76,387.2 M141.14,188.6 L141.14,191.1 M141.14,384.7 L141.14,387.2 M156.53,188.6 L156.53,192.6 M156.53,384.7 L156.53,388.7 M171.92,188.6 L171.92,191.1 M171.92,384.7 L171.92,387.2 M187.31,188.6 L187.31,191.1 M187.31,384.7 L187.31,387.2 M202.7,188.6 L202.7,192.6 M202.7,384.7 L202.7,388.7 M218.09,188.6 L218.09,191.1 M218.09,384.7 L218.09,387.2 M233.48,188.6 L233.48,191.1 M233.48,384.7 L233.48,387.2 M248.87,188.6 L248.87,192.6 M248.87,384.7 L248.87,388.7 M264.26,188.6 L264.26,191.1 M264.26,384.7 L264.26,387.2 M279.64,188.6 L279.64,191.1 M279.64,384.7 L279.64,387.2 M295.03,188.6 L295.03,192.6 M295.03,384.7 L295.03,388.7 M310.42,188.6 L310.42,191.1 M310.42,384.7 L310.42,387.2 M325.81,188.6 L325.81,191.1 M325.81,384.7 L325.81,387.2 M341.2,188.6 L341.2,192.6 M341.2,384.7 L341.2,388.7 M403.2,97.75 L407,97.75 M680.1,97.75 L676.3,97.75 M403.2,89.14 L405.4,89.14 M680.1,89.14 L677.9,89.14 M403.2,80.52 L405.4,80.52 M680.1,80.52 L677.9,80.52 M403.2,71.91 L405.4,71.91 M680.1,71.91 L677.9,71.91 M403.2,63.29 L405.4,63.29 M680.1,63.29 L677.9,63.29 M403.2,54.68 L407,54.68 M680.1,54.68 L676.3,54.68 M403.2,46.06 L405.4,46.06 M680.1,46.06 L677.9,46.06 M403.2,37.45 L405.4,37.45 M680.1,37.45 L677.9,37.45 M403.2,28.83 L405.4,28.83 M680.1,28.83 L677.9,28.83 M403.2,20.21 L405.4,20.21 M680.1,20.21 L677.9,20.21 M403.2,11.6 L407,11.6 M680.1,11.6 L676.3,11.6 M415.2,7.3 L415.2,11.3 M415.2,101.73 L415.2,97.73 M425.74,7.3 L425.74,9.8 M425.74,101.73 L425.74,99.23 M436.27,7.3 L436.27,9.8 M436.27,101.73 L436.27,99.23 M446.81,7.3 L446.81,9.8 M446.81,101.73 L446.81,99.23 M457.34,7.3 L457.34,9.8 M457.34,101.73 L457.34,99.23 M467.88,7.3 L467.88,9.8 M467.88,101.73 L467.88,99.23 M478.41,7.3 L478.41,11.3 M478.41,101.73 L478.41,97.73 M488.94,7.3 L488.94,9.8 M488.94,101.73 L488.94,99.23 M499.48,7.3 L499.48,9.8 M499.48,101.73 L499.48,99.23 M510.01,7.3 L510.01,9.8 M510.01,101.73 L510.01,99.23 M520.55,7.3 L520.55,9.8 M520.55,101.73 L520.55,99.23 M531.09,7.3 L531.09,9.8 M531.09,101.73 L531.09,99.23 M541.62,7.3 L541.62,11.3 M541.62,101.73 L541.62,97.73 M552.15,7.3 L552.15,9.8 M552.15,101.73 L552.15,99.23 M562.69,7.3 L562.69,9.8 M562.69,101.73 L562.69,99.23 M573.23,7.3 L573.23,9.8 M573.23,101.73 L573.23,99.23 M583.76,7.3 L583.76,9.8 M583.76,101.73 L583.76,99.23 M594.3,7.3 L594.3,9.8 M594.3,101.73 L594.3,99.23 M604.83,7.3 L604.83,11.3 M604.83,101.73 L604.83,97.73 M615.37,7.3 L615.37,9.8 M615.37,101.73 L615.37,99.23 M625.9,7.3 L625.9,9.8 M625.9,101.73 L625.9,99.23 M636.43,7.3 L636.43,9.8 M636.43,101.73 L636.43,99.23 M646.97,7.3 L646.97,9.8 M646.97,101.73 L646.97,99.23 M657.5,7.3 L657.5,9.8 M657.5,101.73 L657.5,99.23 M668.04,7.3 L668.04,11.3 M668.04,101.73 L668.04,97.73 M678.58,7.3 L678.58,9.8 M678.58,101.73 L678.58,99.23 M403.2,192.18 L407,192.18 M680.1,192.18 L676.3,192.18 M403.2,183.56 L405.4,183.56 M680.1,183.56 L677.9,183.56 M403.2,174.95 L405.4,174.95 M680.1,174.95 L677.9,174.95 M403.2,166.34 L405.4,166.34 M680.1,166.34 L677.9,166.34 M403.2,157.72 L405.4,157.72 M680.1,157.72 L677.9,157.72 M403.2,149.11 L407,149.11 M680.1,149.11 L676.3,149.11 M403.2,140.49 L405.4,140.49 M680.1,140.49 L677.9,140.49 M403.2,131.88 L405.4,131.88 M680.1,131.88 L677.9,131.88 M403.2,123.26 L405.4,123.26 M680.1,123.26 L677.9,123.26 M403.2,114.64 L405.4,114.64 M680.1,114.64 L677.9,114.64 M403.2,106.03 L407,106.03 M680.1,106.03 L676.3,106.03 M415.2,101.73 L415.2,105.73 M415.2,196.16 L415.2,192.16 M425.74,101.73 L425.74,104.23 M425.74,196.16 L425.74,193.66 M436.27,101.73 L436.27,104.23 M436.27,196.16 L436.27,193.66 M446.81,101.73 L446.81,104.23 M446.81,196.16 L446.81,193.66 M457.34,101.73 L457.34,104.23 M457.34,196.16 L457.34,193.66 M467.88,101.73 L467.88,104.23 M467.88,196.16 L467.88,193.66 M478.41,101.73 L478.41,105.73 M478.41,196.16 L478.41,192.16 M488.94,101.73 L488.94,104.23 M488.94,196.16 L488.94,193.66 M499.48,101.73 L499.48,104.23 M499.48,196.16 L499.48,193.66 M510.01,101.73 L510.01,104.23 M510.01,196.16 L510.01,193.66 M520.55,101.73 L520.55,104.23 M520.55,196.16 L520.55,193.66 M531.09,101.73 L531.09,104.23 M531.09,196.16 L531.09,193.66 M541.62,101.73 L541.62,105.73 M541.62,196.16 L541.62,192.16 M552.15,101.73 L552.15,104.23 M552.15,196.16 L552.15,193.66 M562.69,101.73 L562.69,104.23 M562.69,196.16 L562.69,193.66 M573.23,101.73 L573.23,104.23 M573.23,196.16 L573.23,193.66 M583.76,101.73 L583.76,104.23 M583.76,196.16 L583.76,193.66 M594.3,101.73 L594.3,104.23 M594.3,196.16 L594.3,193.66 M604.83,101.73 L604.83,105.73 M604.83,196.16 L604.83,192.16 M615.37,101.73 L615.37,104.23 M615.37,196.16 L615.37,193.66 M625.9,101.73 L625.9,104.23 M625.9,196.16 L625.9,193.66 M636.43,101.73 L636.43,104.23 M636.43,196.16 L636.43,193.66 M646.97,101.73 L646.97,104.23 M646.97,196.16 L646.97,193.66 M657.5,101.73 L657.5,104.23 M657.5,196.16 L657.5,193.66 M668.04,101.73 L668.04,105.73 M668.04,196.16 L668.04,192.16 M678.58,101.73 L678.58,104.23 M678.58,196.16 L678.58,193.66 M403.2,286.61 L407,286.61 M680.1,286.61 L676.3,286.61 M403.2,278 L405.4,278 M680.1,278 L677.9,278 M403.2,269.38 L405.4,269.38 M680.1,269.38 L677.9,269.38 M403.2,260.77 L405.4,260.77 M680.1,260.77 L677.9,260.77 M403.2,252.15 L405.4,252.15 M680.1,252.15 L677.9,252.15 M403.2,243.54 L407,243.54 M680.1,243.54 L676.3,243.54 M403.2,234.92 L405.4,234.92 M680.1,234.92 L677.9,234.92 M403.2,226.31 L405.4,226.31 M680.1,226.31 L677.9,226.31 M403.2,217.69 L405.4,217.69 M680.1,217.69 L677.9,217.69 M403.2,209.08 L405.4,209.08 M680.1,209.08 L677.9,209.08 M403.2,200.46 L407,200.46 M680.1,200.46 L676.3,200.46 M415.2,196.16 L415.2,200.16 M415.2,290.59 L415.2,286.59 M425.74,196.16 L425.74,198.66 M425.74,290.59 L425.74,288.09 M436.27,196.16 L436.27,198.66 M436.27,290.59 L436.27,288.09 M446.81,196.16 L446.81,198.66 M446.81,290.59 L446.81,288.09 M457.34,196.16 L457.34,198.66 M457.34,290.59 L457.34,288.09 M467.88,196.16 L467.88,198.66 M467.88,290.59 L467.88,288.09 M478.41,196.16 L478.41,200.16 M478.41,290.59 L478.41,286.59 M488.94,196.16 L488.94,198.66 M488.94,290.59 L488.94,288.09 M499.48,196.16 L499.48,198.66 M499.48,290.59 L499.48,288.09 M510.01,196.16 L510.01,198.66 M510.01,290.59 L510.01,288.09 M520.55,196.16 L520.55,198.66 M520.55,290.59 L520.55,288.09 M531.09,196.16 L531.09,198.66 M531.09,290.59 L531.09,288.09 M541.62,196.16 L541.62,200.16 M541.62,290.59 L541.62,286.59 M552.15,196.16 L552.15,198.66 M552.15,290.59 L552.15,288.09 M562.69,196.16 L562.69,198.66 M562.69,290.59 L562.69,288.09 M573.23,196.16 L573.23,198.66 M573.23,290.59 L573.23,288.09 M583.76,196.16 L583.76,198.66 M583.76,290.59 L583.76,288.09 M594.3,196.16 L594.3,198.66 M594.3,290.59 L594.3,288.09 M604.83,196.16 L604.83,200.16 M604.83,290.59 L604.83,286.59 M615.37,196.16 L615.37,198.66 M615.37,290.59 L615.37,288.09 M625.9,196.16 L625.9,198.66 M625.9,290.59 L625.9,288.09 M636.43,196.16 L636.43,198.66 M636.43,290.59 L636.43,288.09 M646.97,196.16 L646.97,198.66 M646.97,290.59 L646.97,288.09 M657.5,196.16 L657.5,198.66 M657.5,290.59 L657.5,288.09 M668.04,196.16 L668.04,200.16 M668.04,290.59 L668.04,286.59 M678.58,196.16 L678.58,198.66 M678.58,290.59 L678.58,288.09 M403.2,381.04 L407,381.04 M680.1,381.04 L676.3,381.04 M403.2,372.43 L405.4,372.43 M680.1,372.43 L677.9,372.43 M403.2,363.81 L405.4,363.81 M680.1,363.81 L677.9,363.81 M403.2,355.2 L405.4,355.2 M680.1,355.2 L677.9,355.2 M403.2,346.58 L405.4,346.58 M680.1,346.58 L677.9,346.58 M403.2,337.97 L407,337.97 M680.1,337.97 L676.3,337.97 M403.2,329.35 L405.4,329.35 M680.1,329.35 L677.9,329.35 M403.2,320.74 L405.4,320.74 M680.1,320.74 L677.9,320.74 M403.2,312.12 L405.4,312.12 M680.1,312.12 L677.9,312.12 M403.2,303.51 L405.4,303.51 M680.1,303.51 L677.9,303.51 M403.2,294.89 L407,294.89 M680.1,294.89 L676.3,294.89 M415.2,290.59 L415.2,294.59 M415.2,385.02 L415.2,381.02 M425.74,290.59 L425.74,293.09 M425.74,385.02 L425.74,382.52 M436.27,290.59 L436.27,293.09 M436.27,385.02 L436.27,382.52 M446.81,290.59 L446.81,293.09 M446.81,385.02 L446.81,382.52 M457.34,290.59 L457.34,293.09 M457.34,385.02 L457.34,382.52 M467.88,290.59 L467.88,293.09 M467.88,385.02 L467.88,382.52 M478.41,290.59 L478.41,294.59 M478.41,385.02 L478.41,381.02 M488.94,290.59 L488.94,293.09 M488.94,385.02 L488.94,382.52 M499.48,290.59 L499.48,293.09 M499.48,385.02 L499.48,382.52 M510.01,290.59 L510.01,293.09 M510.01,385.02 L510.01,382.52 M520.55,290.59 L520.55,293.09 M520.55,385.02 L520.55,382.52 M531.09,290.59 L531.09,293.09 M531.09,385.02 L531.09,382.52 M541.62,290.59 L541.62,294.59 M541.62,385.02 L541.62,381.02 M552.15,290.59 L552.15,293.09 M552.15,385.02 L552.15,382.52 M562.69,290.59 L562.69,293.09 M562.69,385.02 L562.69,382.52 M573.23,290.59 L573.23,293.09 M573.23,385.02 L573.23,382.52 M583.76,290.59 L583.76,293.09 M583.76,385.02 L583.76,382.52 M594.3,290.59 L594.3,293.09 M594.3,385.02 L594.3,382.52 M604.83,290.59 L604.83,294.59 M604.83,385.02 L604.83,381.02 M615.37,290.59 L615.37,293.09 M615.37,385.02 L615.37,382.52 M625.9,290.59 L625.9,293.09 M625.9,385.02 L625.9,382.52 M636.43,290.59 L636.43,293.09 M636.43,385.02 L636.43,382.52 M646.97,290.59 L646.97,293.09 M646.97,385.02 L646.97,382.52 M657.5,290.59 L657.5,293.09 M657.5,385.02 L657.5,382.52 M668.04,290.59 L668.04,294.59 M668.04,385.02 L668.04,381.02 M678.58,290.59 L678.58,293.09 M678.58,385.02 L678.58,382.52" stroke="#262626" stroke-width="1.2" fill="none"/>
<path d="M415.3,97 415.8,96.75 416.3,96.51 416.8,96.26 417.3,96 417.8,95.75 418.3,95.48 418.8,95.21 419.3,94.93 419.8,94.64 420.3,94.34 420.8,94.03 421.3,93.7 421.8,93.36 422.3,93.01 422.8,92.65 423.3,92.27 423.8,91.88 424.3,91.47 424.8,91.05 425.3,90.62 425.8,90.18 426.3,89.73 426.8,89.26 427.3,88.8 427.8,88.34 428.3,87.9 428.8,87.48 429.3,87.08 429.8,86.72 430.3,86.41 430.8,86.14 431.3,85.93 431.8,85.79 432.3,85.7 432.8,85.68 433.3,85.7 433.8,85.76 434.3,85.86 434.8,85.99 435.3,86.15 435.8,86.33 436.3,86.52 436.8,86.71 437.3,86.91 437.8,87.1 438.3,87.28 438.8,87.43 439.3,87.56 439.8,87.66 440.3,87.71 440.8,87.72 441.3,87.67 441.8,87.57 442.3,87.4 442.8,87.18 443.3,86.9 443.8,86.55 444.3,86.15 444.8,85.68 445.3,85.16 445.8,84.57 446.3,83.92 446.8,83.21 447.3,82.44 447.8,81.61 448.3,80.75 448.8,79.84 449.3,78.9 449.8,77.94 450.3,76.97 450.8,75.98 451.3,74.99 451.8,74.01 452.3,73.04 452.8,72.07 453.3,71.11 453.8,70.17 454.3,69.23 454.8,68.31 455.3,67.4 455.8,66.51 456.3,65.63 456.8,64.76 457.3,63.91 457.8,63.08 458.3,62.26 458.8,61.46 459.3,60.68 459.8,59.92 460.3,59.19 460.8,58.47 461.3,57.77 461.8,57.1 462.3,56.45 462.8,55.83 463.3,55.23 463.8,54.65 464.3,54.11 464.8,53.59 465.3,53.1 465.8,52.64 466.3,52.21 466.8,51.82 467.3,51.47 467.8,51.16 468.3,50.9 468.8,50.69 469.3,50.53 469.8,50.43 470.3,50.39 470.8,50.41 471.3,50.49 471.8,50.62 472.3,50.79 472.8,51.01 473.3,51.27 473.8,51.57 474.3,51.9 474.8,52.25 475.3,52.63 475.8,53.03 476.3,53.46 476.8,53.92 477.3,54.43 477.8,54.97 478.3,55.56 478.8,56.21 479.3,56.91 479.8,57.68 480.3,58.51 480.8,59.39 481.3,60.29 481.8,61.19 482.3,62.05 482.8,62.85 483.3,63.56 483.8,64.17 484.3,64.68 484.8,65.08 485.3,65.37 485.8,65.54 486.3,65.6 486.8,65.54 487.3,65.35 487.8,65.02 488.3,64.52 488.8,63.85 489.3,63 489.8,61.95 490.3,60.72 490.8,59.33 491.3,57.8 491.8,56.14 492.3,54.38 492.8,52.54 493.3,50.62 493.8,48.63 494.3,46.6 494.8,44.53 495.3,42.44 495.8,40.34 496.3,38.24 496.8,36.14 497.3,34.06 497.8,32.01 498.3,29.99 498.8,28 499.3,26.06 499.8,24.17 500.3,22.33 500.8,20.55 501.3,18.83 501.8,17.24 502.3,15.82 502.8,14.61 503.3,13.67 503.8,12.99 504.3,12.55 504.8,12.33 505.3,12.31 505.8,12.48 506.3,12.85 506.8,13.43 507.3,14.22 507.8,15.22 508.3,16.43 508.8,17.8 509.3,19.31 509.8,20.93 510.3,22.62 510.8,24.39 511.3,26.25 511.8,28.21 512.3,30.3 512.8,32.54 513.3,34.92 513.8,37.41 514.3,39.93 514.8,42.42 515.3,44.81 515.8,47.03 516.3,49.03 516.8,50.85 517.3,52.54 517.8,54.14 518.3,55.68 518.8,57.21 519.3,58.73 519.8,60.18 520.3,61.49 520.8,62.6 521.3,63.48 521.8,64.15 522.3,64.62 522.8,64.94 523.3,65.12 523.8,65.2 524.3,65.19 524.8,65.12 525.3,65 525.8,64.83 526.3,64.63 526.8,64.4 527.3,64.17 527.8,63.93 528.3,63.7 528.8,63.49 529.3,63.31 529.8,63.16 530.3,63.05 530.8,62.99 531.3,62.98 531.8,63.03 532.3,63.14 532.8,63.33 533.3,63.58 533.8,63.91 534.3,64.32 534.8,64.8 535.3,65.37 535.8,66.02 536.3,66.75 536.8,67.57 537.3,68.46 537.8,69.42 538.3,70.44 538.8,71.5 539.3,72.59 539.8,73.72 540.3,74.87 540.8,76.03 541.3,77.19 541.8,78.35 542.3,79.51 542.8,80.66 543.3,81.8 543.8,82.92 544.3,84.01 544.8,85.08 545.3,86.11 545.8,87.1 546.3,88.05 546.8,88.96 547.3,89.81 547.8,90.62 548.3,91.37 548.8,92.07 549.3,92.71 549.8,93.28 550.3,93.8 550.8,94.24 551.3,94.62 551.8,94.91 552.3,95.11 552.8,95.22 553.3,95.23 553.8,95.13 554.3,94.94 554.8,94.71 555.3,94.47 555.8,94.26 556.3,94.12 556.8,94.05 557.3,94.06 557.8,94.16 558.3,94.35 558.8,94.65 559.3,95.05 559.8,95.52 560.3,95.97 560.8,96.33 561.3,96.52 561.8,96.48 562.3,96.24 562.8,95.82 563.3,95.24 563.8,94.54 564.3,93.73 564.8,92.83 565.3,91.89 565.8,90.91 566.3,89.92 566.8,88.91 567.3,87.9 567.8,86.88 568.3,85.86 568.8,84.84 569.3,83.83 569.8,82.83 570.3,81.85 570.8,80.88 571.3,79.94 571.8,79.02 572.3,78.12 572.8,77.26 573.3,76.42 573.8,75.61 574.3,74.83 574.8,74.09 575.3,73.37 575.8,72.69 576.3,72.05 576.8,71.44 577.3,70.87 577.8,70.34 578.3,69.86 578.8,69.42 579.3,69.05 579.8,68.72 580.3,68.46 580.8,68.27 581.3,68.14 581.8,68.09 582.3,68.1 582.8,68.18 583.3,68.31 583.8,68.49 584.3,68.71 584.8,68.95 585.3,69.21 585.8,69.49 586.3,69.77 586.8,70.04 587.3,70.32 587.8,70.6 588.3,70.87 588.8,71.15 589.3,71.43 589.8,71.7 590.3,71.98 590.8,72.26 591.3,72.53 591.8,72.81 592.3,73.09 592.8,73.37 593.3,73.65 593.8,73.93 594.3,74.21 594.8,74.49 595.3,74.77 595.8,75.05 596.3,75.33 596.8,75.61 597.3,75.89 597.8,76.17 598.3,76.45 598.8,76.73 599.3,77 599.8,77.28 600.3,77.55 600.8,77.83 601.3,78.1 601.8,78.37 602.3,78.64 602.8,78.9 603.3,79.16 603.8,79.41 604.3,79.66 604.8,79.89 605.3,80.12 605.8,80.34 606.3,80.54 606.8,80.73 607.3,80.91 607.8,81.07 608.3,81.22 608.8,81.35 609.3,81.46 609.8,81.55 610.3,81.63 610.8,81.68 611.3,81.72 611.8,81.74 612.3,81.74 612.8,81.71 613.3,81.67 613.8,81.61 614.3,81.54 614.8,81.44 615.3,81.34 615.8,81.23 616.3,81.11 616.8,80.99 617.3,80.86 617.8,80.74 618.3,80.62 618.8,80.5 619.3,80.39 619.8,80.29 620.3,80.2 620.8,80.12 621.3,80.07 621.8,80.02 622.3,80 622.8,80.01 623.3,80.03 623.8,80.09 624.3,80.17 624.8,80.28 625.3,80.41 625.8,80.57 626.3,80.75 626.8,80.95 627.3,81.17 627.8,81.4 628.3,81.64 628.8,81.9 629.3,82.16 629.8,82.43 630.3,82.7 630.8,82.98 631.3,83.26 631.8,83.54 632.3,83.82 632.8,84.11 633.3,84.39 633.8,84.67 634.3,84.95 634.8,85.22 635.3,85.49 635.8,85.75 636.3,86 636.8,86.25 637.3,86.48 637.8,86.71 638.3,86.94 638.8,87.15 639.3,87.37 639.8,87.58 640.3,87.78 640.8,87.98 641.3,88.18 641.8,88.38 642.3,88.58 642.8,88.77 643.3,88.97 643.8,89.17 644.3,89.37 644.8,89.58 645.3,89.78 645.8,89.99 646.3,90.21 646.8,90.42 647.3,90.64 647.8,90.86 648.3,91.07 648.8,91.29 649.3,91.5 649.8,91.71 650.3,91.92 650.8,92.12 651.3,92.32 651.8,92.51 652.3,92.7 652.8,92.87 653.3,93.04 653.8,93.2 654.3,93.35 654.8,93.49 655.3,93.62 655.8,93.74 656.3,93.85 656.8,93.96 657.3,94.05 657.8,94.14 658.3,94.22 658.8,94.29 659.3,94.35 659.8,94.41 660.3,94.46 660.8,94.51 661.3,94.55 661.8,94.58 662.3,94.61 662.8,94.63 663.3,94.65 663.8,94.67 664.3,94.68 664.8,94.69 665.3,94.69 665.8,94.7 666.3,94.7 666.8,94.7 667.3,94.7 667.8,94.7 668.1,94.7" stroke="#000" stroke-width="2" fill="none" stroke-linejoin="round"/>
<path d="M415,191.7 415.5,191.2 416,190.69 416.5,190.17 417,189.63 417.5,189.06 418,188.47 418.5,187.84 419,187.16 419.5,186.44 420,185.69 420.5,184.9 421,184.09 421.5,183.27 422,182.45 422.5,181.62 423,180.81 423.5,180.02 424,179.25 424.5,178.52 425,177.82 425.5,177.15 426,176.53 426.5,175.95 427,175.4 427.5,174.9 428,174.44 428.5,174.03 429,173.66 429.5,173.34 430,173.07 430.5,172.84 431,172.67 431.5,172.55 432,172.48 432.5,172.46 433,172.48 433.5,172.53 434,172.61 434.5,172.71 435,172.82 435.5,172.93 436,173.04 436.5,173.14 437,173.22 437.5,173.27 438,173.29 438.5,173.27 439,173.2 439.5,173.07 440,172.88 440.5,172.62 441,172.3 441.5,171.91 442,171.46 442.5,170.96 443,170.39 443.5,169.77 444,169.09 444.5,168.35 445,167.57 445.5,166.74 446,165.87 446.5,164.96 447,164.02 447.5,163.04 448,162.04 448.5,161.02 449,159.97 449.5,158.91 450,157.84 450.5,156.77 451,155.71 451.5,154.65 452,153.61 452.5,152.59 453,151.6 453.5,150.65 454,149.73 454.5,148.87 455,148.05 455.5,147.29 456,146.56 456.5,145.88 457,145.23 457.5,144.61 458,144 458.5,143.42 459,142.84 459.5,142.27 460,141.71 460.5,141.15 461,140.6 461.5,140.05 462,139.51 462.5,138.97 463,138.43 463.5,137.88 464,137.34 464.5,136.8 465,136.25 465.5,135.7 466,135.15 466.5,134.59 467,134.02 467.5,133.45 468,132.87 468.5,132.28 469,131.68 469.5,131.06 470,130.44 470.5,129.8 471,129.15 471.5,128.49 472,127.85 472.5,127.22 473,126.61 473.5,126.04 474,125.52 474.5,125.06 475,124.67 475.5,124.35 476,124.13 476.5,124 477,123.98 477.5,124.06 478,124.22 478.5,124.47 479,124.78 479.5,125.15 480,125.57 480.5,126.02 481,126.5 481.5,127 482,127.51 482.5,128.02 483,128.55 483.5,129.08 484,129.62 484.5,130.16 485,130.72 485.5,131.28 486,131.85 486.5,132.43 487,133.01 487.5,133.55 488,134.02 488.5,134.41 489,134.68 489.5,134.8 490,134.74 490.5,134.52 491,134.14 491.5,133.63 492,133 492.5,132.28 493,131.47 493.5,130.59 494,129.63 494.5,128.6 495,127.49 495.5,126.3 496,125.03 496.5,123.69 497,122.31 497.5,120.91 498,119.52 498.5,118.16 499,116.84 499.5,115.56 500,114.33 500.5,113.14 501,112.02 501.5,110.95 502,109.95 502.5,109.04 503,108.24 503.5,107.55 504,107 504.5,106.59 505,106.33 505.5,106.2 506,106.21 506.5,106.36 507,106.63 507.5,107.01 508,107.48 508.5,108.05 509,108.7 509.5,109.43 510,110.28 510.5,111.28 511,112.44 511.5,113.8 512,115.37 512.5,117.1 513,118.95 513.5,120.85 514,122.75 514.5,124.6 515,126.38 515.5,128.11 516,129.81 516.5,131.5 517,133.2 517.5,134.92 518,136.65 518.5,138.4 519,140.14 519.5,141.87 520,143.58 520.5,145.26 521,146.88 521.5,148.42 522,149.87 522.5,151.2 523,152.4 523.5,153.45 524,154.37 524.5,155.15 525,155.78 525.5,156.28 526,156.64 526.5,156.88 527,156.99 527.5,156.99 528,156.89 528.5,156.71 529,156.45 529.5,156.15 530,155.82 530.5,155.47 531,155.13 531.5,154.81 532,154.52 532.5,154.27 533,154.08 533.5,153.95 534,153.9 534.5,153.93 535,154.06 535.5,154.28 536,154.59 536.5,155 537,155.5 537.5,156.09 538,156.78 538.5,157.56 539,158.44 539.5,159.4 540,160.46 540.5,161.59 541,162.8 541.5,164.08 542,165.43 542.5,166.84 543,168.3 543.5,169.81 544,171.36 544.5,172.93 545,174.5 545.5,176.05 546,177.58 546.5,179.05 547,180.47 547.5,181.8 548,183.04 548.5,184.16 549,185.14 549.5,185.98 550,186.64 550.5,187.11 551,187.38 551.5,187.45 552,187.34 552.5,187.11 553,186.78 553.5,186.39 554,185.97 554.5,185.57 555,185.22 555.5,184.95 556,184.77 556.5,184.67 557,184.63 557.5,184.63 558,184.66 558.5,184.71 559,184.76 559.5,184.79 560,184.8 560.5,184.75 561,184.65 561.5,184.48 562,184.25 562.5,183.97 563,183.64 563.5,183.27 564,182.86 564.5,182.42 565,181.96 565.5,181.48 566,180.99 566.5,180.5 567,180.01 567.5,179.51 568,179.01 568.5,178.49 569,177.96 569.5,177.41 570,176.85 570.5,176.25 571,175.64 571.5,174.99 572,174.31 572.5,173.6 573,172.85 573.5,172.06 574,171.24 574.5,170.41 575,169.57 575.5,168.75 576,167.95 576.5,167.18 577,166.46 577.5,165.79 578,165.2 578.5,164.69 579,164.27 579.5,163.95 580,163.7 580.5,163.52 581,163.41 581.5,163.35 582,163.34 582.5,163.36 583,163.4 583.5,163.46 584,163.55 584.5,163.65 585,163.79 585.5,163.95 586,164.15 586.5,164.38 587,164.65 587.5,164.97 588,165.33 588.5,165.73 589,166.16 589.5,166.62 590,167.11 590.5,167.61 591,168.13 591.5,168.65 592,169.18 592.5,169.7 593,170.21 593.5,170.72 594,171.21 594.5,171.69 595,172.15 595.5,172.6 596,173.03 596.5,173.44 597,173.83 597.5,174.2 598,174.54 598.5,174.86 599,175.15 599.5,175.42 600,175.65 600.5,175.85 601,176.02 601.5,176.15 602,176.24 602.5,176.29 603,176.3 603.5,176.27 604,176.2 604.5,176.1 605,175.98 605.5,175.84 606,175.69 606.5,175.53 607,175.36 607.5,175.2 608,175.04 608.5,174.89 609,174.76 609.5,174.64 610,174.54 610.5,174.46 611,174.4 611.5,174.36 612,174.34 612.5,174.36 613,174.4 613.5,174.47 614,174.58 614.5,174.71 615,174.87 615.5,175.07 616,175.29 616.5,175.54 617,175.82 617.5,176.13 618,176.46 618.5,176.82 619,177.19 619.5,177.59 620,177.99 620.5,178.41 621,178.83 621.5,179.26 622,179.69 622.5,180.11 623,180.53 623.5,180.95 624,181.34 624.5,181.73 625,182.1 625.5,182.46 626,182.8 626.5,183.13 627,183.43 627.5,183.72 628,183.98 628.5,184.22 629,184.44 629.5,184.63 630,184.8 630.5,184.94 631,185.05 631.5,185.15 632,185.23 632.5,185.3 633,185.35 633.5,185.39 634,185.43 634.5,185.47 635,185.51 635.5,185.55 636,185.59 636.5,185.63 637,185.68 637.5,185.73 638,185.79 638.5,185.85 639,185.92 639.5,185.99 640,186.07 640.5,186.16 641,186.26 641.5,186.37 642,186.48 642.5,186.6 643,186.72 643.5,186.86 644,186.99 644.5,187.13 645,187.28 645.5,187.43 646,187.58 646.5,187.73 647,187.89 647.5,188.04 648,188.2 648.5,188.36 649,188.51 649.5,188.67 650,188.83 650.5,188.98 651,189.15 651.5,189.31 652,189.47 652.5,189.64 653,189.82 653.5,189.99 654,190.17 654.5,190.36 655,190.54 655.5,190.71 656,190.87 656.5,191.01 657,191.13 657.5,191.23 658,191.29 658.5,191.31 659,191.29 659.5,191.25 660,191.18 660.5,191.08 661,190.98 661.5,190.86 662,190.74 662.5,190.62 663,190.51 663.5,190.41 664,190.31 664.5,190.22 665,190.14 665.5,190.06 666,189.99 666.5,189.92 667,189.85 667.5,189.78 668,189.71 668.1,189.7" stroke="#000" stroke-width="2" fill="none" stroke-linejoin="round"/>
<path d="M415,286.2 415.5,286.03 416,285.85 416.5,285.68 417,285.5 417.5,285.33 418,285.16 418.5,284.99 419,284.81 419.5,284.64 420,284.47 420.5,284.3 421,284.13 421.5,283.96 422,283.79 422.5,283.63 423,283.46 423.5,283.3 424,283.14 424.5,282.99 425,282.84 425.5,282.69 426,282.54 426.5,282.4 427,282.27 427.5,282.14 428,282.01 428.5,281.89 429,281.78 429.5,281.67 430,281.57 430.5,281.48 431,281.4 431.5,281.32 432,281.25 432.5,281.19 433,281.13 433.5,281.06 434,281 434.5,280.93 435,280.86 435.5,280.77 436,280.68 436.5,280.58 437,280.46 437.5,280.33 438,280.18 438.5,280.01 439,279.81 439.5,279.59 440,279.34 440.5,279.06 441,278.75 441.5,278.4 442,278.01 442.5,277.59 443,277.13 443.5,276.64 444,276.12 444.5,275.57 445,275 445.5,274.4 446,273.78 446.5,273.15 447,272.49 447.5,271.82 448,271.13 448.5,270.43 449,269.71 449.5,268.99 450,268.25 450.5,267.5 451,266.75 451.5,265.98 452,265.21 452.5,264.43 453,263.64 453.5,262.84 454,262.03 454.5,261.21 455,260.39 455.5,259.55 456,258.7 456.5,257.84 457,256.98 457.5,256.13 458,255.28 458.5,254.46 459,253.66 459.5,252.91 460,252.19 460.5,251.53 461,250.92 461.5,250.37 462,249.88 462.5,249.45 463,249.06 463.5,248.73 464,248.45 464.5,248.21 465,248.01 465.5,247.85 466,247.72 466.5,247.63 467,247.56 467.5,247.52 468,247.49 468.5,247.49 469,247.5 469.5,247.54 470,247.61 470.5,247.7 471,247.83 471.5,247.99 472,248.18 472.5,248.42 473,248.68 473.5,248.98 474,249.3 474.5,249.63 475,249.99 475.5,250.35 476,250.72 476.5,251.1 477,251.49 477.5,251.89 478,252.3 478.5,252.72 479,253.16 479.5,253.62 480,254.1 480.5,254.6 481,255.13 481.5,255.66 482,256.21 482.5,256.77 483,257.32 483.5,257.86 484,258.39 484.5,258.91 485,259.4 485.5,259.86 486,260.28 486.5,260.67 487,261.03 487.5,261.33 488,261.59 488.5,261.8 489,261.95 489.5,262.05 490,262.1 490.5,262.11 491,262.08 491.5,262.01 492,261.92 492.5,261.81 493,261.67 493.5,261.5 494,261.3 494.5,261.06 495,260.78 495.5,260.46 496,260.08 496.5,259.66 497,259.19 497.5,258.7 498,258.21 498.5,257.72 499,257.27 499.5,256.86 500,256.5 500.5,256.19 501,255.91 501.5,255.65 502,255.42 502.5,255.2 503,254.99 503.5,254.79 504,254.6 504.5,254.44 505,254.32 505.5,254.23 506,254.19 506.5,254.2 507,254.26 507.5,254.38 508,254.56 508.5,254.81 509,255.12 509.5,255.51 510,255.97 510.5,256.51 511,257.14 511.5,257.83 512,258.58 512.5,259.37 513,260.21 513.5,261.07 514,261.94 514.5,262.82 515,263.7 515.5,264.56 516,265.4 516.5,266.22 517,267.02 517.5,267.8 518,268.55 518.5,269.27 519,269.97 519.5,270.63 520,271.26 520.5,271.85 521,272.41 521.5,272.93 522,273.4 522.5,273.82 523,274.2 523.5,274.52 524,274.78 524.5,274.99 525,275.13 525.5,275.2 526,275.2 526.5,275.15 527,275.04 527.5,274.89 528,274.7 528.5,274.49 529,274.27 529.5,274.03 530,273.8 530.5,273.58 531,273.38 531.5,273.21 532,273.06 532.5,272.94 533,272.85 533.5,272.79 534,272.77 534.5,272.78 535,272.84 535.5,272.93 536,273.05 536.5,273.22 537,273.42 537.5,273.66 538,273.93 538.5,274.24 539,274.58 539.5,274.95 540,275.36 540.5,275.79 541,276.26 541.5,276.74 542,277.26 542.5,277.79 543,278.35 543.5,278.93 544,279.52 544.5,280.13 545,280.74 545.5,281.35 546,281.94 546.5,282.51 547,283.05 547.5,283.56 548,284.01 548.5,284.4 549,284.73 549.5,284.99 550,285.21 550.5,285.37 551,285.49 551.5,285.58 552,285.64 552.5,285.68 553,285.7 553.5,285.71 554,285.71 554.5,285.71 555,285.7 555.5,285.68 556,285.65 556.5,285.62 557,285.58 557.5,285.54 558,285.49 558.5,285.44 559,285.38 559.5,285.31 560,285.25 560.5,285.17 561,285.1 561.5,285.02 562,284.95 562.5,284.87 563,284.79 563.5,284.72 564,284.65 564.5,284.58 565,284.52 565.5,284.47 566,284.42 566.5,284.38 567,284.34 567.5,284.32 568,284.29 568.5,284.27 569,284.25 569.5,284.23 570,284.21 570.5,284.19 571,284.16 571.5,284.13 572,284.09 572.5,284.04 573,283.97 573.5,283.9 574,283.82 574.5,283.73 575,283.63 575.5,283.52 576,283.4 576.5,283.28 577,283.16 577.5,283.03 578,282.89 578.5,282.75 579,282.61 579.5,282.47 580,282.33 580.5,282.19 581,282.06 581.5,281.93 582,281.82 582.5,281.72 583,281.63 583.5,281.57 584,281.52 584.5,281.5 585,281.51 585.5,281.54 586,281.59 586.5,281.66 587,281.76 587.5,281.87 588,282 588.5,282.14 589,282.3 589.5,282.47 590,282.64 590.5,282.82 591,283.01 591.5,283.19 592,283.37 592.5,283.55 593,283.72 593.5,283.87 594,284.01 594.5,284.13 595,284.24 595.5,284.31 596,284.37 596.5,284.4 597,284.4 597.5,284.4 598,284.37 598.5,284.33 599,284.28 599.5,284.23 600,284.17 600.5,284.1 601,284.04 601.5,283.98 602,283.92 602.5,283.86 603,283.81 603.5,283.77 604,283.73 604.5,283.7 605,283.67 605.5,283.65 606,283.64 606.5,283.63 607,283.63 607.5,283.64 608,283.66 608.5,283.69 609,283.73 609.5,283.78 610,283.83 610.5,283.9 611,283.96 611.5,284.03 612,284.11 612.5,284.19 613,284.27 613.5,284.35 614,284.43 614.5,284.5 615,284.58 615.5,284.65 616,284.71 616.5,284.77 617,284.83 617.5,284.88 618,284.92 618.5,284.96 619,284.99 619.5,285.02 620,285.05 620.5,285.07 621,285.08 621.5,285.1 622,285.11 622.5,285.11 623,285.11 623.5,285.11 624,285.1 624.5,285.09 625,285.07 625.5,285.05 626,285.02 626.5,284.99 627,284.95 627.5,284.91 628,284.86 628.5,284.8 629,284.75 629.5,284.69 630,284.63 630.5,284.57 631,284.52 631.5,284.48 632,284.44 632.5,284.42 633,284.4 633.5,284.4 634,284.42 634.5,284.44 635,284.48 635.5,284.54 636,284.6 636.5,284.67 637,284.74 637.5,284.83 638,284.91 638.5,285 639,285.09 639.5,285.19 640,285.28 640.5,285.37 641,285.45 641.5,285.53 642,285.61 642.5,285.68 643,285.75 643.5,285.81 644,285.87 644.5,285.93 645,285.98 645.5,286.03 646,286.07 646.5,286.11 647,286.14 647.5,286.17 648,286.2 648.5,286.22 649,286.24 649.5,286.25 650,286.26 650.5,286.27 651,286.27 651.5,286.27 652,286.27 652.5,286.27 653,286.26 653.5,286.25 654,286.25 654.5,286.24 655,286.23 655.5,286.22 656,286.21 656.5,286.2 657,286.2 657.5,286.19 658,286.19 658.5,286.18 659,286.18 659.5,286.17 660,286.17 660.5,286.17 661,286.17 661.5,286.17 662,286.17 662.5,286.17 663,286.17 663.5,286.17 664,286.18 664.5,286.18 665,286.18 665.5,286.18 666,286.19 666.5,286.19 667,286.19 667.5,286.2 667.7,286.2" stroke="#000" stroke-width="2" fill="none" stroke-linejoin="round"/>
<path d="M415.3,381 415.8,380.47 416.3,379.95 416.8,379.44 417.3,378.95 417.8,378.49 418.3,378.06 418.8,377.67 419.3,377.31 419.8,376.99 420.3,376.69 420.8,376.42 421.3,376.18 421.8,375.96 422.3,375.77 422.8,375.6 423.3,375.45 423.8,375.3 424.3,375.17 424.8,375.03 425.3,374.88 425.8,374.72 426.3,374.53 426.8,374.32 427.3,374.08 427.8,373.8 428.3,373.47 428.8,373.09 429.3,372.66 429.8,372.18 430.3,371.66 430.8,371.1 431.3,370.5 431.8,369.86 432.3,369.2 432.8,368.51 433.3,367.8 433.8,367.07 434.3,366.34 434.8,365.62 435.3,364.9 435.8,364.19 436.3,363.51 436.8,362.86 437.3,362.25 437.8,361.68 438.3,361.16 438.8,360.68 439.3,360.24 439.8,359.84 440.3,359.47 440.8,359.13 441.3,358.82 441.8,358.53 442.3,358.25 442.8,357.99 443.3,357.73 443.8,357.47 444.3,357.19 444.8,356.9 445.3,356.58 445.8,356.23 446.3,355.84 446.8,355.41 447.3,354.95 447.8,354.46 448.3,353.95 448.8,353.42 449.3,352.89 449.8,352.35 450.3,351.82 450.8,351.3 451.3,350.79 451.8,350.31 452.3,349.85 452.8,349.44 453.3,349.06 453.8,348.73 454.3,348.46 454.8,348.25 455.3,348.1 455.8,348.03 456.3,348.02 456.8,348.06 457.3,348.15 457.8,348.28 458.3,348.44 458.8,348.61 459.3,348.8 459.8,348.99 460.3,349.17 460.8,349.34 461.3,349.49 461.8,349.62 462.3,349.71 462.8,349.78 463.3,349.8 463.8,349.78 464.3,349.72 464.8,349.63 465.3,349.52 465.8,349.38 466.3,349.24 466.8,349.09 467.3,348.94 467.8,348.8 468.3,348.67 468.8,348.57 469.3,348.48 469.8,348.4 470.3,348.35 470.8,348.32 471.3,348.32 471.8,348.34 472.3,348.39 472.8,348.46 473.3,348.58 473.8,348.75 474.3,348.98 474.8,349.29 475.3,349.7 475.8,350.21 476.3,350.84 476.8,351.6 477.3,352.49 477.8,353.52 478.3,354.7 478.8,356.02 479.3,357.46 479.8,358.96 480.3,360.49 480.8,362.01 481.3,363.46 481.8,364.83 482.3,366.07 482.8,367.15 483.3,368.06 483.8,368.75 484.3,369.23 484.8,369.54 485.3,369.71 485.8,369.79 486.3,369.8 486.8,369.78 487.3,369.73 487.8,369.66 488.3,369.55 488.8,369.41 489.3,369.24 489.8,369.04 490.3,368.8 490.8,368.53 491.3,368.24 491.8,367.91 492.3,367.56 492.8,367.19 493.3,366.79 493.8,366.38 494.3,365.96 494.8,365.53 495.3,365.12 495.8,364.75 496.3,364.42 496.8,364.16 497.3,363.98 497.8,363.9 498.3,363.94 498.8,364.1 499.3,364.36 499.8,364.74 500.3,365.21 500.8,365.78 501.3,366.44 501.8,367.18 502.3,367.97 502.8,368.8 503.3,369.63 503.8,370.44 504.3,371.21 504.8,371.91 505.3,372.53 505.8,373.05 506.3,373.47 506.8,373.77 507.3,373.96 507.8,374.02 508.3,373.98 508.8,373.85 509.3,373.63 509.8,373.36 510.3,373.03 510.8,372.66 511.3,372.28 511.8,371.89 512.3,371.5 512.8,371.13 513.3,370.79 513.8,370.47 514.3,370.18 514.8,369.92 515.3,369.69 515.8,369.5 516.3,369.34 516.8,369.22 517.3,369.15 517.8,369.11 518.3,369.12 518.8,369.18 519.3,369.29 519.8,369.45 520.3,369.66 520.8,369.92 521.3,370.24 521.8,370.61 522.3,371.03 522.8,371.5 523.3,372.03 523.8,372.59 524.3,373.19 524.8,373.8 525.3,374.4 525.8,375 526.3,375.57 526.8,376.1 527.3,376.58 527.8,377 528.3,377.36 528.8,377.66 529.3,377.89 529.8,378.04 530.3,378.12 530.8,378.13 531.3,378.06 531.8,377.94 532.3,377.77 532.8,377.56 533.3,377.31 533.8,377.03 534.3,376.74 534.8,376.44 535.3,376.14 535.8,375.83 536.3,375.54 536.8,375.25 537.3,374.99 537.8,374.74 538.3,374.51 538.8,374.31 539.3,374.15 539.8,374.02 540.3,373.93 540.8,373.89 541.3,373.9 541.8,373.95 542.3,374.06 542.8,374.23 543.3,374.45 543.8,374.74 544.3,375.08 544.8,375.47 545.3,375.89 545.8,376.32 546.3,376.75 546.8,377.15 547.3,377.51 547.8,377.8 548.3,378.02 548.8,378.17 549.3,378.25 549.8,378.27 550.3,378.24 550.8,378.16 551.3,378.05 551.8,377.91 552.3,377.76 552.8,377.62 553.3,377.5 553.8,377.42 554.3,377.4 554.8,377.44 555.3,377.56 555.8,377.72 556.3,377.92 556.8,378.15 557.3,378.38 557.8,378.62 558.3,378.83 558.8,379.01 559.3,379.15 559.8,379.22 560.3,379.23 560.8,379.19 561.3,379.1 561.8,378.97 562.3,378.81 562.8,378.62 563.3,378.43 563.8,378.22 564.3,378.02 564.8,377.84 565.3,377.67 565.8,377.52 566.3,377.4 566.8,377.31 567.3,377.24 567.8,377.2 568.3,377.18 568.8,377.2 569.3,377.25 569.8,377.33 570.3,377.45 570.8,377.6 571.3,377.76 571.8,377.92 572.3,378.08 572.8,378.21 573.3,378.31 573.8,378.36 574.3,378.35 574.8,378.26 575.3,378.08 575.8,377.83 576.3,377.51 576.8,377.15 577.3,376.77 577.8,376.38 578.3,376.01 578.8,375.67 579.3,375.38 579.8,375.13 580.3,374.93 580.8,374.77 581.3,374.66 581.8,374.59 582.3,374.56 582.8,374.58 583.3,374.64 583.8,374.74 584.3,374.87 584.8,375.03 585.3,375.22 585.8,375.42 586.3,375.63 586.8,375.84 587.3,376.06 587.8,376.27 588.3,376.47 588.8,376.66 589.3,376.84 589.8,377 590.3,377.14 590.8,377.26 591.3,377.36 591.8,377.44 592.3,377.49 592.8,377.51 593.3,377.5 593.8,377.46 594.3,377.4 594.8,377.33 595.3,377.23 595.8,377.12 596.3,376.99 596.8,376.86 597.3,376.72 597.8,376.57 598.3,376.43 598.8,376.28 599.3,376.14 599.8,376.01 600.3,375.88 600.8,375.76 601.3,375.65 601.8,375.55 602.3,375.47 602.8,375.4 603.3,375.34 603.8,375.31 604.3,375.3 604.8,375.31 605.3,375.34 605.8,375.4 606.3,375.47 606.8,375.58 607.3,375.7 607.8,375.85 608.3,376.02 608.8,376.22 609.3,376.44 609.8,376.69 610.3,376.97 610.8,377.26 611.3,377.57 611.8,377.88 612.3,378.18 612.8,378.46 613.3,378.72 613.8,378.94 614.3,379.12 614.8,379.25 615.3,379.32 615.8,379.31 616.3,379.23 616.8,379.07 617.3,378.85 617.8,378.58 618.3,378.27 618.8,377.93 619.3,377.58 619.8,377.22 620.3,376.86 620.8,376.53 621.3,376.22 621.8,375.95 622.3,375.71 622.8,375.5 623.3,375.33 623.8,375.19 624.3,375.09 624.8,375.03 625.3,375 625.8,375.01 626.3,375.05 626.8,375.13 627.3,375.23 627.8,375.36 628.3,375.52 628.8,375.69 629.3,375.88 629.8,376.09 630.3,376.31 630.8,376.54 631.3,376.77 631.8,377.01 632.3,377.25 632.8,377.5 633.3,377.74 633.8,377.97 634.3,378.2 634.8,378.42 635.3,378.63 635.8,378.82 636.3,379 636.8,379.16 637.3,379.3 637.8,379.43 638.3,379.53 638.8,379.62 639.3,379.68 639.8,379.72 640.3,379.74 640.8,379.74 641.3,379.71 641.8,379.66 642.3,379.59 642.8,379.5 643.3,379.39 643.8,379.28 644.3,379.16 644.8,379.04 645.3,378.91 645.8,378.79 646.3,378.68 646.8,378.58 647.3,378.5 647.8,378.43 648.3,378.39 648.8,378.37 649.3,378.39 649.8,378.43 650.3,378.51 650.8,378.61 651.3,378.73 651.8,378.87 652.3,379.03 652.8,379.18 653.3,379.34 653.8,379.49 654.3,379.63 654.8,379.76 655.3,379.86 655.8,379.94 656.3,379.99 656.8,380 657.3,379.97 657.8,379.91 658.3,379.82 658.8,379.7 659.3,379.57 659.8,379.42 660.3,379.28 660.8,379.13 661.3,378.99 661.8,378.86 662.3,378.75 662.8,378.67 663.3,378.62 663.8,378.59 664.3,378.58 664.8,378.59 665.3,378.63 665.8,378.67 666.3,378.73 666.8,378.8 667.3,378.87 667.8,378.95 668.1,379" stroke="#000" stroke-width="2" fill="none" stroke-linejoin="round"/>
<path d="M462.2,349.6 L503.29,23.12" stroke="#ff1f1f" stroke-width="2.1" stroke-dasharray="7.6,6.4" fill="none"/><path d="M504.6,12.7 L507.29,28.16 L503.23,23.61 L498.16,27.01 Z" fill="#ff1f1f"/>
<path d="M160.6,325.3 L231.23,273.51" stroke="#ff1f1f" stroke-width="2.1" stroke-dasharray="7.6,6.4" fill="none"/><path d="M239.7,267.3 L230.32,279.88 L230.83,273.8 L224.88,272.46 Z" fill="#ff1f1f"/>
<rect x="111.6" y="216.9" width="174.8" height="11.4" fill="url(#gCB)" stroke="#555" stroke-width="1"/>
<path d="M114.3,228.4 L114.3,231.5 M157.07,228.4 L157.07,231.5 M199.84,228.4 L199.84,231.5 M242.61,228.4 L242.61,231.5 M285.38,228.4 L285.38,231.5" stroke="#444" stroke-width="1"/>
<g fill="#000" stroke="#000" stroke-width="0.22"><text x="56.2" y="194.9" text-anchor="end" font-size="18.5">750</text>
<text x="56.2" y="149.8" text-anchor="end" font-size="18.5">775</text>
<text x="56.2" y="104.7" text-anchor="end" font-size="18.5">800</text>
<text x="56.2" y="59.6" text-anchor="end" font-size="18.5">825</text>
<text x="56.2" y="14.5" text-anchor="end" font-size="18.5">850</text>
<text x="56.2" y="391" text-anchor="end" font-size="18.5">400</text>
<text x="56.2" y="354.88" text-anchor="end" font-size="18.5">403</text>
<text x="56.2" y="318.76" text-anchor="end" font-size="18.5">406</text>
<text x="56.2" y="282.64" text-anchor="end" font-size="18.5">409</text>
<text x="56.2" y="246.52" text-anchor="end" font-size="18.5">412</text>
<text x="56.2" y="210.4" text-anchor="end" font-size="18.5">415</text>
<text x="64.2" y="406.7" text-anchor="middle" font-size="18.5">-3</text>
<text x="110.37" y="406.7" text-anchor="middle" font-size="18.5">-1.5</text>
<text x="156.53" y="406.7" text-anchor="middle" font-size="18.5">0</text>
<text x="202.7" y="406.7" text-anchor="middle" font-size="18.5">1.5</text>
<text x="248.87" y="406.7" text-anchor="middle" font-size="18.5">3</text>
<text x="295.03" y="406.7" text-anchor="middle" font-size="18.5">4.5</text>
<text x="341.2" y="406.7" text-anchor="middle" font-size="18.5">6</text>
<text x="398" y="61.48" text-anchor="end" font-size="18.5">0.5</text>
<text x="398" y="18.4" text-anchor="end" font-size="18.5">1.0</text>
<text x="398" y="155.91" text-anchor="end" font-size="18.5">0.5</text>
<text x="398" y="112.83" text-anchor="end" font-size="18.5">1.0</text>
<text x="398" y="250.34" text-anchor="end" font-size="18.5">0.5</text>
<text x="398" y="207.26" text-anchor="end" font-size="18.5">1.0</text>
<text x="398" y="387.84" text-anchor="end" font-size="18.5">0.0</text>
<text x="398" y="344.77" text-anchor="end" font-size="18.5">0.5</text>
<text x="398" y="301.69" text-anchor="end" font-size="18.5">1.0</text>
<text x="416" y="407.02" text-anchor="middle" font-size="19">0</text>
<text x="479.21" y="407.02" text-anchor="middle" font-size="19">30</text>
<text x="542.42" y="407.02" text-anchor="middle" font-size="19">60</text>
<text x="605.63" y="407.02" text-anchor="middle" font-size="19">90</text>
<text x="668.84" y="407.02" text-anchor="middle" font-size="19">120</text>
<text x="112.9" y="247.4" text-anchor="middle" font-size="16.8">0</text>
<text x="157.07" y="247.4" text-anchor="middle" font-size="16.8">0.25</text>
<text x="199.84" y="247.4" text-anchor="middle" font-size="16.8">0.5</text>
<text x="242.61" y="247.4" text-anchor="middle" font-size="16.8">0.75</text>
<text x="285.38" y="247.4" text-anchor="middle" font-size="16.8">1</text>
<text x="89" y="30.5" text-anchor="middle" font-size="19">(a)</text>
<text x="89.6" y="229.3" text-anchor="middle" font-size="19">(b)</text>
<text x="424" y="31" text-anchor="middle" font-size="19">(c)</text>
<text transform="translate(573.8,42.6) scale(1.058,1)" font-size="19.6"><tspan font-style="italic">d</tspan> = 2 mm</text>
<text transform="translate(573.3,137.9) scale(1.058,1)" font-size="19.6"><tspan font-style="italic">d</tspan> = 1.5 mm</text>
<text transform="translate(573.5,229.6) scale(1.058,1)" font-size="19.6"><tspan font-style="italic">d</tspan> = 0.75 mm</text>
<text transform="translate(574.8,327.5) scale(1.058,1)" font-size="19.6"><tspan font-style="italic">d</tspan> = 0 mm</text>
<text x="484.3" y="361" font-size="19.5">&#215;3</text>
<text transform="translate(203.6,428.3) scale(1.03,1)" text-anchor="middle" font-size="18.5"><tspan font-style="italic">d</tspan> (mm)</text>
<text transform="translate(542.2,428.3) scale(0.955,1)" text-anchor="middle" font-size="18.5">&#957; (THz)</text>
<text transform="translate(17.2,99.6) rotate(-90)" text-anchor="middle" font-size="18.5"><tspan font-style="italic">&#955;</tspan> (nm)</text>
<text transform="translate(17.2,293.4) rotate(-90)" text-anchor="middle" font-size="18.5"><tspan font-style="italic">&#955;</tspan> (nm)</text>
<text transform="translate(368.6,198.7) rotate(-90)" text-anchor="middle" font-size="17">Amplitude (arb.u)</text></g>
</svg>
</body></html>
